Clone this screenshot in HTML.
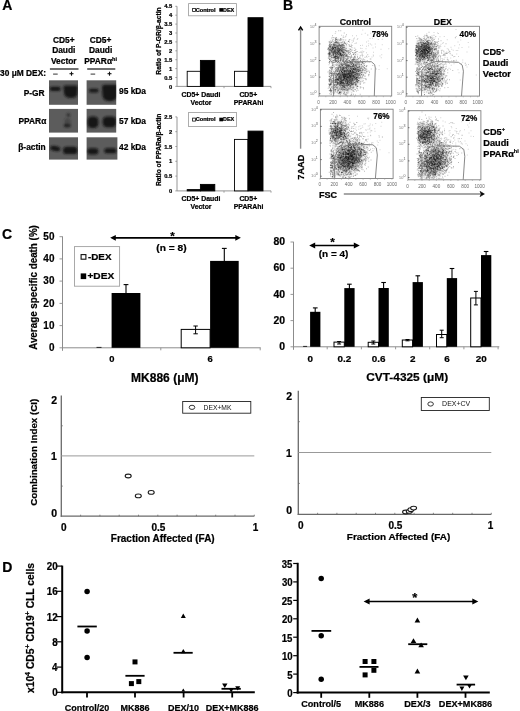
<!DOCTYPE html>
<html><head><meta charset="utf-8"><style>
html,body{margin:0;padding:0;background:#fff;width:520px;height:711px;overflow:hidden}
svg{display:block;will-change:transform}
text{font-family:"Liberation Sans",sans-serif}
text[font-weight=bold]{stroke:#000;stroke-width:0.22px}
</style></head><body>
<svg width="520" height="711" viewBox="0 0 520 711">
<defs>
<filter id="bb" x="-50%" y="-50%" width="200%" height="200%"><feGaussianBlur stdDeviation="1.0"/></filter>
<radialGradient id="hz"><stop offset="0" stop-color="#000" stop-opacity="1"/><stop offset="0.5" stop-color="#000" stop-opacity="0.6"/><stop offset="1" stop-color="#000" stop-opacity="0"/></radialGradient>
<filter id="db" x="-5%" y="-5%" width="110%" height="110%"><feGaussianBlur stdDeviation="0.45"/></filter>
<filter id="bn" x="0" y="0" width="100%" height="100%"><feTurbulence type="fractalNoise" baseFrequency="0.9" numOctaves="1" seed="3" result="n"/><feColorMatrix in="n" type="matrix" values="0 0 0 0 0.42  0 0 0 0 0.42  0 0 0 0 0.42  0 0 0 0.18 0" result="c"/><feComposite in="c" in2="SourceGraphic" operator="atop"/></filter>
</defs>
<rect width="520" height="711" fill="#fff"/>
<text x="2.2" y="9.5" font-size="14" text-anchor="start" font-weight="bold" fill="#000" >A</text>
<text x="63.8" y="42.6" font-size="8.4" text-anchor="middle" font-weight="bold" fill="#000" >CD5+</text>
<text x="63.8" y="53.2" font-size="8.4" text-anchor="middle" font-weight="bold" fill="#000" >Daudi</text>
<text x="63.8" y="63.8" font-size="8.4" text-anchor="middle" font-weight="bold" fill="#000" >Vector</text>
<text x="100.6" y="42.6" font-size="8.4" text-anchor="middle" font-weight="bold" fill="#000" >CD5+</text>
<text x="100.6" y="53.2" font-size="8.4" text-anchor="middle" font-weight="bold" fill="#000" >Daudi</text>
<text x="100.6" y="63.8" font-size="8.4" text-anchor="middle" font-weight="bold" fill="#000" >PPARα<tspan font-size="5.5" dy="-3.2">hi</tspan></text>
<line x1="49.9" y1="69.0" x2="78.5" y2="69.0" stroke="#222" stroke-width="1.3"/>
<line x1="87.2" y1="69.0" x2="115.3" y2="69.0" stroke="#222" stroke-width="1.3"/>
<text x="0.11" y="76.30" font-size="8.4" font-weight="bold" fill="#000" textLength="45.89" lengthAdjust="spacingAndGlyphs">30 μM DEX:</text>
<line x1="53.1" y1="74.1" x2="57.7" y2="74.1" stroke="#333" stroke-width="1.0"/>
<line x1="90.6" y1="74.1" x2="95.2" y2="74.1" stroke="#333" stroke-width="1.0"/>
<line x1="69.5" y1="73.7" x2="73.5" y2="73.7" stroke="#111" stroke-width="1.1"/>
<line x1="71.5" y1="71.7" x2="71.5" y2="75.7" stroke="#111" stroke-width="1.1"/>
<line x1="107.5" y1="73.7" x2="111.5" y2="73.7" stroke="#111" stroke-width="1.1"/>
<line x1="109.5" y1="71.7" x2="109.5" y2="75.7" stroke="#111" stroke-width="1.1"/>
<clipPath id="cb0"><rect x="49.0" y="80.3" width="29.0" height="24.5"/></clipPath>
<rect x="49.0" y="80.3" width="29.0" height="24.5" fill="#5c5c5c" stroke="none" stroke-width="1" />
<clipPath id="cb1"><rect x="86.6" y="80.3" width="29.6" height="24.5"/></clipPath>
<rect x="86.6" y="80.3" width="29.6" height="24.5" fill="#5c5c5c" stroke="none" stroke-width="1" />
<clipPath id="cb2"><rect x="49.0" y="108.9" width="29.0" height="23.7"/></clipPath>
<rect x="49.0" y="108.9" width="29.0" height="23.7" fill="#5c5c5c" stroke="none" stroke-width="1" />
<clipPath id="cb3"><rect x="86.6" y="108.9" width="29.6" height="23.7"/></clipPath>
<rect x="86.6" y="108.9" width="29.6" height="23.7" fill="#5c5c5c" stroke="none" stroke-width="1" />
<clipPath id="cb4"><rect x="49.0" y="137.3" width="29.0" height="22.3"/></clipPath>
<rect x="49.0" y="137.3" width="29.0" height="22.3" fill="#5c5c5c" stroke="none" stroke-width="1" />
<clipPath id="cb5"><rect x="86.6" y="137.3" width="30.8" height="22.3"/></clipPath>
<rect x="86.6" y="137.3" width="30.8" height="22.3" fill="#5c5c5c" stroke="none" stroke-width="1" />
<g clip-path="url(#cb0)"><g filter="url(#bb)"><rect x="49.8" y="86.8" width="10.8" height="4.2" rx="1.9" fill="#161616" opacity="1"/><path d="M63.4 87.2Q63.4 85.6 65.2 85.6L76.2 85.6Q77.9 85.6 77.8 87.6L77.4 94Q76.8 98.0 71.0 98.0Q65.0 98.0 64.2 94Z" fill="#161616" opacity="1"/></g></g>
<g clip-path="url(#cb1)"><g filter="url(#bb)"><rect x="88.9" y="88.7" width="9.7" height="3.9" rx="1.8" fill="#161616" opacity="1"/><path d="M102.0 87.0Q102.0 84.8 104.6 84.8L117 84.8L117 96.5Q115.8 101.2 109.6 101.2Q103.2 101.2 102.6 96Z" fill="#161616" opacity="1"/></g></g>
<g clip-path="url(#cb2)"><g filter="url(#bb)"><ellipse cx="68.4" cy="114.9" rx="1.9" ry="1.9" fill="#222" opacity="0.75" transform="rotate(0 68.4 114.9)"/><rect x="64.4" y="118.6" width="6.0" height="6.0" rx="2" fill="#2a2a2a" opacity="0.45"/><rect x="63.8" y="124.0" width="6.8" height="3.2" rx="1.4" fill="#1a1a1a" opacity="0.95"/></g></g>
<g clip-path="url(#cb3)"><g filter="url(#bb)"><rect x="87.4" y="116.6" width="11.0" height="11.4" rx="4.2" fill="#161616" opacity="1"/><rect x="102.6" y="116.6" width="13.8" height="10.7" rx="4.2" fill="#161616" opacity="1"/></g></g>
<g clip-path="url(#cb4)"><g filter="url(#bb)"><ellipse cx="55.2" cy="148.5" rx="5.2" ry="2.6" fill="#161616" opacity="1" transform="rotate(8 55.2 148.5)"/><rect x="63.0" y="146.8" width="14.6" height="7.2" rx="3.6" fill="#161616" opacity="1"/></g></g>
<g clip-path="url(#cb5)"><g filter="url(#bb)"><rect x="87.2" y="148.2" width="11.2" height="6.2" rx="3.1" fill="#161616" opacity="1"/><rect x="104.2" y="148.3" width="12.4" height="5.0" rx="2.5" fill="#161616" opacity="1"/></g></g>
<text x="44.6" y="95.8" font-size="8.4" text-anchor="end" font-weight="bold" fill="#000" >P-GR</text>
<text x="46.3" y="123.7" font-size="8.4" text-anchor="end" font-weight="bold" fill="#000" >PPARα</text>
<text x="45.7" y="149.8" font-size="8.4" text-anchor="end" font-weight="bold" fill="#000" >β-actin</text>
<text x="119.0" y="94.1" font-size="8.4" text-anchor="start" font-weight="bold" fill="#000" >95 kDa</text>
<text x="119.0" y="123.7" font-size="8.4" text-anchor="start" font-weight="bold" fill="#000" >57 kDa</text>
<text x="119.0" y="150.4" font-size="8.4" text-anchor="start" font-weight="bold" fill="#000" >42 kDa</text>
<line x1="177.0" y1="6.3" x2="177.0" y2="86.4" stroke="#8a8a8a" stroke-width="0.9"/>
<line x1="177.0" y1="86.4" x2="271.0" y2="86.4" stroke="#8a8a8a" stroke-width="0.9"/>
<line x1="175.3" y1="86.4" x2="177.0" y2="86.4" stroke="#8a8a8a" stroke-width="0.8"/>
<text x="172.2" y="88.5" font-size="5.8" text-anchor="end" font-weight="bold" fill="#000" >0</text>
<line x1="175.3" y1="77.5" x2="177.0" y2="77.5" stroke="#8a8a8a" stroke-width="0.8"/>
<text x="172.2" y="79.6" font-size="5.8" text-anchor="end" font-weight="bold" fill="#000" >0.5</text>
<line x1="175.3" y1="68.6" x2="177.0" y2="68.6" stroke="#8a8a8a" stroke-width="0.8"/>
<text x="172.2" y="70.7" font-size="5.8" text-anchor="end" font-weight="bold" fill="#000" >1</text>
<line x1="175.3" y1="59.7" x2="177.0" y2="59.7" stroke="#8a8a8a" stroke-width="0.8"/>
<text x="172.2" y="61.8" font-size="5.8" text-anchor="end" font-weight="bold" fill="#000" >1.5</text>
<line x1="175.3" y1="50.8" x2="177.0" y2="50.8" stroke="#8a8a8a" stroke-width="0.8"/>
<text x="172.2" y="52.9" font-size="5.8" text-anchor="end" font-weight="bold" fill="#000" >2</text>
<line x1="175.3" y1="41.9" x2="177.0" y2="41.9" stroke="#8a8a8a" stroke-width="0.8"/>
<text x="172.2" y="44.0" font-size="5.8" text-anchor="end" font-weight="bold" fill="#000" >2.5</text>
<line x1="175.3" y1="33.0" x2="177.0" y2="33.0" stroke="#8a8a8a" stroke-width="0.8"/>
<text x="172.2" y="35.1" font-size="5.8" text-anchor="end" font-weight="bold" fill="#000" >3</text>
<line x1="175.3" y1="24.1" x2="177.0" y2="24.1" stroke="#8a8a8a" stroke-width="0.8"/>
<text x="172.2" y="26.2" font-size="5.8" text-anchor="end" font-weight="bold" fill="#000" >3.5</text>
<line x1="175.3" y1="15.2" x2="177.0" y2="15.2" stroke="#8a8a8a" stroke-width="0.8"/>
<text x="172.2" y="17.3" font-size="5.8" text-anchor="end" font-weight="bold" fill="#000" >4</text>
<line x1="175.3" y1="6.3" x2="177.0" y2="6.3" stroke="#8a8a8a" stroke-width="0.8"/>
<text x="172.2" y="8.4" font-size="5.8" text-anchor="end" font-weight="bold" fill="#000" >4.5</text>
<line x1="224.0" y1="86.4" x2="224.0" y2="88.2" stroke="#8a8a8a" stroke-width="0.8"/>
<line x1="271.0" y1="86.4" x2="271.0" y2="88.2" stroke="#8a8a8a" stroke-width="0.8"/>
<rect x="187.2" y="71.3" width="13.2" height="15.1" fill="#fff" stroke="#000" stroke-width="0.9" />
<rect x="200.4" y="60.4" width="14.4" height="26.0" fill="#000" stroke="#000" stroke-width="0.9" />
<rect x="234.5" y="71.3" width="13.5" height="15.1" fill="#fff" stroke="#000" stroke-width="0.9" />
<rect x="248.0" y="17.7" width="15.0" height="68.7" fill="#000" stroke="#000" stroke-width="0.9" />
<rect x="188.6" y="3.6" width="47.8" height="12.2" fill="#fff" stroke="#999" stroke-width="0.8" />
<rect x="192.6" y="8.5" width="2.8" height="3.0" fill="#fff" stroke="#111" stroke-width="0.8" />
<text x="195.77" y="11.80" font-size="5.2" font-weight="bold" fill="#000" textLength="19.82" lengthAdjust="spacingAndGlyphs">Control</text>
<rect x="219.3" y="8.1" width="3.7" height="3.6" fill="#000" stroke="none" stroke-width="1" />
<text x="223.04" y="11.80" font-size="5.2" font-weight="bold" fill="#000" textLength="11.21" lengthAdjust="spacingAndGlyphs">DEX</text>
<text transform="translate(161.4,41.0) rotate(-90)" font-size="6.7" text-anchor="middle" font-weight="bold" fill="#000">Ratio of P-GR/β-actin</text>
<text x="201.0" y="97.4" font-size="6.9" text-anchor="middle" font-weight="bold" fill="#000" >CD5+ Daudi</text>
<text x="201.0" y="105.3" font-size="6.9" text-anchor="middle" font-weight="bold" fill="#000" >Vector</text>
<text x="248.3" y="97.4" font-size="6.9" text-anchor="middle" font-weight="bold" fill="#000" >CD5+</text>
<text x="248.6" y="105.3" font-size="6.9" text-anchor="middle" font-weight="bold" fill="#000" >PPARAhi</text>
<line x1="177.0" y1="116.9" x2="177.0" y2="190.9" stroke="#8a8a8a" stroke-width="0.9"/>
<line x1="177.0" y1="190.9" x2="271.0" y2="190.9" stroke="#8a8a8a" stroke-width="0.9"/>
<line x1="175.3" y1="190.9" x2="177.0" y2="190.9" stroke="#8a8a8a" stroke-width="0.8"/>
<text x="172.2" y="193.0" font-size="5.8" text-anchor="end" font-weight="bold" fill="#000" >0</text>
<line x1="175.3" y1="176.1" x2="177.0" y2="176.1" stroke="#8a8a8a" stroke-width="0.8"/>
<text x="172.2" y="178.2" font-size="5.8" text-anchor="end" font-weight="bold" fill="#000" >0.5</text>
<line x1="175.3" y1="161.3" x2="177.0" y2="161.3" stroke="#8a8a8a" stroke-width="0.8"/>
<text x="172.2" y="163.4" font-size="5.8" text-anchor="end" font-weight="bold" fill="#000" >1</text>
<line x1="175.3" y1="146.5" x2="177.0" y2="146.5" stroke="#8a8a8a" stroke-width="0.8"/>
<text x="172.2" y="148.6" font-size="5.8" text-anchor="end" font-weight="bold" fill="#000" >1.5</text>
<line x1="175.3" y1="131.7" x2="177.0" y2="131.7" stroke="#8a8a8a" stroke-width="0.8"/>
<text x="172.2" y="133.8" font-size="5.8" text-anchor="end" font-weight="bold" fill="#000" >2</text>
<line x1="175.3" y1="116.9" x2="177.0" y2="116.9" stroke="#8a8a8a" stroke-width="0.8"/>
<text x="172.2" y="119.0" font-size="5.8" text-anchor="end" font-weight="bold" fill="#000" >2.5</text>
<line x1="224.0" y1="190.9" x2="224.0" y2="192.7" stroke="#8a8a8a" stroke-width="0.8"/>
<line x1="271.0" y1="190.9" x2="271.0" y2="192.7" stroke="#8a8a8a" stroke-width="0.8"/>
<rect x="187.2" y="189.6" width="13.2" height="1.3" fill="#000" stroke="#000" stroke-width="0.9" />
<rect x="200.4" y="184.4" width="14.4" height="6.5" fill="#000" stroke="#000" stroke-width="0.9" />
<rect x="234.5" y="139.4" width="13.5" height="51.5" fill="#fff" stroke="#000" stroke-width="0.9" />
<rect x="248.0" y="131.1" width="15.0" height="59.8" fill="#000" stroke="#000" stroke-width="0.9" />
<rect x="188.6" y="112.4" width="47.8" height="14.2" fill="#fff" stroke="#999" stroke-width="0.8" />
<rect x="192.6" y="118.1" width="2.8" height="3.0" fill="#fff" stroke="#111" stroke-width="0.8" />
<text x="195.77" y="121.40" font-size="5.2" font-weight="bold" fill="#000" textLength="19.82" lengthAdjust="spacingAndGlyphs">Control</text>
<rect x="219.3" y="117.7" width="3.7" height="3.6" fill="#000" stroke="none" stroke-width="1" />
<text x="223.04" y="121.40" font-size="5.2" font-weight="bold" fill="#000" textLength="11.21" lengthAdjust="spacingAndGlyphs">DEX</text>
<text transform="translate(161.4,149.8) rotate(-90)" font-size="6.7" text-anchor="middle" font-weight="bold" fill="#000">Ratio of PPARa/β-actin</text>
<text x="201.0" y="201.4" font-size="6.9" text-anchor="middle" font-weight="bold" fill="#000" >CD5+ Daudi</text>
<text x="201.0" y="209.3" font-size="6.9" text-anchor="middle" font-weight="bold" fill="#000" >Vector</text>
<text x="248.3" y="201.4" font-size="6.9" text-anchor="middle" font-weight="bold" fill="#000" >CD5+</text>
<text x="248.6" y="209.3" font-size="6.9" text-anchor="middle" font-weight="bold" fill="#000" >PPARAhi</text>
<text x="282.9" y="9.7" font-size="14" text-anchor="start" font-weight="bold" fill="#000" >B</text>
<clipPath id="fp1"><rect x="328.7" y="26.8" width="62.5" height="68.7"/></clipPath>
<g clip-path="url(#fp1)"><ellipse cx="336.6" cy="51.3" rx="14.7" ry="14.7" transform="rotate(-35 336.6 51.3)" fill="url(#hz)" opacity="0.15"/><ellipse cx="347.6" cy="76.3" rx="23.0" ry="16.1" transform="rotate(-48 347.6 76.3)" fill="url(#hz)" opacity="0.29"/></g>
<g filter="url(#db)"><path transform="scale(.25)" d="M1326 231h0M1360 180h0M1318 223h0M1373 221h0M1368 205h0M1393 203h0M1340 201h0M1396 161h0M1313 193h0M1351 207h0M1338 209h0M1362 216h0M1372 193h0M1319 246h0M1316 227h0M1333 221h0M1415 156h0M1345 165h0M1350 223h0M1350 214h0M1334 183h0M1346 180h0M1378 167h0M1361 195h0M1358 179h0M1366 188h0M1382 200h0M1338 187h0M1369 204h0M1375 173h0M1365 208h0M1355 205h0M1341 190h0M1319 212h0M1381 228h0M1382 213h0M1373 208h0M1362 219h0M1379 172h0M1361 256h0M1366 222h0M1348 169h0M1424 207h0M1361 218h0M1336 185h0M1350 215h0M1380 204h0M1368 233h0M1342 233h0M1365 183h0M1359 213h0M1364 161h0M1356 219h0M1397 242h0M1354 171h0M1341 216h0M1408 182h0M1372 236h0M1372 245h0M1325 205h0M1382 224h0M1365 202h0M1326 203h0M1354 190h0M1364 195h0M1341 213h0M1368 217h0M1333 207h0M1341 259h0M1374 180h0M1318 186h0M1353 207h0M1396 178h0M1379 188h0M1315 233h0M1364 302h0M1378 201h0M1321 174h0M1327 152h0M1345 244h0M1364 156h0M1327 246h0M1350 172h0M1322 201h0M1383 201h0M1388 173h0M1329 187h0M1325 179h0M1319 246h0M1389 202h0M1378 191h0M1333 218h0M1322 187h0M1348 208h0M1357 242h0M1359 215h0M1360 170h0M1316 250h0M1351 243h0M1368 221h0M1332 150h0M1352 181h0M1324 207h0M1375 212h0M1343 156h0M1353 219h0M1334 222h0M1366 223h0M1317 200h0M1356 253h0M1367 187h0M1353 204h0M1348 198h0M1321 184h0M1357 249h0M1359 199h0M1343 210h0M1344 186h0M1354 207h0M1319 200h0M1330 143h0M1332 196h0M1335 216h0M1371 190h0M1334 194h0M1357 226h0M1321 187h0M1333 249h0M1350 195h0M1367 170h0M1374 211h0M1340 238h0M1356 160h0M1363 182h0M1330 199h0M1387 242h0M1399 158h0M1356 261h0M1348 182h0M1374 203h0M1342 209h0M1344 196h0M1342 190h0M1350 250h0M1360 209h0M1345 166h0M1364 181h0M1353 196h0M1369 227h0M1361 244h0M1316 197h0M1346 172h0M1352 230h0M1346 150h0M1385 237h0M1368 183h0M1329 208h0M1318 217h0M1340 205h0M1368 183h0M1331 249h0M1317 212h0M1339 200h0M1322 215h0M1383 160h0M1360 231h0M1373 210h0M1336 151h0M1330 221h0M1376 225h0M1353 193h0M1344 200h0M1361 216h0M1327 193h0M1345 241h0M1388 207h0M1377 210h0M1356 219h0M1321 216h0M1342 231h0M1333 211h0M1375 228h0M1316 197h0M1347 170h0M1348 187h0M1317 169h0M1354 184h0M1358 262h0M1413 268h0M1350 192h0M1372 237h0M1352 215h0M1344 179h0M1342 193h0M1333 242h0M1361 197h0M1355 196h0M1355 211h0M1353 206h0M1317 214h0M1332 208h0M1361 214h0M1343 127h0M1352 195h0M1408 191h0M1318 238h0M1350 234h0M1323 219h0M1342 205h0M1371 219h0M1330 185h0M1359 214h0M1343 207h0M1360 161h0M1321 200h0M1316 205h0M1381 175h0M1376 253h0M1320 170h0M1341 180h0M1362 155h0M1334 182h0M1339 198h0M1347 234h0M1367 193h0M1312 196h0M1387 251h0M1325 195h0M1316 192h0M1323 215h0M1376 184h0M1350 202h0M1360 227h0M1363 200h0M1344 217h0M1378 251h0M1317 214h0M1369 181h0M1376 183h0M1344 195h0M1402 186h0M1373 216h0M1373 218h0M1338 204h0M1362 183h0M1315 220h0M1344 226h0M1316 194h0M1362 243h0M1348 209h0M1351 211h0M1386 221h0M1332 258h0M1342 199h0M1394 166h0M1401 197h0M1332 231h0M1360 192h0M1326 185h0M1381 173h0M1334 205h0M1319 200h0M1353 210h0M1334 211h0M1325 237h0M1334 221h0M1320 208h0M1333 177h0M1398 168h0M1334 191h0M1400 211h0M1333 172h0M1345 226h0M1318 188h0M1337 191h0M1388 263h0M1368 157h0M1355 202h0M1359 229h0M1335 203h0M1337 209h0M1385 203h0M1342 234h0M1364 221h0M1317 166h0M1359 203h0M1338 170h0M1338 190h0M1337 223h0M1341 181h0M1351 237h0M1335 227h0M1399 205h0M1357 204h0M1318 211h0M1328 194h0M1342 196h0M1375 230h0M1368 203h0M1319 177h0M1352 218h0M1344 246h0M1345 218h0M1321 184h0M1373 150h0M1357 180h0M1340 184h0M1351 231h0M1375 159h0M1361 225h0M1344 229h0M1339 229h0M1373 224h0M1337 175h0M1344 172h0M1384 226h0M1351 185h0M1374 191h0M1315 216h0M1372 178h0M1344 196h0M1357 204h0M1383 202h0M1387 217h0M1328 199h0M1378 236h0M1340 227h0M1373 177h0M1321 224h0M1318 177h0M1357 181h0M1341 168h0M1348 159h0M1342 152h0M1370 177h0M1339 179h0M1340 218h0M1344 220h0M1367 222h0M1369 269h0M1368 200h0M1383 209h0M1339 191h0M1374 199h0M1358 201h0M1362 215h0M1373 236h0M1328 205h0M1364 216h0M1385 225h0M1354 237h0M1341 176h0M1374 251h0M1356 184h0M1333 217h0M1406 187h0M1339 181h0M1318 218h0M1381 275h0M1329 198h0M1371 190h0M1339 250h0M1320 182h0M1360 211h0M1350 225h0M1351 175h0M1362 233h0M1388 220h0M1386 178h0M1346 158h0M1367 203h0M1338 197h0M1325 225h0M1368 179h0M1348 183h0M1337 180h0M1351 195h0M1344 188h0M1317 216h0M1391 223h0M1351 227h0M1368 202h0M1319 235h0M1343 244h0M1372 207h0M1342 168h0M1368 193h0M1332 193h0M1319 211h0M1414 164h0M1341 189h0M1325 203h0M1341 237h0M1353 227h0M1336 242h0M1356 220h0M1331 188h0M1365 178h0M1330 189h0M1345 194h0M1357 208h0M1369 218h0M1344 171h0M1365 204h0M1359 210h0M1343 214h0M1358 181h0M1315 224h0M1323 164h0M1341 227h0M1345 209h0M1333 243h0M1380 175h0M1314 192h0M1367 194h0M1348 242h0M1371 207h0M1342 170h0M1387 222h0M1357 175h0M1345 235h0M1385 216h0M1370 185h0M1396 241h0M1330 202h0M1366 204h0M1353 264h0M1344 234h0M1414 217h0M1400 218h0M1315 216h0M1327 210h0M1377 132h0M1340 171h0M1394 213h0M1366 256h0M1367 231h0M1345 189h0M1337 208h0M1361 199h0M1393 166h0M1326 197h0M1339 239h0M1345 201h0M1369 222h0M1371 212h0M1331 208h0M1329 215h0M1324 209h0M1340 203h0M1334 199h0M1369 179h0M1328 224h0M1324 169h0M1344 155h0M1336 230h0M1318 219h0M1318 253h0M1348 214h0M1324 179h0M1334 187h0M1337 205h0M1374 210h0M1325 220h0M1384 194h0M1329 213h0M1353 230h0M1353 213h0M1373 144h0M1326 247h0M1376 235h0M1392 206h0M1378 210h0M1347 205h0M1359 222h0M1348 214h0M1360 160h0M1339 228h0M1339 206h0M1397 183h0M1354 234h0M1383 145h0M1334 217h0M1365 260h0M1352 189h0M1345 181h0M1335 216h0M1363 123h0M1375 227h0M1390 235h0M1358 202h0M1331 189h0M1363 156h0M1336 196h0M1340 214h0M1362 221h0M1334 194h0M1363 215h0M1340 242h0M1354 172h0M1361 221h0M1365 172h0M1362 238h0M1419 202h0M1329 231h0M1339 208h0M1325 205h0M1373 243h0M1367 204h0M1336 189h0M1360 235h0M1393 234h0M1352 201h0M1318 237h0M1333 262h0M1333 214h0M1343 243h0M1334 177h0M1320 189h0M1356 193h0M1340 191h0M1328 204h0M1322 242h0M1330 163h0M1365 228h0M1370 229h0M1341 209h0M1359 213h0M1373 191h0M1332 229h0M1370 245h0M1402 197h0M1315 211h0M1340 187h0M1367 212h0M1367 198h0M1315 201h0M1363 235h0M1394 203h0M1364 214h0M1383 220h0M1342 160h0M1372 199h0M1344 223h0M1352 200h0M1313 232h0M1357 196h0M1320 238h0M1364 198h0M1350 192h0M1340 226h0M1342 214h0M1425 172h0M1325 169h0M1360 220h0M1328 211h0M1344 228h0M1373 182h0M1371 196h0M1338 202h0M1347 245h0M1350 171h0M1353 178h0M1332 252h0M1337 249h0M1364 221h0M1374 222h0M1362 212h0M1368 225h0M1353 232h0M1377 182h0M1348 188h0M1344 215h0M1326 192h0M1349 210h0M1364 215h0M1330 261h0M1331 192h0M1345 220h0M1359 185h0M1326 169h0M1348 200h0M1350 230h0M1399 201h0M1352 249h0M1339 209h0M1341 223h0M1360 200h0M1340 205h0M1352 231h0M1333 210h0M1331 193h0M1320 178h0M1363 211h0M1363 242h0M1337 229h0M1349 187h0M1354 227h0M1352 210h0M1379 189h0M1362 190h0M1375 232h0M1349 187h0M1336 203h0M1334 228h0M1371 199h0M1350 235h0M1353 219h0M1337 233h0M1381 221h0M1353 214h0M1347 232h0M1378 216h0M1321 185h0M1342 202h0M1340 229h0M1372 200h0M1375 197h0M1318 207h0M1349 225h0M1368 195h0M1356 173h0M1366 238h0M1371 220h0M1343 239h0M1371 169h0M1311 198h0M1336 230h0M1367 249h0M1351 181h0M1349 199h0M1376 213h0M1352 229h0M1357 195h0M1362 216h0M1330 196h0M1373 187h0M1341 223h0M1317 228h0M1312 216h0M1362 189h0M1347 259h0M1355 245h0M1315 183h0M1378 170h0M1379 219h0M1321 226h0M1343 226h0M1328 179h0M1359 220h0M1349 221h0M1335 212h0M1356 203h0M1386 206h0M1374 208h0M1333 179h0M1393 226h0M1348 197h0M1363 231h0M1338 181h0M1332 192h0M1330 190h0M1350 248h0M1345 157h0M1320 210h0M1319 182h0M1342 159h0M1371 210h0M1330 197h0M1350 207h0M1356 195h0M1324 191h0M1321 200h0M1386 139h0M1385 193h0M1354 206h0M1362 244h0M1357 197h0M1347 211h0M1319 215h0M1343 227h0M1332 158h0M1356 229h0M1365 188h0M1320 187h0M1342 191h0M1357 211h0M1356 189h0M1336 213h0M1347 210h0M1332 208h0M1326 202h0M1366 227h0M1344 225h0M1355 203h0M1353 184h0M1363 203h0M1387 237h0M1326 222h0M1340 180h0M1378 197h0M1313 192h0M1372 260h0M1355 123h0M1319 245h0M1335 194h0M1360 199h0M1356 207h0M1343 248h0M1354 235h0M1361 196h0M1349 202h0M1332 166h0M1332 249h0M1341 162h0M1355 198h0M1362 184h0M1331 193h0M1349 200h0M1328 208h0M1340 229h0M1342 241h0M1346 226h0M1354 184h0M1370 205h0M1336 191h0M1327 180h0M1333 197h0M1361 206h0M1346 232h0M1372 189h0M1339 226h0M1388 238h0M1353 247h0M1422 210h0M1365 223h0M1334 195h0M1364 240h0M1360 187h0M1367 218h0M1358 196h0M1322 199h0M1329 200h0M1348 169h0M1319 223h0M1395 210h0M1323 190h0M1322 194h0M1342 223h0M1341 208h0M1319 200h0M1354 193h0M1332 188h0M1329 254h0M1423 220h0M1332 217h0M1345 168h0M1372 165h0M1337 176h0M1354 200h0M1352 165h0M1373 243h0M1327 230h0M1348 188h0M1362 239h0M1379 200h0M1335 178h0M1375 241h0M1349 161h0M1342 191h0M1345 217h0M1368 196h0M1352 157h0M1373 335h0M1356 313h0M1409 353h0M1368 343h0M1396 267h0M1381 379h0M1431 249h0M1376 358h0M1372 291h0M1330 272h0M1343 307h0M1367 356h0M1433 329h0M1395 356h0M1420 277h0M1376 288h0M1366 312h0M1453 323h0M1433 278h0M1377 248h0M1380 352h0M1345 286h0M1362 281h0M1423 335h0M1350 331h0M1404 288h0M1377 284h0M1330 270h0M1412 335h0M1355 336h0M1434 307h0M1402 254h0M1415 351h0M1383 325h0M1353 318h0M1391 361h0M1419 290h0M1346 295h0M1385 275h0M1406 327h0M1384 311h0M1384 355h0M1419 303h0M1399 226h0M1403 317h0M1405 301h0M1370 262h0M1412 330h0M1384 303h0M1375 247h0M1432 322h0M1365 298h0M1394 281h0M1370 333h0M1358 368h0M1345 331h0M1408 283h0M1425 324h0M1474 299h0M1394 340h0M1361 371h0M1409 252h0M1419 307h0M1371 298h0M1402 235h0M1414 319h0M1429 328h0M1439 270h0M1453 266h0M1349 336h0M1401 301h0M1323 331h0M1406 296h0M1436 263h0M1415 308h0M1342 303h0M1398 339h0M1408 338h0M1390 336h0M1408 321h0M1394 309h0M1403 343h0M1399 316h0M1388 269h0M1366 330h0M1402 247h0M1341 317h0M1356 297h0M1378 340h0M1360 338h0M1353 337h0M1361 252h0M1396 308h0M1393 312h0M1373 268h0M1400 321h0M1396 241h0M1345 297h0M1366 286h0M1379 350h0M1407 199h0M1415 239h0M1415 292h0M1419 264h0M1366 329h0M1392 265h0M1400 293h0M1395 300h0M1423 303h0M1374 307h0M1313 353h0M1363 364h0M1346 325h0M1425 308h0M1405 253h0M1419 318h0M1362 327h0M1343 330h0M1411 286h0M1368 306h0M1447 274h0M1375 315h0M1364 309h0M1377 259h0M1384 298h0M1445 260h0M1413 302h0M1408 290h0M1396 328h0M1387 286h0M1344 313h0M1395 295h0M1358 325h0M1385 282h0M1374 298h0M1409 319h0M1410 253h0M1412 293h0M1409 319h0M1387 255h0M1426 258h0M1357 312h0M1360 291h0M1428 281h0M1383 348h0M1398 300h0M1414 275h0M1393 323h0M1315 338h0M1426 310h0M1345 356h0M1366 320h0M1437 315h0M1457 270h0M1410 289h0M1348 369h0M1335 320h0M1360 272h0M1450 264h0M1410 304h0M1398 299h0M1395 272h0M1401 300h0M1388 261h0M1394 296h0M1418 297h0M1405 308h0M1430 318h0M1409 306h0M1361 329h0M1433 302h0M1363 334h0M1384 314h0M1368 312h0M1391 309h0M1400 259h0M1381 349h0M1400 287h0M1381 360h0M1385 359h0M1394 295h0M1403 326h0M1354 272h0M1326 286h0M1420 311h0M1390 249h0M1485 276h0M1346 271h0M1388 351h0M1434 234h0M1320 342h0M1441 248h0M1424 301h0M1373 316h0M1385 297h0M1363 311h0M1400 346h0M1422 313h0M1392 208h0M1408 325h0M1372 300h0M1390 284h0M1361 325h0M1392 304h0M1415 279h0M1441 377h0M1378 307h0M1371 296h0M1352 356h0M1391 228h0M1378 336h0M1383 336h0M1366 286h0M1373 302h0M1352 241h0M1429 318h0M1399 305h0M1383 328h0M1359 286h0M1405 296h0M1424 278h0M1381 259h0M1328 350h0M1389 322h0M1383 306h0M1396 309h0M1402 305h0M1375 319h0M1327 328h0M1392 321h0M1340 301h0M1398 261h0M1324 338h0M1415 348h0M1353 312h0M1422 273h0M1415 334h0M1357 339h0M1408 294h0M1339 323h0M1436 251h0M1405 333h0M1341 358h0M1366 337h0M1368 335h0M1399 296h0M1387 319h0M1373 303h0M1425 303h0M1333 327h0M1375 334h0M1385 376h0M1394 307h0M1398 265h0M1408 302h0M1403 247h0M1440 275h0M1419 318h0M1379 309h0M1405 274h0M1448 299h0M1400 302h0M1354 307h0M1407 243h0M1399 308h0M1352 319h0M1416 366h0M1429 320h0M1466 264h0M1416 258h0M1402 353h0M1408 243h0M1427 277h0M1432 300h0M1428 237h0M1417 329h0M1395 323h0M1354 276h0M1394 338h0M1344 292h0M1380 322h0M1411 297h0M1383 270h0M1359 309h0M1389 326h0M1422 261h0M1443 294h0M1344 324h0M1367 275h0M1402 214h0M1375 356h0M1386 340h0M1387 354h0M1391 336h0M1387 247h0M1331 299h0M1381 355h0M1408 322h0M1451 282h0M1402 275h0M1388 322h0M1437 299h0M1394 291h0M1424 338h0M1441 334h0M1391 342h0M1413 313h0M1379 333h0M1384 302h0M1331 314h0M1394 325h0M1404 302h0M1373 270h0M1422 275h0M1361 317h0M1422 279h0M1388 381h0M1394 261h0M1451 291h0M1433 286h0M1405 299h0M1384 326h0M1424 265h0M1413 218h0M1362 276h0M1351 362h0M1372 304h0M1359 332h0M1345 349h0M1352 297h0M1365 258h0M1409 297h0M1409 292h0M1408 276h0M1371 344h0M1364 321h0M1376 284h0M1387 247h0M1424 268h0M1461 275h0M1416 290h0M1367 276h0M1358 304h0M1371 323h0M1374 331h0M1376 304h0M1412 302h0M1350 339h0M1471 219h0M1386 275h0M1450 305h0M1405 285h0M1354 269h0M1402 282h0M1411 300h0M1441 338h0M1403 265h0M1422 298h0M1423 330h0M1346 283h0M1372 343h0M1369 337h0M1360 357h0M1367 295h0M1372 316h0M1422 282h0M1390 314h0M1426 287h0M1424 240h0M1417 283h0M1388 334h0M1435 298h0M1387 274h0M1405 307h0M1439 258h0M1429 329h0M1385 294h0M1416 311h0M1362 269h0M1402 335h0M1390 343h0M1380 285h0M1369 241h0M1401 284h0M1408 285h0M1385 291h0M1402 335h0M1385 257h0M1449 325h0M1393 265h0M1417 287h0M1404 332h0M1414 259h0M1388 294h0M1425 334h0M1393 328h0M1401 299h0M1375 349h0M1378 350h0M1393 310h0M1363 302h0M1365 335h0M1396 312h0M1401 328h0M1399 303h0M1386 312h0M1395 273h0M1369 347h0M1404 293h0M1372 274h0M1367 333h0M1366 283h0M1366 256h0M1404 249h0M1356 302h0M1350 338h0M1335 354h0M1391 294h0M1362 279h0M1316 334h0M1427 280h0M1431 306h0M1445 299h0M1349 356h0M1411 363h0M1410 285h0M1342 273h0M1378 286h0M1443 279h0M1382 300h0M1410 263h0M1425 276h0M1392 320h0M1405 224h0M1427 297h0M1415 339h0M1421 295h0M1377 345h0M1368 352h0M1430 225h0M1411 239h0M1409 316h0M1361 353h0M1359 316h0M1413 279h0M1403 293h0M1434 322h0M1390 296h0M1407 317h0M1360 252h0M1399 315h0M1449 217h0M1361 291h0M1354 274h0M1368 328h0M1347 344h0M1400 348h0M1477 297h0M1409 313h0M1441 223h0M1418 238h0M1388 245h0M1377 313h0M1345 276h0M1389 296h0M1443 272h0M1337 371h0M1418 272h0M1345 300h0M1363 298h0M1378 307h0M1406 249h0M1378 275h0M1420 316h0M1352 300h0M1393 304h0M1384 331h0M1408 315h0M1371 359h0M1409 252h0M1449 251h0M1335 323h0M1359 315h0M1392 317h0M1380 305h0M1324 295h0M1348 303h0M1365 234h0M1363 218h0M1387 311h0M1342 320h0M1393 259h0M1390 308h0M1383 262h0M1424 263h0M1390 249h0M1419 271h0M1399 270h0M1415 280h0M1384 333h0M1377 302h0M1401 333h0M1436 295h0M1365 368h0M1426 315h0M1395 308h0M1414 363h0M1406 335h0M1367 326h0M1379 314h0M1391 332h0M1376 255h0M1353 293h0M1394 250h0M1407 294h0M1350 270h0M1434 252h0M1432 304h0M1345 316h0M1478 290h0M1368 328h0M1414 274h0M1440 277h0M1404 320h0M1405 343h0M1401 349h0M1423 198h0M1407 227h0M1428 341h0M1435 285h0M1406 297h0M1400 287h0M1359 290h0M1438 253h0M1458 262h0M1381 271h0M1386 313h0M1382 303h0M1323 365h0M1375 303h0M1351 285h0M1400 358h0M1356 323h0M1366 326h0M1420 358h0M1392 361h0M1389 327h0M1460 229h0M1332 251h0M1378 311h0M1400 305h0M1343 320h0M1407 277h0M1407 316h0M1398 304h0M1363 337h0M1407 359h0M1376 317h0M1432 270h0M1392 294h0M1370 299h0M1335 294h0M1372 294h0M1475 303h0M1419 226h0M1380 313h0M1384 380h0M1418 289h0M1455 256h0M1391 319h0M1390 328h0M1368 353h0M1376 305h0M1380 314h0M1359 368h0M1425 344h0M1412 323h0M1389 303h0M1351 332h0M1327 277h0M1370 300h0M1423 315h0M1410 336h0M1442 282h0M1386 316h0M1469 285h0M1388 238h0M1440 309h0M1402 282h0M1405 290h0M1451 276h0M1352 319h0M1439 291h0M1408 302h0M1342 326h0M1369 254h0M1419 301h0M1429 301h0M1451 253h0M1336 297h0M1335 374h0M1382 246h0M1383 286h0M1391 316h0M1370 281h0M1411 279h0M1359 375h0M1428 250h0M1404 227h0M1414 336h0M1440 275h0M1414 265h0M1433 301h0M1427 283h0M1425 288h0M1377 257h0M1390 269h0M1385 317h0M1373 272h0M1384 325h0M1383 317h0M1404 302h0M1383 324h0M1382 263h0M1394 262h0M1416 305h0M1386 263h0M1344 310h0M1412 290h0M1360 372h0M1414 259h0M1396 312h0M1357 327h0M1401 281h0M1395 307h0M1445 258h0M1392 286h0M1428 269h0M1420 330h0M1410 247h0M1411 338h0M1413 348h0M1430 346h0M1326 297h0M1365 318h0M1362 308h0M1400 302h0M1365 313h0M1449 283h0M1446 298h0M1406 327h0M1420 240h0M1378 218h0M1346 316h0M1397 335h0M1365 319h0M1324 313h0M1372 296h0M1419 280h0M1359 372h0M1352 333h0M1347 320h0M1352 300h0M1367 321h0M1427 296h0M1406 221h0M1407 339h0M1359 335h0M1444 312h0M1415 294h0M1401 321h0M1402 308h0M1372 322h0M1346 311h0M1352 314h0M1362 314h0M1358 356h0M1433 325h0M1348 317h0M1376 287h0M1386 342h0M1353 280h0M1464 319h0M1419 268h0M1427 263h0M1388 320h0M1429 268h0M1355 288h0M1374 279h0M1360 282h0M1348 312h0M1350 303h0M1441 283h0M1361 295h0M1416 268h0M1428 307h0M1390 325h0M1395 283h0M1374 298h0M1457 275h0M1466 225h0M1403 267h0M1354 311h0M1420 306h0M1355 375h0M1433 293h0M1362 347h0M1373 270h0M1407 380h0M1363 316h0M1327 351h0M1436 272h0M1370 331h0M1414 305h0M1373 341h0M1363 315h0M1352 315h0M1368 258h0M1453 350h0M1362 326h0M1422 336h0M1365 358h0M1430 345h0M1427 348h0M1373 340h0M1350 326h0M1350 334h0M1422 249h0M1491 262h0M1400 296h0M1384 282h0M1409 289h0M1340 364h0M1408 289h0M1400 296h0M1400 339h0M1422 258h0M1390 261h0M1408 253h0M1412 321h0M1379 321h0M1407 265h0M1423 315h0M1382 283h0M1376 312h0M1405 316h0M1349 350h0M1428 327h0M1334 332h0M1414 278h0M1419 272h0M1373 323h0M1439 282h0M1399 302h0M1432 285h0M1413 311h0M1371 281h0M1440 301h0M1427 263h0M1368 348h0M1337 288h0M1380 286h0M1383 294h0M1430 297h0M1429 312h0M1426 364h0M1361 369h0M1410 268h0M1370 280h0M1386 323h0M1318 306h0M1365 300h0M1363 330h0M1377 365h0M1422 272h0M1374 321h0M1372 294h0M1383 332h0M1354 320h0M1359 300h0M1372 274h0M1430 291h0M1407 321h0M1412 266h0M1377 296h0M1374 309h0M1404 312h0M1455 247h0M1411 273h0M1437 259h0M1381 305h0M1384 297h0M1431 332h0M1377 289h0M1340 357h0M1349 320h0M1402 307h0M1426 313h0M1353 321h0M1348 312h0M1357 309h0M1387 266h0M1406 204h0M1380 253h0M1353 297h0M1400 314h0M1366 305h0M1348 318h0M1354 317h0M1410 319h0M1331 289h0M1397 331h0M1371 341h0M1334 316h0M1358 265h0M1324 268h0M1370 342h0M1362 307h0M1385 273h0M1351 331h0M1390 310h0M1408 332h0M1401 287h0M1417 211h0M1380 284h0M1450 249h0M1418 289h0M1416 253h0M1378 248h0M1426 310h0M1423 291h0M1342 361h0M1411 343h0M1416 302h0M1433 278h0M1337 330h0M1358 288h0M1393 284h0M1407 338h0M1381 304h0M1411 267h0M1437 322h0M1325 319h0M1366 322h0M1365 342h0M1391 348h0M1415 303h0M1398 303h0M1342 348h0M1341 322h0M1421 359h0M1393 368h0M1444 349h0M1372 302h0M1377 296h0M1384 339h0M1395 335h0M1423 305h0M1451 280h0M1391 357h0M1398 251h0M1384 235h0M1406 269h0M1378 311h0M1389 335h0M1386 306h0M1382 298h0M1374 346h0M1386 260h0M1439 301h0M1423 327h0M1375 332h0M1414 377h0M1391 329h0M1345 342h0M1397 291h0M1399 354h0M1350 352h0M1377 304h0M1410 291h0M1397 323h0M1397 318h0M1427 273h0M1379 293h0M1445 282h0M1409 296h0M1369 331h0M1373 276h0M1362 331h0M1446 257h0M1377 370h0M1426 293h0M1372 319h0M1468 263h0M1471 140h0M1339 343h0M1352 320h0M1435 309h0M1364 357h0M1416 285h0M1448 288h0M1371 331h0M1372 276h0M1404 331h0M1400 295h0M1469 242h0M1397 262h0M1412 262h0M1376 303h0M1368 353h0M1374 356h0M1394 352h0M1422 317h0M1372 348h0M1414 289h0M1375 298h0M1335 323h0M1345 246h0M1384 340h0M1386 301h0M1373 331h0M1338 340h0M1392 265h0M1379 302h0M1317 306h0M1351 317h0M1361 334h0M1411 308h0M1375 274h0M1433 272h0M1383 260h0M1465 316h0M1426 311h0M1378 325h0M1402 319h0M1399 306h0M1342 310h0M1441 352h0M1375 344h0M1412 255h0M1354 360h0M1371 291h0M1444 274h0M1362 280h0M1446 290h0M1445 311h0M1342 317h0M1422 288h0M1379 298h0M1422 280h0M1390 259h0M1400 311h0M1383 245h0M1371 299h0M1387 303h0M1418 308h0M1396 296h0M1442 305h0M1376 289h0M1456 270h0M1440 234h0M1377 313h0M1358 281h0M1382 253h0M1368 341h0M1332 314h0M1427 353h0M1395 273h0M1431 270h0M1338 339h0M1379 293h0M1357 304h0M1411 315h0M1388 360h0M1362 325h0M1447 267h0M1352 268h0M1385 296h0M1407 332h0M1413 355h0M1395 307h0M1384 316h0M1431 270h0M1348 320h0M1433 281h0M1365 328h0M1405 313h0M1367 335h0M1340 329h0M1412 337h0M1422 339h0M1427 318h0M1349 276h0M1324 362h0M1434 250h0M1390 331h0M1373 309h0M1404 307h0M1358 307h0M1415 242h0M1363 328h0M1393 315h0M1459 283h0M1392 309h0M1414 274h0M1372 280h0M1399 292h0M1357 352h0M1457 246h0M1396 353h0M1404 298h0M1450 277h0M1430 229h0M1377 316h0M1371 277h0M1369 271h0M1370 317h0M1404 304h0M1377 334h0M1397 294h0M1381 295h0M1467 277h0M1425 322h0M1356 321h0M1391 323h0M1363 298h0M1328 329h0M1425 287h0M1368 311h0M1387 311h0M1380 316h0M1430 299h0M1369 322h0M1361 319h0M1381 302h0M1387 270h0M1416 307h0M1375 308h0M1399 280h0M1386 319h0M1409 309h0M1345 338h0M1414 302h0M1365 314h0M1437 265h0M1396 244h0M1390 282h0M1403 344h0M1343 319h0M1367 321h0M1400 312h0M1433 277h0M1459 273h0M1402 286h0M1421 259h0M1417 277h0M1389 334h0M1415 291h0M1422 275h0M1373 328h0M1420 232h0M1342 359h0M1391 360h0M1376 283h0M1370 289h0M1423 308h0M1444 289h0M1414 328h0M1377 267h0M1408 249h0M1343 294h0M1325 290h0M1341 326h0M1351 333h0M1405 276h0M1425 313h0M1405 350h0M1388 306h0M1428 320h0M1377 358h0M1380 321h0M1312 288h0M1437 285h0M1344 319h0M1358 340h0M1442 243h0M1361 369h0M1334 302h0M1401 294h0M1410 313h0M1373 238h0M1419 321h0M1402 249h0M1319 338h0M1397 290h0M1408 278h0M1334 322h0M1401 328h0M1409 243h0M1401 291h0M1335 317h0M1423 251h0M1397 316h0M1414 307h0M1361 322h0M1404 304h0M1336 295h0M1431 295h0M1413 275h0M1335 351h0M1450 251h0M1363 268h0M1393 342h0M1397 293h0M1438 281h0M1401 286h0M1423 312h0M1373 272h0M1380 305h0M1428 316h0M1380 299h0M1420 292h0M1379 337h0M1403 306h0M1316 318h0M1437 295h0M1386 371h0M1344 324h0M1421 218h0M1426 300h0M1434 285h0M1429 326h0M1390 309h0M1394 287h0M1412 332h0M1446 269h0M1377 299h0M1373 310h0M1377 317h0M1407 332h0M1345 339h0M1404 274h0M1391 328h0M1369 290h0M1408 312h0M1365 372h0M1359 369h0M1361 348h0M1411 325h0M1380 299h0M1375 331h0M1403 329h0M1427 316h0M1413 287h0M1402 319h0M1384 258h0M1394 287h0M1416 310h0M1338 360h0M1382 243h0M1397 299h0M1395 338h0M1416 278h0M1459 291h0M1414 315h0M1450 311h0M1427 294h0M1409 315h0M1432 257h0M1369 290h0M1451 222h0M1367 309h0M1430 277h0M1341 367h0M1439 250h0M1454 355h0M1381 308h0M1459 331h0M1370 262h0M1384 305h0M1404 276h0M1369 277h0M1360 343h0M1415 239h0M1374 374h0M1419 308h0M1393 314h0M1390 308h0M1431 245h0M1382 317h0M1422 342h0M1396 317h0M1371 351h0M1423 298h0M1337 340h0M1423 338h0M1465 267h0M1371 320h0M1373 245h0M1460 291h0M1410 274h0M1369 264h0M1358 324h0M1407 358h0M1354 246h0M1433 280h0M1371 298h0M1452 248h0M1366 267h0M1396 339h0M1386 292h0M1351 284h0M1321 318h0M1420 313h0M1406 336h0M1328 245h0M1413 236h0M1428 253h0M1380 298h0M1378 346h0M1463 279h0M1388 331h0M1432 285h0M1355 311h0M1401 305h0M1350 297h0M1359 341h0M1414 290h0M1379 282h0M1396 338h0M1411 350h0M1434 287h0M1366 294h0M1368 291h0M1375 309h0M1401 343h0M1353 317h0M1429 275h0M1392 278h0M1428 320h0M1401 312h0M1437 280h0M1400 246h0M1322 336h0M1389 280h0M1416 256h0M1360 311h0M1421 292h0M1424 326h0M1345 307h0M1391 304h0M1403 310h0M1384 380h0M1351 364h0M1418 310h0M1381 283h0M1358 285h0M1383 305h0M1387 333h0M1426 265h0M1358 296h0M1357 313h0M1404 324h0M1428 327h0M1407 297h0M1368 269h0M1375 294h0M1385 311h0M1383 312h0M1408 300h0M1393 342h0M1401 310h0M1473 284h0M1445 236h0M1413 302h0M1391 299h0M1438 301h0M1439 230h0M1388 277h0M1335 269h0M1415 212h0M1358 268h0M1361 296h0M1383 309h0M1353 374h0M1359 293h0M1418 247h0M1429 327h0M1391 301h0M1408 268h0M1390 300h0M1397 330h0M1428 323h0M1373 267h0M1396 288h0M1405 331h0M1369 263h0M1442 243h0M1341 347h0M1381 270h0M1331 297h0M1387 287h0M1438 265h0M1385 286h0M1389 250h0M1409 306h0M1346 306h0M1460 305h0M1440 328h0M1400 288h0M1355 294h0M1404 267h0M1382 331h0M1389 277h0M1393 296h0M1392 298h0M1329 272h0M1400 345h0M1386 318h0M1386 268h0M1387 298h0M1413 306h0M1389 299h0M1419 279h0M1378 372h0M1391 281h0M1370 289h0M1364 273h0M1428 284h0M1375 344h0M1341 338h0M1378 348h0M1381 259h0M1406 309h0M1432 361h0M1376 377h0M1424 254h0M1386 361h0M1324 378h0M1352 347h0M1348 298h0M1430 310h0M1368 358h0M1379 290h0M1388 331h0M1415 266h0M1361 257h0M1376 320h0M1389 319h0M1380 344h0M1372 320h0M1436 311h0M1361 334h0M1364 336h0M1350 300h0M1428 279h0M1418 330h0M1354 361h0M1426 251h0M1350 316h0M1445 289h0M1418 313h0M1364 318h0M1393 263h0M1395 298h0M1371 334h0M1342 331h0M1374 338h0M1364 281h0M1430 355h0M1400 311h0M1322 359h0M1390 244h0M1350 318h0M1398 321h0M1357 370h0M1376 271h0M1355 321h0M1411 239h0M1456 314h0M1362 302h0M1368 287h0M1356 297h0M1315 320h0M1399 265h0M1380 360h0M1376 305h0M1368 328h0M1371 307h0M1399 326h0M1410 336h0M1393 257h0M1335 310h0M1382 342h0M1368 307h0M1345 262h0M1392 293h0M1399 280h0M1437 296h0M1392 326h0M1348 319h0M1354 335h0M1332 322h0M1351 285h0M1384 271h0M1374 307h0M1427 287h0M1368 302h0M1407 278h0M1362 340h0M1403 286h0M1420 332h0M1389 336h0M1465 291h0M1367 350h0M1441 347h0M1443 287h0M1431 281h0M1406 379h0M1358 371h0M1412 286h0M1414 275h0M1414 286h0M1388 346h0M1386 335h0M1364 342h0M1427 311h0M1347 328h0M1366 287h0M1454 332h0M1419 297h0M1377 341h0M1443 327h0M1404 340h0M1372 311h0M1382 324h0M1340 344h0M1390 227h0M1428 294h0M1360 304h0M1411 265h0M1392 293h0M1379 359h0M1386 268h0M1392 249h0M1371 360h0M1376 319h0M1408 238h0M1396 280h0M1386 299h0M1368 330h0M1363 334h0M1356 329h0M1362 275h0M1401 321h0M1411 320h0M1373 347h0M1339 244h0M1406 323h0M1387 308h0M1381 307h0M1345 324h0M1392 311h0M1416 297h0M1353 278h0M1391 373h0M1413 306h0M1350 328h0M1379 283h0M1404 256h0M1352 297h0M1425 319h0M1393 299h0M1395 332h0M1425 339h0M1373 307h0M1334 285h0M1397 301h0M1320 331h0M1353 332h0M1376 351h0M1406 258h0M1366 285h0M1401 246h0M1367 329h0M1422 380h0M1378 307h0M1360 334h0M1363 316h0M1402 265h0M1386 281h0M1399 261h0M1357 330h0M1413 261h0M1361 329h0M1374 332h0M1376 332h0M1422 288h0M1435 267h0M1464 275h0M1397 328h0M1364 324h0M1369 294h0M1394 295h0M1457 261h0M1367 300h0M1359 309h0M1368 328h0M1345 340h0M1389 280h0M1348 330h0M1395 266h0M1395 229h0M1379 341h0M1420 262h0M1338 350h0M1349 320h0M1365 306h0M1390 310h0M1343 281h0M1329 262h0M1381 296h0M1407 372h0M1460 282h0M1384 290h0M1434 322h0M1382 306h0M1371 322h0M1391 264h0M1419 277h0M1451 243h0M1401 250h0M1454 236h0M1417 336h0M1367 278h0M1416 298h0M1378 297h0M1384 325h0M1360 307h0M1377 281h0M1380 248h0M1429 310h0M1381 323h0M1401 273h0M1378 309h0M1444 210h0M1375 302h0M1355 305h0M1374 328h0M1453 301h0M1334 325h0M1368 288h0M1363 324h0M1356 306h0M1378 285h0M1388 319h0M1412 288h0M1421 276h0M1380 376h0M1481 236h0M1454 279h0M1390 330h0M1359 315h0M1406 291h0M1342 299h0M1410 282h0M1374 285h0M1367 328h0M1412 325h0M1403 267h0M1379 270h0M1392 357h0M1359 307h0M1402 292h0M1389 253h0M1360 293h0M1384 300h0M1328 301h0M1372 363h0M1357 296h0M1371 279h0M1431 295h0M1378 294h0M1351 368h0M1447 249h0M1391 336h0M1354 294h0M1399 320h0M1362 379h0M1432 257h0M1347 293h0M1398 284h0M1454 299h0M1426 272h0M1366 311h0M1427 283h0M1354 330h0M1378 311h0M1389 368h0M1399 322h0M1462 315h0M1393 271h0M1396 335h0M1403 230h0M1429 238h0M1375 303h0M1401 284h0M1369 290h0M1436 269h0M1432 346h0M1435 312h0M1385 316h0M1403 326h0M1362 265h0M1400 284h0M1416 316h0M1395 325h0M1388 303h0M1374 318h0M1398 329h0M1366 288h0M1410 282h0M1432 314h0M1363 269h0M1346 351h0M1402 381h0M1350 275h0M1321 359h0M1400 341h0M1349 331h0M1385 243h0M1437 313h0M1360 332h0M1465 284h0M1431 255h0M1377 313h0M1397 332h0M1423 290h0M1388 340h0M1408 295h0M1415 262h0M1416 322h0M1388 344h0M1441 311h0M1413 256h0M1428 244h0M1327 365h0M1317 362h0M1321 269h0M1325 325h0M1330 355h0M1323 353h0M1329 323h0M1321 338h0M1328 345h0M1325 284h0M1327 332h0M1327 317h0M1317 294h0M1325 283h0M1321 311h0M1318 297h0M1323 367h0M1326 277h0M1322 356h0M1316 345h0M1326 293h0M1317 300h0M1321 340h0M1317 284h0M1327 270h0M1325 307h0M1321 311h0M1321 354h0M1329 329h0M1326 360h0M1318 318h0M1317 350h0M1329 280h0M1322 335h0M1324 271h0M1322 303h0M1325 365h0M1317 326h0M1323 309h0M1319 316h0M1318 341h0M1321 363h0M1320 289h0M1319 347h0M1328 362h0M1324 337h0M1321 325h0M1318 363h0M1322 319h0M1318 323h0M1319 375h0M1317 305h0M1317 288h0M1323 273h0M1325 332h0M1327 303h0M1325 303h0M1326 376h0M1319 341h0M1328 293h0M1317 323h0M1324 334h0M1327 303h0M1328 345h0M1320 291h0M1323 361h0M1329 325h0M1324 321h0M1327 268h0M1326 323h0M1324 361h0M1318 323h0M1330 293h0M1325 296h0M1327 337h0M1318 281h0M1321 315h0M1328 371h0M1324 275h0M1323 371h0M1317 315h0M1320 338h0M1319 270h0M1319 324h0M1322 360h0M1319 338h0M1329 268h0M1323 288h0M1322 294h0M1327 294h0" stroke="#000" stroke-opacity="0.3" stroke-width="3.6" stroke-linecap="square" fill="none"/><path transform="scale(.25)" d="M1369 277h0M1405 282h0M1319 280h0M1361 184h0M1385 249h0M1333 196h0M1388 266h0M1392 260h0M1435 236h0M1374 260h0M1423 297h0M1354 294h0M1351 283h0M1322 200h0M1403 270h0M1360 202h0M1354 239h0M1395 261h0M1336 234h0M1333 293h0M1408 250h0M1348 226h0M1371 327h0M1402 272h0M1409 238h0M1356 271h0M1335 295h0M1354 217h0M1402 248h0M1363 301h0M1418 236h0M1410 210h0M1418 264h0M1374 306h0M1386 201h0M1384 286h0M1405 307h0M1361 218h0M1323 241h0M1353 263h0M1425 241h0M1331 258h0M1379 280h0M1417 273h0M1382 234h0M1384 289h0M1361 310h0M1373 282h0M1320 293h0M1369 242h0M1379 265h0M1350 217h0M1385 280h0M1378 249h0M1365 198h0M1357 234h0M1368 185h0M1331 241h0M1313 214h0M1419 249h0M1356 258h0M1339 260h0M1357 224h0M1374 279h0M1372 216h0M1375 236h0M1357 263h0M1386 283h0M1360 336h0M1403 281h0M1428 294h0M1423 295h0M1360 285h0M1409 283h0M1415 278h0M1347 252h0M1343 217h0M1437 285h0M1413 217h0M1398 244h0M1396 282h0M1414 233h0M1414 291h0M1385 224h0M1334 205h0M1322 283h0M1322 233h0M1383 242h0M1388 297h0M1357 279h0M1407 257h0M1405 257h0M1379 287h0M1366 253h0M1391 291h0M1340 294h0M1380 266h0M1418 229h0M1345 223h0M1379 274h0M1327 274h0M1336 266h0M1441 295h0M1375 289h0M1399 184h0M1349 283h0M1392 226h0M1389 272h0M1371 259h0M1435 283h0M1403 205h0M1363 285h0M1382 253h0M1345 270h0M1370 209h0M1456 254h0M1316 213h0M1355 245h0M1347 256h0M1421 226h0M1409 285h0M1338 214h0M1398 291h0M1399 279h0M1353 280h0M1340 278h0M1402 282h0M1417 280h0M1408 265h0M1428 258h0M1422 239h0M1338 267h0M1373 244h0M1350 286h0M1389 289h0M1362 271h0M1343 239h0M1400 285h0M1379 298h0M1351 303h0M1370 256h0M1345 303h0M1344 304h0M1420 202h0M1373 223h0M1359 259h0M1366 281h0M1389 204h0M1335 217h0M1331 277h0M1369 261h0M1354 273h0M1391 286h0M1367 272h0M1342 330h0M1379 224h0M1376 295h0M1350 296h0M1364 301h0M1375 231h0M1380 298h0M1386 224h0M1316 259h0M1358 250h0M1361 268h0M1346 208h0M1365 249h0M1367 261h0M1351 208h0M1388 306h0M1389 263h0M1392 247h0M1328 197h0M1376 222h0M1343 271h0M1404 304h0M1318 250h0M1349 260h0M1372 273h0M1365 220h0M1353 280h0M1377 283h0M1373 295h0M1341 275h0M1388 232h0M1342 233h0M1413 243h0M1400 244h0M1380 278h0M1379 243h0M1357 317h0M1418 276h0M1355 271h0M1432 236h0M1376 274h0M1402 207h0M1403 236h0M1397 195h0M1435 295h0M1430 206h0M1484 236h0M1440 228h0M1442 182h0M1418 227h0M1409 240h0M1555 195h0M1405 181h0M1424 212h0M1468 229h0M1414 236h0M1516 278h0M1439 278h0M1409 169h0M1352 255h0M1437 210h0M1373 268h0M1398 185h0M1456 239h0M1360 296h0M1392 212h0M1384 220h0M1493 220h0M1455 206h0M1478 285h0M1460 304h0M1431 154h0M1358 208h0M1459 239h0M1433 243h0M1404 230h0M1392 234h0M1453 300h0M1488 228h0M1398 217h0M1331 272h0M1462 250h0M1422 262h0M1466 286h0M1347 332h0M1388 290h0M1366 285h0M1549 275h0M1421 299h0M1416 240h0M1396 228h0M1427 206h0M1477 249h0M1361 204h0M1417 221h0M1492 192h0M1420 229h0M1412 259h0M1448 212h0M1394 250h0M1418 213h0M1342 248h0M1398 255h0M1389 231h0M1408 161h0M1422 246h0M1415 238h0M1490 153h0M1372 206h0M1382 213h0M1356 219h0M1444 206h0M1452 268h0M1460 244h0M1326 228h0M1451 120h0M1452 209h0M1452 289h0M1417 192h0M1450 181h0M1422 231h0M1473 164h0M1430 309h0M1412 311h0M1466 168h0M1447 248h0M1387 224h0M1332 302h0M1445 221h0M1462 294h0M1415 231h0M1450 227h0M1506 276h0M1431 217h0M1319 189h0M1525 231h0M1480 154h0M1360 271h0M1475 175h0M1345 189h0M1426 143h0M1502 188h0M1438 267h0M1416 233h0M1400 312h0M1475 226h0M1397 231h0M1395 288h0M1442 193h0M1351 259h0M1440 266h0M1422 248h0M1424 309h0M1420 193h0M1464 265h0M1405 288h0M1449 204h0M1379 300h0M1466 185h0M1529 157h0M1380 216h0M1343 153h0M1389 219h0M1494 209h0M1378 206h0M1529 179h0M1341 134h0M1414 258h0M1520 224h0M1367 181h0M1362 189h0M1483 133h0M1429 158h0M1450 237h0M1482 176h0M1510 131h0M1380 149h0M1464 195h0M1447 137h0M1339 231h0M1456 254h0M1410 210h0M1409 248h0M1380 196h0M1487 180h0M1410 143h0M1524 197h0M1418 152h0M1405 177h0M1357 178h0M1393 216h0M1332 264h0M1499 131h0M1415 229h0M1325 250h0M1526 139h0M1386 261h0M1378 229h0M1490 130h0M1420 174h0M1494 140h0M1461 133h0M1448 194h0M1517 263h0M1494 224h0M1398 210h0M1408 230h0M1527 219h0M1348 204h0M1431 251h0M1386 183h0M1466 211h0M1423 211h0M1366 141h0M1411 201h0M1474 183h0M1389 260h0M1513 158h0M1501 176h0" stroke="#000" stroke-opacity="0.2" stroke-width="3.6" stroke-linecap="square" fill="none"/></g>
<polyline points="333.6,96.0 333.6,75.5 335.8,70.4 341.5,65.4 347.3,62.6 352.0,61.7 371.3,61.7 374.6,64.5 375.3,68.0 374.3,96.0" fill="none" stroke="#7a7a7a" stroke-width="0.9"/>
<rect x="319.1" y="26.3" width="72.6" height="69.7" fill="none" stroke="#808080" stroke-width="0.9" />
<line x1="318.6" y1="96.0" x2="318.6" y2="97.2" stroke="#999" stroke-width="0.6"/>
<line x1="325.8" y1="96.0" x2="325.8" y2="97.2" stroke="#999" stroke-width="0.6"/>
<line x1="333.0" y1="96.0" x2="333.0" y2="97.2" stroke="#999" stroke-width="0.6"/>
<line x1="340.2" y1="96.0" x2="340.2" y2="97.2" stroke="#999" stroke-width="0.6"/>
<line x1="347.4" y1="96.0" x2="347.4" y2="97.2" stroke="#999" stroke-width="0.6"/>
<line x1="354.6" y1="96.0" x2="354.6" y2="97.2" stroke="#999" stroke-width="0.6"/>
<line x1="361.8" y1="96.0" x2="361.8" y2="97.2" stroke="#999" stroke-width="0.6"/>
<line x1="369.0" y1="96.0" x2="369.0" y2="97.2" stroke="#999" stroke-width="0.6"/>
<line x1="376.2" y1="96.0" x2="376.2" y2="97.2" stroke="#999" stroke-width="0.6"/>
<line x1="383.4" y1="96.0" x2="383.4" y2="97.2" stroke="#999" stroke-width="0.6"/>
<line x1="390.6" y1="96.0" x2="390.6" y2="97.2" stroke="#999" stroke-width="0.6"/>
<text x="318.6" y="103.9" font-size="4.6" text-anchor="middle" font-weight="normal" fill="#6a6a6a" >0</text>
<text x="333.0" y="103.9" font-size="4.6" text-anchor="middle" font-weight="normal" fill="#6a6a6a" >200</text>
<text x="347.4" y="103.9" font-size="4.6" text-anchor="middle" font-weight="normal" fill="#6a6a6a" >400</text>
<text x="361.8" y="103.9" font-size="4.6" text-anchor="middle" font-weight="normal" fill="#6a6a6a" >600</text>
<text x="376.2" y="103.9" font-size="4.6" text-anchor="middle" font-weight="normal" fill="#6a6a6a" >800</text>
<text x="390.6" y="103.9" font-size="4.6" text-anchor="middle" font-weight="normal" fill="#6a6a6a" >1000</text>
<text x="313.1" y="94.7" font-size="4.4" text-anchor="middle" font-weight="normal" fill="#8a8a8a" >10<tspan font-size="3.6" dy="-2.0" fill="#555">0</tspan></text>
<line x1="319.1" y1="93.7" x2="320.4" y2="93.7" stroke="#555" stroke-width="0.9"/>
<text x="313.1" y="78.1" font-size="4.4" text-anchor="middle" font-weight="normal" fill="#8a8a8a" >10<tspan font-size="3.6" dy="-2.0" fill="#555">1</tspan></text>
<line x1="319.1" y1="77.1" x2="320.4" y2="77.1" stroke="#555" stroke-width="0.9"/>
<text x="313.1" y="61.5" font-size="4.4" text-anchor="middle" font-weight="normal" fill="#8a8a8a" >10<tspan font-size="3.6" dy="-2.0" fill="#555">2</tspan></text>
<line x1="319.1" y1="60.5" x2="320.4" y2="60.5" stroke="#555" stroke-width="0.9"/>
<text x="313.1" y="44.9" font-size="4.4" text-anchor="middle" font-weight="normal" fill="#8a8a8a" >10<tspan font-size="3.6" dy="-2.0" fill="#555">3</tspan></text>
<line x1="319.1" y1="43.9" x2="320.4" y2="43.9" stroke="#555" stroke-width="0.9"/>
<text x="313.1" y="28.3" font-size="4.4" text-anchor="middle" font-weight="normal" fill="#8a8a8a" >10<tspan font-size="3.6" dy="-2.0" fill="#555">4</tspan></text>
<line x1="319.1" y1="27.3" x2="320.4" y2="27.3" stroke="#555" stroke-width="0.9"/>
<text x="355.4" y="24.8" font-size="8.8" text-anchor="middle" font-weight="bold" fill="#000" >Control</text>
<text x="388.2" y="36.5" font-size="8.2" text-anchor="end" font-weight="bold" fill="#000" >78%</text>
<clipPath id="fp2"><rect x="415.8" y="26.8" width="63.2" height="68.8"/></clipPath>
<g clip-path="url(#fp2)"><ellipse cx="423.7" cy="50.8" rx="15.6" ry="14.7" transform="rotate(-25 423.7 50.8)" fill="url(#hz)" opacity="0.20"/><ellipse cx="431.2" cy="78.3" rx="18.4" ry="14.3" transform="rotate(-55 431.2 78.3)" fill="url(#hz)" opacity="0.16"/></g>
<g filter="url(#db)"><path transform="scale(.25)" d="M1743 197h0M1690 209h0M1676 240h0M1714 235h0M1716 235h0M1735 188h0M1712 222h0M1705 196h0M1766 204h0M1694 170h0M1666 212h0M1718 213h0M1680 210h0M1732 211h0M1738 178h0M1695 227h0M1739 179h0M1684 202h0M1736 218h0M1682 240h0M1728 225h0M1682 208h0M1714 210h0M1679 232h0M1708 191h0M1718 225h0M1696 205h0M1669 214h0M1667 189h0M1724 203h0M1705 204h0M1710 148h0M1729 175h0M1664 196h0M1672 210h0M1705 176h0M1709 183h0M1710 236h0M1675 181h0M1701 212h0M1682 198h0M1700 175h0M1683 187h0M1706 187h0M1704 199h0M1684 185h0M1720 177h0M1678 176h0M1688 183h0M1680 239h0M1717 201h0M1706 215h0M1697 209h0M1667 206h0M1663 146h0M1728 144h0M1676 226h0M1712 242h0M1704 224h0M1691 207h0M1695 202h0M1747 224h0M1693 198h0M1711 224h0M1714 197h0M1681 275h0M1736 198h0M1718 231h0M1737 187h0M1701 196h0M1739 173h0M1696 233h0M1711 196h0M1719 201h0M1699 212h0M1712 202h0M1709 202h0M1699 176h0M1748 208h0M1710 214h0M1746 194h0M1669 227h0M1720 162h0M1726 244h0M1689 205h0M1689 266h0M1697 216h0M1720 189h0M1669 203h0M1703 224h0M1716 180h0M1672 176h0M1720 253h0M1704 191h0M1738 197h0M1741 227h0M1666 219h0M1703 235h0M1695 208h0M1670 187h0M1697 195h0M1710 222h0M1706 200h0M1692 174h0M1680 195h0M1729 153h0M1692 220h0M1691 224h0M1678 240h0M1677 151h0M1685 198h0M1710 214h0M1715 207h0M1670 226h0M1678 223h0M1722 214h0M1708 267h0M1674 174h0M1680 210h0M1691 225h0M1686 209h0M1784 175h0M1716 195h0M1691 224h0M1662 222h0M1710 166h0M1753 204h0M1702 193h0M1696 146h0M1705 144h0M1697 240h0M1683 156h0M1673 190h0M1715 184h0M1753 214h0M1678 247h0M1715 162h0M1678 188h0M1670 214h0M1694 181h0M1662 236h0M1740 215h0M1680 191h0M1711 170h0M1692 215h0M1699 208h0M1697 217h0M1703 201h0M1713 207h0M1718 206h0M1710 206h0M1669 202h0M1680 191h0M1676 193h0M1681 219h0M1789 214h0M1695 205h0M1686 201h0M1714 207h0M1712 221h0M1692 225h0M1689 179h0M1716 168h0M1707 178h0M1690 237h0M1705 198h0M1681 205h0M1717 193h0M1714 179h0M1726 212h0M1698 225h0M1721 153h0M1671 188h0M1684 170h0M1738 181h0M1698 197h0M1682 212h0M1695 213h0M1704 176h0M1679 154h0M1707 200h0M1665 223h0M1717 191h0M1713 211h0M1736 217h0M1675 207h0M1685 180h0M1702 210h0M1683 156h0M1697 201h0M1724 215h0M1671 212h0M1707 219h0M1721 186h0M1668 238h0M1671 164h0M1690 182h0M1709 230h0M1685 186h0M1702 192h0M1708 225h0M1706 212h0M1695 207h0M1734 221h0M1676 231h0M1708 175h0M1718 208h0M1743 229h0M1700 212h0M1677 219h0M1694 198h0M1708 221h0M1726 210h0M1724 150h0M1691 203h0M1681 197h0M1720 179h0M1699 213h0M1685 181h0M1695 236h0M1666 183h0M1743 185h0M1663 182h0M1702 226h0M1711 186h0M1707 186h0M1666 190h0M1720 193h0M1727 215h0M1713 192h0M1735 157h0M1739 235h0M1685 191h0M1728 219h0M1703 182h0M1684 168h0M1734 217h0M1698 219h0M1689 208h0M1697 197h0M1764 163h0M1711 171h0M1702 199h0M1684 231h0M1729 224h0M1695 175h0M1719 201h0M1716 129h0M1693 207h0M1709 164h0M1726 197h0M1671 280h0M1680 223h0M1683 206h0M1682 223h0M1734 233h0M1676 200h0M1699 219h0M1674 196h0M1741 220h0M1762 228h0M1692 242h0M1712 193h0M1704 181h0M1666 210h0M1687 179h0M1666 215h0M1681 214h0M1674 199h0M1673 260h0M1699 226h0M1664 185h0M1698 190h0M1700 218h0M1719 214h0M1680 157h0M1723 232h0M1716 222h0M1713 210h0M1694 162h0M1716 208h0M1684 195h0M1674 223h0M1711 216h0M1706 233h0M1690 237h0M1691 245h0M1709 169h0M1698 174h0M1752 207h0M1702 210h0M1690 193h0M1668 214h0M1724 199h0M1735 213h0M1699 176h0M1668 206h0M1712 233h0M1752 182h0M1723 200h0M1684 235h0M1702 218h0M1718 187h0M1705 223h0M1747 218h0M1694 189h0M1713 177h0M1687 187h0M1686 235h0M1704 217h0M1673 187h0M1752 166h0M1754 156h0M1715 161h0M1743 197h0M1697 187h0M1751 216h0M1701 208h0M1689 227h0M1696 220h0M1725 196h0M1729 168h0M1729 194h0M1706 214h0M1713 148h0M1699 201h0M1718 195h0M1690 215h0M1712 179h0M1702 199h0M1684 211h0M1743 170h0M1719 210h0M1725 183h0M1676 235h0M1730 207h0M1699 198h0M1696 230h0M1684 205h0M1708 192h0M1694 191h0M1733 211h0M1669 248h0M1708 202h0M1724 205h0M1708 212h0M1690 178h0M1691 223h0M1677 186h0M1686 194h0M1713 230h0M1748 180h0M1699 176h0M1720 207h0M1690 227h0M1685 214h0M1706 202h0M1711 210h0M1686 215h0M1726 218h0M1673 204h0M1674 180h0M1729 242h0M1680 204h0M1687 207h0M1698 257h0M1680 231h0M1723 196h0M1715 149h0M1706 196h0M1695 184h0M1665 198h0M1705 217h0M1742 176h0M1667 244h0M1677 185h0M1695 154h0M1686 261h0M1690 221h0M1716 161h0M1713 228h0M1734 226h0M1780 222h0M1708 182h0M1711 179h0M1698 202h0M1696 235h0M1686 188h0M1697 203h0M1712 196h0M1715 184h0M1700 219h0M1681 218h0M1713 225h0M1690 209h0M1737 200h0M1712 189h0M1716 220h0M1738 166h0M1697 232h0M1717 230h0M1688 171h0M1700 184h0M1688 163h0M1705 172h0M1697 229h0M1682 186h0M1730 180h0M1720 191h0M1705 196h0M1720 147h0M1686 227h0M1734 211h0M1678 223h0M1729 239h0M1755 190h0M1721 214h0M1698 212h0M1708 203h0M1714 197h0M1695 236h0M1712 176h0M1703 177h0M1698 184h0M1687 221h0M1683 232h0M1734 180h0M1683 222h0M1676 172h0M1745 168h0M1752 203h0M1718 205h0M1696 222h0M1687 220h0M1676 215h0M1707 202h0M1710 212h0M1734 173h0M1703 202h0M1732 232h0M1695 180h0M1708 180h0M1683 173h0M1693 219h0M1744 178h0M1692 199h0M1668 189h0M1680 237h0M1712 188h0M1698 205h0M1714 207h0M1690 206h0M1713 174h0M1698 230h0M1741 167h0M1692 183h0M1697 199h0M1727 212h0M1708 201h0M1716 190h0M1744 223h0M1735 233h0M1687 222h0M1695 184h0M1703 197h0M1710 202h0M1711 189h0M1707 225h0M1730 193h0M1664 245h0M1701 173h0M1677 263h0M1684 206h0M1730 229h0M1700 201h0M1736 222h0M1697 189h0M1680 236h0M1667 202h0M1706 184h0M1714 192h0M1693 231h0M1696 195h0M1723 165h0M1669 217h0M1676 162h0M1687 202h0M1677 219h0M1745 244h0M1675 240h0M1687 186h0M1673 191h0M1706 195h0M1709 204h0M1707 200h0M1674 233h0M1688 210h0M1701 205h0M1674 198h0M1670 207h0M1704 175h0M1721 240h0M1662 221h0M1701 195h0M1690 227h0M1696 211h0M1682 245h0M1741 175h0M1701 187h0M1731 200h0M1701 199h0M1675 220h0M1686 158h0M1679 160h0M1735 189h0M1700 181h0M1745 192h0M1697 199h0M1672 205h0M1676 180h0M1706 156h0M1720 228h0M1706 209h0M1675 185h0M1724 151h0M1695 174h0M1716 212h0M1725 191h0M1694 196h0M1696 202h0M1714 190h0M1716 258h0M1669 220h0M1743 146h0M1733 192h0M1729 207h0M1671 242h0M1672 173h0M1697 175h0M1695 213h0M1669 239h0M1716 198h0M1718 191h0M1729 177h0M1709 217h0M1692 163h0M1701 233h0M1668 176h0M1697 177h0M1720 175h0M1704 202h0M1709 175h0M1688 218h0M1717 217h0M1712 211h0M1691 213h0M1714 171h0M1727 250h0M1702 209h0M1701 205h0M1663 210h0M1708 168h0M1690 205h0M1710 178h0M1731 195h0M1700 195h0M1667 184h0M1714 194h0M1724 211h0M1676 216h0M1720 195h0M1711 230h0M1680 243h0M1687 217h0M1689 184h0M1672 243h0M1689 217h0M1687 214h0M1690 204h0M1733 232h0M1666 201h0M1701 191h0M1702 222h0M1685 180h0M1718 198h0M1708 202h0M1664 252h0M1690 238h0M1667 219h0M1696 187h0M1712 211h0M1689 224h0M1705 217h0M1670 199h0M1679 198h0M1692 220h0M1696 183h0M1696 217h0M1673 204h0M1675 187h0M1663 198h0M1708 188h0M1699 187h0M1717 196h0M1686 216h0M1690 192h0M1684 217h0M1669 173h0M1690 172h0M1699 229h0M1700 193h0M1664 233h0M1689 203h0M1676 249h0M1678 220h0M1713 242h0M1740 196h0M1701 232h0M1699 157h0M1690 188h0M1744 225h0M1673 205h0M1681 226h0M1702 160h0M1664 236h0M1693 183h0M1718 224h0M1738 199h0M1690 230h0M1703 186h0M1747 219h0M1751 181h0M1686 203h0M1690 184h0M1681 259h0M1719 205h0M1715 180h0M1687 203h0M1729 185h0M1699 191h0M1714 212h0M1693 195h0M1732 161h0M1687 228h0M1662 193h0M1717 219h0M1772 222h0M1728 242h0M1665 214h0M1675 252h0M1685 215h0M1690 213h0M1696 223h0M1718 184h0M1693 198h0M1694 249h0M1669 251h0M1722 221h0M1667 213h0M1732 151h0M1698 227h0M1715 190h0M1704 198h0M1701 239h0M1697 198h0M1699 207h0M1719 223h0M1701 214h0M1683 195h0M1739 172h0M1723 151h0M1727 159h0M1696 206h0M1697 203h0M1688 230h0M1678 183h0M1722 205h0M1667 182h0M1722 195h0M1685 190h0M1683 248h0M1699 182h0M1714 203h0M1682 163h0M1716 213h0M1676 228h0M1693 211h0M1680 233h0M1696 202h0M1693 177h0M1726 238h0M1712 196h0M1677 219h0M1692 197h0M1683 207h0M1713 198h0M1708 206h0M1662 286h0M1713 192h0M1707 226h0M1726 232h0M1663 223h0M1682 217h0M1709 209h0M1681 230h0M1722 197h0M1715 236h0M1715 183h0M1730 201h0M1667 200h0M1707 224h0M1691 195h0M1683 193h0M1705 249h0M1687 178h0M1687 189h0M1731 163h0M1676 209h0M1746 241h0M1716 207h0M1686 204h0M1723 173h0M1703 175h0M1692 201h0M1698 152h0M1708 220h0M1672 242h0M1708 193h0M1724 175h0M1737 222h0M1696 210h0M1688 214h0M1703 188h0M1700 212h0M1667 220h0M1716 237h0M1705 191h0M1701 219h0M1678 226h0M1687 236h0M1714 174h0M1725 213h0M1664 210h0M1705 226h0M1693 238h0M1721 189h0M1693 213h0M1713 211h0M1673 247h0M1717 190h0M1701 172h0M1702 215h0M1679 239h0M1690 197h0M1682 239h0M1694 190h0M1674 192h0M1720 181h0M1735 176h0M1672 209h0M1701 222h0M1775 218h0M1698 165h0M1753 228h0M1729 248h0M1722 197h0M1661 205h0M1668 233h0M1747 187h0M1711 178h0M1670 225h0M1688 180h0M1732 250h0M1732 226h0M1675 209h0M1701 216h0M1661 201h0M1728 207h0M1757 221h0M1700 185h0M1671 190h0M1729 217h0M1727 176h0M1721 177h0M1691 191h0M1710 203h0M1675 152h0M1717 221h0M1706 165h0M1661 257h0M1693 195h0M1663 200h0M1688 159h0M1751 213h0M1710 223h0M1726 174h0M1696 230h0M1723 240h0M1692 208h0M1690 224h0M1685 224h0M1685 254h0M1719 198h0M1672 205h0M1684 242h0M1698 230h0M1694 191h0M1663 209h0M1688 186h0M1667 187h0M1713 152h0M1694 171h0M1706 250h0M1681 222h0M1687 257h0M1743 224h0M1727 196h0M1681 187h0M1703 192h0M1684 215h0M1740 232h0M1695 230h0M1668 257h0M1712 242h0M1702 170h0M1760 183h0M1709 167h0M1694 210h0M1704 214h0M1704 255h0M1709 142h0M1667 183h0M1741 220h0M1702 187h0M1745 199h0M1728 191h0M1719 215h0M1685 180h0M1706 167h0M1692 168h0M1747 186h0M1664 217h0M1671 144h0M1670 224h0M1669 205h0M1744 215h0M1703 212h0M1739 194h0M1695 202h0M1700 222h0M1691 212h0M1707 183h0M1684 199h0M1707 201h0M1665 237h0M1723 217h0M1726 192h0M1707 192h0M1668 213h0M1708 204h0M1671 195h0M1674 201h0M1692 219h0M1667 154h0M1707 184h0M1763 223h0M1717 187h0M1677 171h0M1725 176h0M1724 201h0M1744 186h0M1690 192h0M1687 235h0M1728 196h0M1756 186h0M1707 177h0M1711 194h0M1730 185h0M1710 162h0M1698 213h0M1704 173h0M1669 201h0M1676 195h0M1685 169h0M1694 176h0M1674 195h0M1716 198h0M1685 218h0M1672 220h0M1700 203h0M1666 227h0M1713 206h0M1694 233h0M1753 210h0M1720 239h0M1666 198h0M1678 207h0M1699 193h0M1666 208h0M1696 175h0M1721 284h0M1695 186h0M1679 193h0M1736 245h0M1699 185h0M1728 262h0M1665 199h0M1678 199h0M1695 225h0M1672 176h0M1698 189h0M1710 210h0M1711 189h0M1701 184h0M1708 221h0M1742 193h0M1677 196h0M1674 235h0M1717 172h0M1682 205h0M1700 182h0M1713 205h0M1722 172h0M1725 177h0M1709 233h0M1670 183h0M1708 188h0M1670 251h0M1686 229h0M1684 186h0M1682 170h0M1711 167h0M1722 259h0M1688 206h0M1678 255h0M1703 206h0M1686 195h0M1691 265h0M1712 219h0M1678 247h0M1678 201h0M1697 198h0M1699 171h0M1684 175h0M1736 141h0M1741 216h0M1687 202h0M1696 216h0M1713 207h0M1717 202h0M1679 228h0M1669 186h0M1701 194h0M1699 213h0M1678 209h0M1712 169h0M1681 199h0M1686 163h0M1704 182h0M1742 215h0M1680 192h0M1676 192h0M1739 237h0M1700 207h0M1691 169h0M1710 186h0M1707 191h0M1669 240h0M1683 192h0M1737 217h0M1706 182h0M1700 207h0M1676 202h0M1690 179h0M1676 181h0M1673 199h0M1710 212h0M1678 214h0M1707 136h0M1675 171h0M1730 200h0M1710 205h0M1666 249h0M1686 203h0M1750 171h0M1766 211h0M1705 142h0M1736 186h0M1703 258h0M1725 213h0M1665 208h0M1710 194h0M1690 197h0M1697 188h0M1709 148h0M1682 225h0M1736 229h0M1707 164h0M1713 185h0M1740 210h0M1670 207h0M1686 173h0M1728 227h0M1708 202h0M1699 239h0M1666 232h0M1736 223h0M1664 190h0M1694 226h0M1705 197h0M1717 192h0M1709 245h0M1689 215h0M1682 223h0M1687 227h0M1689 205h0M1759 192h0M1714 184h0M1695 226h0M1720 203h0M1699 141h0M1709 229h0M1723 223h0M1677 226h0M1746 200h0M1726 170h0M1685 188h0M1720 176h0M1676 201h0M1676 194h0M1728 156h0M1714 169h0M1729 228h0M1725 241h0M1707 268h0M1701 160h0M1706 188h0M1771 314h0M1698 269h0M1744 329h0M1714 337h0M1743 336h0M1758 301h0M1725 319h0M1689 336h0M1726 271h0M1746 320h0M1752 343h0M1700 335h0M1702 277h0M1723 331h0M1750 316h0M1731 331h0M1754 285h0M1710 350h0M1754 244h0M1725 340h0M1704 306h0M1756 327h0M1754 322h0M1708 302h0M1744 286h0M1765 295h0M1736 305h0M1670 286h0M1715 315h0M1735 333h0M1701 310h0M1717 279h0M1748 295h0M1772 313h0M1763 284h0M1767 343h0M1733 311h0M1709 314h0M1776 300h0M1716 264h0M1709 273h0M1727 374h0M1770 335h0M1725 248h0M1730 381h0M1703 333h0M1760 316h0M1713 276h0M1728 312h0M1741 268h0M1773 297h0M1720 310h0M1784 304h0M1667 317h0M1736 323h0M1687 299h0M1725 342h0M1728 356h0M1727 305h0M1734 319h0M1770 316h0M1723 311h0M1762 322h0M1749 341h0M1681 239h0M1773 324h0M1753 329h0M1736 319h0M1724 320h0M1676 334h0M1731 355h0M1752 290h0M1718 278h0M1729 335h0M1671 315h0M1725 316h0M1761 326h0M1681 335h0M1761 355h0M1671 331h0M1712 305h0M1751 285h0M1755 337h0M1716 263h0M1707 320h0M1765 268h0M1753 318h0M1730 353h0M1684 269h0M1682 324h0M1746 302h0M1765 287h0M1707 339h0M1664 344h0M1703 293h0M1727 314h0M1707 368h0M1739 284h0M1732 309h0M1697 277h0M1705 302h0M1685 307h0M1692 305h0M1738 262h0M1720 351h0M1740 276h0M1732 300h0M1723 322h0M1742 298h0M1716 307h0M1775 298h0M1711 340h0M1738 287h0M1763 338h0M1707 289h0M1699 314h0M1724 322h0M1723 302h0M1683 337h0M1737 295h0M1719 313h0M1753 267h0M1725 295h0M1718 279h0M1745 310h0M1713 317h0M1781 330h0M1750 274h0M1730 256h0M1755 326h0M1731 328h0M1738 282h0M1695 255h0M1730 320h0M1692 318h0M1723 321h0M1726 314h0M1743 305h0M1761 305h0M1761 257h0M1810 221h0M1700 296h0M1749 331h0M1769 273h0M1726 344h0M1678 322h0M1743 261h0M1737 263h0M1707 290h0M1773 309h0M1719 307h0M1676 321h0M1738 271h0M1723 352h0M1728 323h0M1713 348h0M1696 360h0M1737 324h0M1707 342h0M1819 226h0M1662 340h0M1739 277h0M1730 321h0M1739 324h0M1719 350h0M1730 259h0M1693 326h0M1728 244h0M1691 303h0M1744 316h0M1726 269h0M1736 356h0M1733 311h0M1679 362h0M1742 313h0M1744 330h0M1744 280h0M1770 316h0M1733 237h0M1768 312h0M1721 274h0M1731 305h0M1727 308h0M1699 343h0M1747 317h0M1749 284h0M1719 295h0M1726 314h0M1722 363h0M1746 361h0M1753 275h0M1736 302h0M1689 279h0M1699 300h0M1736 295h0M1718 346h0M1746 280h0M1711 362h0M1758 289h0M1752 242h0M1716 347h0M1712 345h0M1741 325h0M1737 298h0M1697 322h0M1743 299h0M1722 313h0M1734 342h0M1734 340h0M1758 273h0M1729 323h0M1675 322h0M1757 281h0M1751 333h0M1705 282h0M1714 308h0M1730 277h0M1741 328h0M1708 326h0M1753 292h0M1731 296h0M1705 346h0M1722 261h0M1735 323h0M1732 307h0M1768 316h0M1703 324h0M1725 277h0M1759 363h0M1723 265h0M1744 321h0M1766 291h0M1698 327h0M1745 288h0M1722 341h0M1713 290h0M1719 332h0M1744 295h0M1672 303h0M1684 316h0M1701 301h0M1703 284h0M1757 325h0M1701 304h0M1769 334h0M1692 306h0M1748 280h0M1685 341h0M1718 264h0M1736 352h0M1689 307h0M1745 331h0M1716 374h0M1738 313h0M1735 295h0M1688 363h0M1781 327h0M1692 312h0M1717 274h0M1704 313h0M1705 326h0M1690 294h0M1721 343h0M1703 300h0M1730 339h0M1686 270h0M1761 299h0M1728 331h0M1782 336h0M1730 311h0M1742 299h0M1709 311h0M1730 333h0M1744 286h0M1708 330h0M1702 342h0M1738 285h0M1702 267h0M1776 257h0M1707 331h0M1702 345h0M1737 356h0M1749 299h0M1698 313h0M1737 354h0M1705 350h0M1717 324h0M1752 311h0M1743 294h0M1692 320h0M1723 333h0M1745 294h0M1743 291h0M1692 324h0M1758 283h0M1723 304h0M1738 305h0M1715 327h0M1702 318h0M1706 295h0M1731 289h0M1721 274h0M1747 363h0M1758 278h0M1764 281h0M1740 306h0M1775 287h0M1706 346h0M1687 353h0M1736 329h0M1734 285h0M1750 329h0M1715 304h0M1751 340h0M1731 313h0M1735 320h0M1748 332h0M1758 280h0M1722 371h0M1731 308h0M1698 379h0M1671 259h0M1789 334h0M1762 277h0M1709 309h0M1770 280h0M1687 311h0M1729 291h0M1782 275h0M1741 317h0M1714 289h0M1758 315h0M1708 321h0M1729 299h0M1766 292h0M1751 289h0M1752 335h0M1745 307h0M1737 266h0M1691 349h0M1753 318h0M1713 312h0M1713 327h0M1745 343h0M1770 244h0M1721 307h0M1717 295h0M1710 307h0M1711 307h0M1718 278h0M1755 277h0M1676 325h0M1680 311h0M1767 344h0M1737 326h0M1725 305h0M1769 272h0M1704 347h0M1699 343h0M1755 327h0M1715 297h0M1738 314h0M1710 329h0M1798 319h0M1720 290h0M1728 280h0M1709 329h0M1733 305h0M1714 278h0M1737 293h0M1719 337h0M1739 346h0M1739 325h0M1677 347h0M1720 339h0M1695 328h0M1695 342h0M1671 340h0M1748 309h0M1779 286h0M1762 286h0M1695 319h0M1760 307h0M1729 352h0M1736 316h0M1666 308h0M1695 343h0M1734 290h0M1724 263h0M1762 273h0M1706 321h0M1722 274h0M1703 345h0M1733 294h0M1743 336h0M1725 313h0M1791 291h0M1688 323h0M1716 351h0M1730 293h0M1707 307h0M1749 320h0M1687 340h0M1745 297h0M1717 318h0M1714 318h0M1705 330h0M1700 297h0M1725 314h0M1731 318h0M1780 323h0M1741 320h0M1726 325h0M1717 323h0M1772 266h0M1731 356h0M1699 304h0M1717 360h0M1739 322h0M1669 335h0M1734 326h0M1743 343h0M1701 302h0M1748 308h0M1739 306h0M1708 358h0M1688 300h0M1723 312h0M1725 340h0M1692 317h0M1756 284h0M1768 301h0M1759 325h0M1684 361h0M1734 245h0M1681 354h0M1701 319h0M1708 312h0M1726 304h0M1732 293h0M1723 327h0M1699 338h0M1724 294h0M1736 286h0M1729 319h0M1728 309h0M1691 362h0M1733 224h0M1703 320h0M1713 290h0M1711 316h0M1697 352h0M1751 282h0M1719 313h0M1684 304h0M1739 323h0M1763 332h0M1758 282h0M1743 367h0M1708 302h0M1731 359h0M1743 327h0M1715 348h0M1731 348h0M1716 370h0M1702 332h0M1733 366h0M1724 315h0M1702 327h0M1721 313h0M1726 324h0M1757 295h0M1730 310h0M1725 348h0M1690 338h0M1710 251h0M1720 323h0M1751 317h0M1792 350h0M1698 322h0M1717 342h0M1759 285h0M1736 326h0M1767 314h0M1698 359h0M1751 287h0M1718 354h0M1722 330h0M1758 247h0M1730 333h0M1720 340h0M1716 344h0M1748 288h0M1766 270h0M1709 301h0M1718 300h0M1741 312h0M1714 278h0M1690 289h0M1730 285h0M1691 323h0M1724 345h0M1684 321h0M1712 261h0M1719 322h0M1735 334h0M1721 328h0M1755 343h0M1760 320h0M1720 288h0M1727 321h0M1686 299h0M1716 305h0M1725 299h0M1712 287h0M1701 340h0M1723 287h0M1692 317h0M1681 304h0M1735 305h0M1775 270h0M1751 293h0M1763 270h0M1744 297h0M1685 309h0M1761 291h0M1739 257h0M1674 372h0M1689 330h0M1672 353h0M1697 353h0M1713 337h0M1762 278h0M1765 317h0M1707 341h0M1710 230h0M1744 304h0M1731 332h0M1722 296h0M1729 296h0M1753 294h0M1753 359h0M1726 328h0M1744 337h0M1696 322h0M1703 278h0M1737 326h0M1726 248h0M1683 343h0M1752 312h0M1741 345h0M1723 337h0M1756 346h0M1775 293h0M1683 305h0M1707 317h0M1697 322h0M1727 331h0M1769 296h0M1711 242h0M1788 331h0M1763 297h0M1740 287h0M1710 313h0M1711 323h0M1745 353h0M1757 310h0M1764 272h0M1730 277h0M1748 313h0M1719 356h0M1717 305h0M1755 278h0M1743 327h0M1686 308h0M1765 306h0M1722 332h0M1733 316h0M1749 287h0M1758 306h0M1729 327h0M1717 321h0M1735 267h0M1738 291h0M1721 328h0M1683 305h0M1762 295h0M1693 307h0M1744 364h0M1695 328h0M1722 231h0M1686 329h0M1672 298h0M1702 290h0M1708 354h0M1717 344h0M1745 358h0M1710 349h0M1734 363h0M1685 358h0M1721 303h0M1713 310h0M1723 331h0M1772 269h0M1722 292h0M1712 338h0M1748 355h0M1759 336h0M1747 336h0M1735 378h0M1708 349h0M1721 315h0M1723 278h0M1704 277h0M1716 363h0M1731 262h0M1730 293h0M1765 275h0M1753 259h0M1750 254h0M1774 277h0M1722 368h0M1750 320h0M1703 331h0M1737 370h0M1677 279h0M1746 294h0M1772 237h0M1729 294h0M1733 338h0M1681 278h0M1744 329h0M1766 300h0M1692 309h0M1712 287h0M1748 274h0M1749 297h0M1753 296h0M1740 304h0M1678 311h0M1720 375h0M1722 338h0M1683 358h0M1811 282h0M1746 298h0M1785 324h0M1706 345h0M1751 325h0M1694 312h0M1741 267h0M1713 312h0M1727 322h0M1753 295h0M1745 238h0M1729 302h0M1738 225h0M1746 329h0M1713 335h0M1740 316h0M1707 290h0M1693 255h0M1691 326h0M1727 320h0M1825 241h0M1732 319h0M1767 283h0M1683 288h0M1698 378h0M1747 281h0M1782 248h0M1715 352h0M1733 361h0M1712 317h0M1757 336h0M1727 371h0M1777 282h0M1748 328h0M1701 315h0M1719 258h0M1724 295h0M1720 322h0M1745 346h0M1690 317h0M1702 351h0M1729 308h0M1706 293h0M1752 316h0M1693 349h0M1720 309h0M1698 326h0M1741 366h0M1681 332h0M1701 357h0M1720 350h0M1736 316h0M1741 292h0M1721 326h0M1727 274h0M1756 345h0M1761 322h0M1704 270h0M1692 305h0M1729 305h0M1746 297h0M1744 340h0M1666 324h0M1753 295h0M1720 282h0M1753 305h0M1728 313h0M1732 325h0M1728 371h0M1687 323h0M1749 279h0M1700 359h0M1724 334h0M1702 345h0M1753 349h0M1729 356h0M1752 294h0M1732 329h0M1733 351h0M1723 381h0M1707 316h0M1767 331h0M1768 345h0M1732 322h0M1701 350h0M1712 307h0M1689 343h0M1748 314h0M1717 235h0M1780 278h0M1753 333h0M1698 281h0M1710 274h0M1713 275h0M1714 373h0M1703 317h0M1761 265h0M1751 267h0M1681 286h0M1741 273h0M1731 277h0M1697 369h0M1698 251h0M1729 364h0M1749 264h0M1743 315h0M1710 285h0M1782 309h0M1732 311h0M1726 338h0M1727 287h0M1664 338h0M1740 301h0M1674 292h0M1732 378h0M1686 326h0M1771 305h0M1719 330h0M1745 308h0M1717 326h0M1769 320h0M1696 276h0M1687 326h0M1771 315h0M1709 282h0M1717 321h0M1746 293h0M1730 286h0M1735 243h0M1745 332h0M1717 275h0M1705 326h0M1760 303h0M1691 351h0M1751 323h0M1764 316h0M1703 315h0M1734 313h0M1771 249h0M1700 302h0M1720 300h0M1734 294h0M1689 322h0M1712 330h0M1694 296h0M1729 292h0M1742 299h0M1744 343h0M1715 272h0M1692 299h0M1710 328h0M1710 325h0M1757 316h0M1755 312h0M1705 324h0M1731 279h0M1736 302h0M1760 315h0M1716 302h0M1747 360h0M1715 270h0M1712 303h0M1765 340h0M1697 290h0M1727 312h0M1676 324h0M1711 330h0M1728 274h0M1766 328h0M1683 323h0M1723 338h0M1728 355h0M1698 321h0M1749 315h0M1713 323h0M1778 316h0M1732 340h0M1757 295h0M1733 312h0M1700 340h0M1698 327h0M1770 337h0M1722 300h0M1727 267h0M1725 278h0M1772 333h0M1708 306h0M1734 326h0M1714 349h0M1719 285h0M1742 337h0M1730 334h0M1722 314h0M1734 314h0M1742 336h0M1728 314h0M1753 303h0M1755 323h0M1687 360h0M1755 307h0M1761 296h0M1751 337h0M1704 326h0M1750 263h0M1734 265h0M1745 328h0M1692 356h0M1668 362h0M1722 316h0M1722 273h0M1748 264h0M1712 346h0M1755 308h0M1717 286h0M1736 314h0M1765 297h0M1669 320h0M1737 298h0M1706 300h0M1718 305h0M1735 324h0M1738 322h0M1748 338h0M1753 262h0M1724 308h0M1740 342h0M1678 272h0M1761 290h0M1700 355h0M1724 325h0M1779 351h0M1789 317h0M1740 280h0M1784 303h0M1728 333h0M1751 304h0M1703 264h0M1767 301h0M1755 345h0M1771 339h0M1743 313h0M1749 302h0M1738 268h0M1697 322h0M1735 282h0M1724 296h0M1700 329h0M1712 307h0M1764 286h0M1743 297h0M1688 288h0M1710 303h0M1738 291h0M1696 284h0M1746 298h0M1672 368h0M1718 338h0M1762 236h0M1777 283h0M1694 308h0M1717 339h0M1737 327h0M1732 304h0M1735 322h0M1714 329h0M1719 338h0M1755 309h0M1708 304h0M1729 336h0M1720 333h0M1749 317h0M1738 357h0M1722 368h0M1759 321h0M1728 328h0M1702 328h0M1701 359h0M1743 342h0M1738 250h0M1678 337h0M1678 347h0M1674 290h0M1673 295h0M1678 354h0M1666 276h0M1675 272h0M1678 275h0M1672 368h0M1671 369h0M1674 281h0M1677 344h0M1674 332h0M1666 282h0M1669 290h0M1677 361h0M1676 291h0M1669 270h0M1674 369h0M1678 314h0M1677 323h0M1665 301h0M1678 322h0M1674 344h0M1668 282h0M1671 315h0M1676 330h0M1671 275h0M1666 293h0M1673 276h0M1667 317h0M1668 328h0M1677 301h0M1665 302h0M1667 326h0M1666 330h0M1665 353h0M1674 343h0M1673 375h0M1673 286h0M1668 315h0M1667 339h0M1676 292h0M1667 313h0M1672 322h0M1677 287h0M1665 356h0M1678 304h0M1675 356h0M1670 296h0M1673 279h0M1673 365h0M1675 266h0M1673 291h0M1667 323h0M1667 333h0M1670 328h0M1678 277h0M1668 292h0M1669 366h0M1668 340h0M1672 300h0M1675 336h0M1676 361h0M1679 292h0M1677 305h0M1668 278h0M1671 293h0M1676 298h0M1668 286h0M1675 333h0M1674 300h0M1676 321h0M1677 328h0M1676 332h0M1669 275h0M1669 360h0M1675 350h0M1668 335h0M1671 295h0M1668 294h0M1668 316h0M1672 313h0M1672 319h0M1672 345h0M1669 359h0M1668 366h0M1668 272h0M1667 322h0M1673 298h0" stroke="#000" stroke-opacity="0.3" stroke-width="3.6" stroke-linecap="square" fill="none"/><path transform="scale(.25)" d="M1769 243h0M1724 294h0M1699 247h0M1755 251h0M1755 224h0M1741 274h0M1680 244h0M1707 279h0M1707 264h0M1686 318h0M1756 274h0M1713 267h0M1676 262h0M1727 318h0M1757 293h0M1786 265h0M1751 251h0M1744 265h0M1780 229h0M1745 309h0M1719 271h0M1709 233h0M1757 259h0M1710 290h0M1749 287h0M1798 253h0M1731 243h0M1713 288h0M1745 268h0M1756 242h0M1709 271h0M1716 171h0M1736 291h0M1709 206h0M1768 270h0M1733 270h0M1731 239h0M1714 277h0M1705 250h0M1744 258h0M1725 242h0M1763 243h0M1676 217h0M1728 256h0M1730 271h0M1750 311h0M1719 246h0M1694 300h0M1780 213h0M1701 265h0M1750 292h0M1711 273h0M1738 255h0M1735 247h0M1724 267h0M1752 245h0M1726 268h0M1710 270h0M1715 279h0M1722 275h0M1711 254h0M1681 208h0M1776 311h0M1714 285h0M1717 226h0M1750 295h0M1714 269h0M1727 220h0M1692 200h0M1698 247h0M1701 232h0M1728 265h0M1723 255h0M1714 237h0M1779 257h0M1736 292h0M1683 252h0M1750 252h0M1748 287h0M1727 301h0M1764 259h0M1761 295h0M1720 222h0M1734 285h0M1690 221h0M1740 286h0M1728 263h0M1708 250h0M1776 205h0M1695 288h0M1747 261h0M1714 272h0M1733 259h0M1698 249h0M1824 249h0M1816 255h0M1734 279h0M1701 271h0M1749 229h0M1708 232h0M1752 249h0M1754 284h0M1703 249h0M1671 303h0M1732 238h0M1738 277h0M1741 226h0M1749 265h0M1765 278h0M1672 249h0M1681 271h0M1720 272h0M1776 212h0M1743 305h0M1724 252h0M1733 229h0M1744 297h0M1748 233h0M1744 254h0M1730 243h0M1789 231h0M1720 313h0M1727 271h0M1773 271h0M1764 270h0M1707 264h0M1700 252h0M1737 243h0M1732 240h0M1719 242h0M1742 254h0M1758 276h0M1691 264h0M1720 265h0M1724 216h0M1709 320h0M1718 277h0M1731 267h0M1722 254h0M1768 294h0M1721 248h0M1671 328h0M1751 236h0M1687 201h0M1687 270h0M1722 232h0M1765 254h0M1681 259h0M1705 356h0M1762 310h0M1744 293h0M1761 227h0M1703 252h0M1707 275h0M1682 275h0M1746 267h0M1793 239h0M1723 311h0M1749 208h0M1713 263h0M1700 236h0M1678 283h0M1711 292h0M1768 234h0M1733 239h0M1694 277h0M1754 242h0M1730 329h0M1728 279h0M1732 291h0M1703 274h0M1728 212h0M1753 313h0M1733 255h0M1740 225h0M1748 256h0M1678 192h0M1791 278h0M1740 152h0M1755 267h0M1748 210h0M1790 237h0M1699 280h0M1795 201h0M1832 279h0M1905 300h0M1774 204h0M1784 251h0M1795 209h0M1703 191h0M1781 267h0M1761 275h0M1785 214h0M1783 213h0M1728 222h0M1770 259h0M1754 134h0M1785 257h0M1749 230h0M1711 176h0M1815 244h0M1800 213h0M1816 242h0M1695 215h0M1753 236h0M1725 192h0M1718 231h0M1805 261h0M1836 291h0M1770 201h0M1753 201h0M1741 204h0M1764 177h0M1737 318h0M1753 236h0M1752 220h0M1801 215h0M1736 232h0M1742 230h0M1794 249h0M1774 171h0M1791 281h0M1744 251h0M1802 277h0M1806 243h0M1807 197h0M1805 220h0M1726 170h0M1714 238h0M1682 215h0M1735 231h0M1712 241h0M1726 240h0M1804 189h0M1789 239h0M1824 118h0M1800 207h0M1803 232h0M1779 217h0M1787 323h0M1736 239h0M1788 303h0M1758 258h0M1711 260h0M1748 171h0M1763 254h0M1727 207h0M1755 209h0M1789 195h0M1799 207h0M1875 188h0M1813 201h0M1776 221h0M1753 194h0M1786 273h0M1716 173h0M1848 190h0M1720 246h0M1778 295h0M1773 295h0M1793 242h0M1704 256h0M1676 266h0M1861 255h0M1816 244h0M1722 242h0M1693 267h0M1729 221h0M1721 303h0M1768 255h0M1753 238h0M1740 198h0M1741 284h0M1747 234h0M1861 252h0M1814 227h0M1796 273h0M1755 281h0M1825 146h0M1868 268h0M1841 320h0M1813 243h0M1825 202h0M1692 225h0M1798 205h0M1819 183h0M1746 309h0M1751 270h0M1708 216h0M1832 168h0M1753 175h0M1770 173h0M1740 212h0M1715 239h0M1868 208h0M1827 216h0M1784 212h0M1777 146h0M1851 240h0M1822 151h0M1736 130h0M1794 197h0M1749 263h0M1735 233h0M1792 210h0M1754 226h0M1750 132h0M1773 260h0M1843 149h0M1863 143h0M1682 217h0M1787 208h0M1838 179h0M1707 155h0M1760 147h0M1738 158h0M1774 263h0M1821 151h0M1851 249h0M1835 192h0M1780 218h0M1778 237h0M1674 259h0M1834 226h0M1782 255h0M1765 201h0M1786 213h0M1865 259h0M1685 177h0M1863 262h0M1789 159h0M1873 144h0M1674 214h0M1763 186h0M1670 229h0M1723 186h0M1755 165h0M1672 210h0M1715 190h0M1673 233h0M1874 258h0M1767 214h0M1716 170h0M1675 255h0M1711 176h0M1775 220h0M1722 203h0M1681 167h0M1843 160h0M1779 185h0M1722 146h0M1873 170h0M1831 202h0M1845 254h0" stroke="#000" stroke-opacity="0.2" stroke-width="3.6" stroke-linecap="square" fill="none"/></g>
<polyline points="421.5,96.1 421.8,70.5 424.5,66.5 429.0,63.5 436.0,61.5 458.4,62.3 462.2,65.1 463.4,71.2 461.5,96.1" fill="none" stroke="#7a7a7a" stroke-width="0.9"/>
<rect x="406.2" y="26.3" width="73.3" height="69.8" fill="none" stroke="#808080" stroke-width="0.9" />
<line x1="405.7" y1="96.1" x2="405.7" y2="97.3" stroke="#999" stroke-width="0.6"/>
<line x1="412.9" y1="96.1" x2="412.9" y2="97.3" stroke="#999" stroke-width="0.6"/>
<line x1="420.1" y1="96.1" x2="420.1" y2="97.3" stroke="#999" stroke-width="0.6"/>
<line x1="427.3" y1="96.1" x2="427.3" y2="97.3" stroke="#999" stroke-width="0.6"/>
<line x1="434.5" y1="96.1" x2="434.5" y2="97.3" stroke="#999" stroke-width="0.6"/>
<line x1="441.7" y1="96.1" x2="441.7" y2="97.3" stroke="#999" stroke-width="0.6"/>
<line x1="448.9" y1="96.1" x2="448.9" y2="97.3" stroke="#999" stroke-width="0.6"/>
<line x1="456.1" y1="96.1" x2="456.1" y2="97.3" stroke="#999" stroke-width="0.6"/>
<line x1="463.3" y1="96.1" x2="463.3" y2="97.3" stroke="#999" stroke-width="0.6"/>
<line x1="470.5" y1="96.1" x2="470.5" y2="97.3" stroke="#999" stroke-width="0.6"/>
<line x1="477.7" y1="96.1" x2="477.7" y2="97.3" stroke="#999" stroke-width="0.6"/>
<text x="405.7" y="104.0" font-size="4.6" text-anchor="middle" font-weight="normal" fill="#6a6a6a" >0</text>
<text x="420.1" y="104.0" font-size="4.6" text-anchor="middle" font-weight="normal" fill="#6a6a6a" >200</text>
<text x="434.5" y="104.0" font-size="4.6" text-anchor="middle" font-weight="normal" fill="#6a6a6a" >400</text>
<text x="448.9" y="104.0" font-size="4.6" text-anchor="middle" font-weight="normal" fill="#6a6a6a" >600</text>
<text x="463.3" y="104.0" font-size="4.6" text-anchor="middle" font-weight="normal" fill="#6a6a6a" >800</text>
<text x="477.7" y="104.0" font-size="4.6" text-anchor="middle" font-weight="normal" fill="#6a6a6a" >1000</text>
<text x="400.2" y="94.8" font-size="4.4" text-anchor="middle" font-weight="normal" fill="#8a8a8a" >10<tspan font-size="3.6" dy="-2.0" fill="#555">0</tspan></text>
<line x1="406.2" y1="93.8" x2="407.5" y2="93.8" stroke="#555" stroke-width="0.9"/>
<text x="400.2" y="78.2" font-size="4.4" text-anchor="middle" font-weight="normal" fill="#8a8a8a" >10<tspan font-size="3.6" dy="-2.0" fill="#555">1</tspan></text>
<line x1="406.2" y1="77.2" x2="407.5" y2="77.2" stroke="#555" stroke-width="0.9"/>
<text x="400.2" y="61.6" font-size="4.4" text-anchor="middle" font-weight="normal" fill="#8a8a8a" >10<tspan font-size="3.6" dy="-2.0" fill="#555">2</tspan></text>
<line x1="406.2" y1="60.6" x2="407.5" y2="60.6" stroke="#555" stroke-width="0.9"/>
<text x="400.2" y="45.0" font-size="4.4" text-anchor="middle" font-weight="normal" fill="#8a8a8a" >10<tspan font-size="3.6" dy="-2.0" fill="#555">3</tspan></text>
<line x1="406.2" y1="44.0" x2="407.5" y2="44.0" stroke="#555" stroke-width="0.9"/>
<text x="400.2" y="28.4" font-size="4.4" text-anchor="middle" font-weight="normal" fill="#8a8a8a" >10<tspan font-size="3.6" dy="-2.0" fill="#555">4</tspan></text>
<line x1="406.2" y1="27.4" x2="407.5" y2="27.4" stroke="#555" stroke-width="0.9"/>
<text x="442.9" y="24.8" font-size="8.8" text-anchor="middle" font-weight="bold" fill="#000" >DEX</text>
<text x="476.0" y="36.5" font-size="8.2" text-anchor="end" font-weight="bold" fill="#000" >40%</text>
<clipPath id="fp3"><rect x="330.0" y="109.7" width="62.6" height="68.3"/></clipPath>
<g clip-path="url(#fp3)"><ellipse cx="337.9" cy="132.2" rx="14.7" ry="14.7" transform="rotate(-35 337.9 132.2)" fill="url(#hz)" opacity="0.14"/><ellipse cx="348.9" cy="158.7" rx="23.0" ry="16.1" transform="rotate(-48 348.9 158.7)" fill="url(#hz)" opacity="0.32"/></g>
<g filter="url(#db)"><path transform="scale(.25)" d="M1340 524h0M1352 556h0M1387 566h0M1334 501h0M1376 503h0M1386 554h0M1398 522h0M1347 551h0M1338 488h0M1339 542h0M1364 507h0M1376 469h0M1383 560h0M1342 569h0M1330 535h0M1322 545h0M1362 535h0M1372 517h0M1323 541h0M1354 548h0M1336 538h0M1361 515h0M1351 551h0M1367 540h0M1329 543h0M1351 507h0M1376 539h0M1341 555h0M1375 555h0M1384 541h0M1357 527h0M1367 569h0M1377 536h0M1351 505h0M1390 516h0M1351 497h0M1392 529h0M1367 496h0M1341 507h0M1322 503h0M1342 515h0M1337 550h0M1349 564h0M1339 529h0M1372 570h0M1362 532h0M1341 523h0M1386 512h0M1370 534h0M1343 496h0M1363 517h0M1366 537h0M1351 515h0M1414 524h0M1361 462h0M1341 532h0M1348 550h0M1350 492h0M1329 536h0M1368 521h0M1344 522h0M1356 539h0M1368 470h0M1333 494h0M1358 461h0M1362 545h0M1361 524h0M1345 526h0M1322 554h0M1362 570h0M1365 537h0M1363 546h0M1334 516h0M1342 522h0M1368 539h0M1350 507h0M1362 529h0M1337 530h0M1341 522h0M1356 575h0M1344 528h0M1343 563h0M1365 555h0M1336 530h0M1370 574h0M1348 549h0M1351 578h0M1355 536h0M1362 490h0M1373 553h0M1364 520h0M1359 571h0M1352 488h0M1362 533h0M1376 542h0M1344 495h0M1324 511h0M1344 492h0M1330 554h0M1369 531h0M1331 495h0M1382 526h0M1366 501h0M1331 514h0M1360 494h0M1381 553h0M1365 547h0M1346 537h0M1421 498h0M1335 525h0M1368 520h0M1328 517h0M1373 570h0M1356 488h0M1348 477h0M1365 540h0M1362 543h0M1334 544h0M1383 527h0M1342 528h0M1373 475h0M1346 542h0M1381 523h0M1366 531h0M1342 558h0M1341 542h0M1331 541h0M1383 521h0M1340 521h0M1365 513h0M1317 535h0M1368 538h0M1382 515h0M1375 485h0M1359 571h0M1365 559h0M1391 567h0M1367 487h0M1317 516h0M1415 514h0M1374 553h0M1345 472h0M1354 489h0M1376 516h0M1336 519h0M1371 550h0M1352 517h0M1380 504h0M1321 504h0M1324 527h0M1352 575h0M1362 582h0M1378 557h0M1341 495h0M1341 501h0M1358 585h0M1412 552h0M1342 516h0M1346 527h0M1394 530h0M1360 532h0M1328 565h0M1366 533h0M1358 524h0M1365 527h0M1359 514h0M1355 527h0M1320 561h0M1375 560h0M1344 542h0M1375 510h0M1382 482h0M1357 516h0M1395 539h0M1358 521h0M1357 510h0M1326 536h0M1392 510h0M1332 531h0M1376 516h0M1420 533h0M1359 526h0M1346 542h0M1365 567h0M1358 547h0M1360 511h0M1341 541h0M1362 537h0M1392 507h0M1359 512h0M1377 535h0M1340 495h0M1353 516h0M1345 504h0M1352 529h0M1359 539h0M1325 537h0M1335 542h0M1337 478h0M1385 518h0M1365 522h0M1327 533h0M1331 550h0M1377 483h0M1346 535h0M1354 538h0M1396 541h0M1341 508h0M1343 505h0M1392 506h0M1354 536h0M1353 502h0M1364 514h0M1378 544h0M1357 575h0M1351 499h0M1346 503h0M1352 509h0M1400 489h0M1337 573h0M1412 538h0M1329 492h0M1339 547h0M1365 516h0M1341 495h0M1353 500h0M1379 540h0M1394 582h0M1345 508h0M1346 543h0M1380 520h0M1339 531h0M1359 551h0M1342 520h0M1342 481h0M1332 548h0M1360 545h0M1372 575h0M1323 493h0M1337 494h0M1349 542h0M1384 536h0M1350 528h0M1341 505h0M1363 529h0M1383 506h0M1382 475h0M1354 517h0M1330 494h0M1357 534h0M1349 526h0M1320 535h0M1365 501h0M1368 489h0M1323 532h0M1394 540h0M1357 527h0M1351 518h0M1380 571h0M1336 507h0M1322 531h0M1354 492h0M1386 515h0M1340 522h0M1347 547h0M1358 549h0M1379 558h0M1342 513h0M1364 537h0M1391 560h0M1376 504h0M1364 532h0M1328 567h0M1320 531h0M1360 554h0M1328 507h0M1366 506h0M1347 602h0M1342 470h0M1322 562h0M1343 538h0M1347 540h0M1325 522h0M1349 572h0M1373 527h0M1325 546h0M1340 515h0M1341 552h0M1402 526h0M1327 542h0M1336 563h0M1327 549h0M1340 554h0M1379 471h0M1354 495h0M1333 494h0M1336 490h0M1425 562h0M1325 552h0M1322 533h0M1364 581h0M1362 540h0M1340 492h0M1328 531h0M1373 490h0M1325 506h0M1367 538h0M1375 549h0M1316 523h0M1377 542h0M1350 500h0M1354 553h0M1371 503h0M1372 501h0M1343 520h0M1345 518h0M1341 531h0M1389 545h0M1324 529h0M1334 486h0M1371 567h0M1349 528h0M1331 563h0M1358 489h0M1351 503h0M1344 584h0M1350 500h0M1335 514h0M1383 488h0M1383 548h0M1350 507h0M1357 509h0M1339 559h0M1402 575h0M1376 544h0M1340 554h0M1373 546h0M1343 477h0M1322 556h0M1341 557h0M1360 513h0M1354 546h0M1324 480h0M1397 500h0M1331 513h0M1358 529h0M1373 509h0M1362 525h0M1362 533h0M1384 545h0M1406 524h0M1389 542h0M1317 529h0M1330 546h0M1386 509h0M1372 545h0M1337 541h0M1332 530h0M1366 512h0M1350 521h0M1344 533h0M1328 494h0M1340 501h0M1381 516h0M1349 464h0M1328 515h0M1376 532h0M1365 546h0M1378 522h0M1347 545h0M1337 487h0M1380 504h0M1343 523h0M1356 494h0M1355 530h0M1328 475h0M1370 522h0M1349 505h0M1331 536h0M1326 569h0M1367 519h0M1321 557h0M1341 532h0M1350 545h0M1333 527h0M1396 570h0M1398 568h0M1358 533h0M1351 535h0M1363 515h0M1333 550h0M1378 478h0M1341 575h0M1351 485h0M1341 576h0M1380 535h0M1348 554h0M1325 480h0M1398 559h0M1366 531h0M1366 588h0M1365 483h0M1367 523h0M1418 531h0M1356 544h0M1344 534h0M1338 513h0M1339 512h0M1352 527h0M1332 525h0M1378 532h0M1351 538h0M1363 487h0M1388 563h0M1378 536h0M1350 516h0M1368 540h0M1352 561h0M1372 528h0M1356 522h0M1332 547h0M1348 557h0M1347 552h0M1415 493h0M1338 481h0M1325 514h0M1342 577h0M1343 554h0M1355 549h0M1376 533h0M1344 564h0M1402 560h0M1394 496h0M1335 545h0M1330 543h0M1340 496h0M1356 499h0M1381 523h0M1337 485h0M1348 513h0M1346 522h0M1378 543h0M1365 583h0M1323 494h0M1348 565h0M1332 520h0M1354 551h0M1340 494h0M1331 527h0M1361 569h0M1359 539h0M1363 516h0M1357 532h0M1346 556h0M1363 519h0M1347 480h0M1347 460h0M1349 571h0M1369 514h0M1383 503h0M1350 554h0M1335 549h0M1326 518h0M1376 532h0M1376 529h0M1349 530h0M1381 546h0M1364 523h0M1352 533h0M1371 516h0M1341 566h0M1329 515h0M1332 546h0M1373 536h0M1344 584h0M1384 498h0M1362 523h0M1361 549h0M1328 457h0M1332 575h0M1354 576h0M1331 549h0M1338 531h0M1331 525h0M1351 540h0M1391 517h0M1345 520h0M1364 572h0M1325 502h0M1329 520h0M1370 548h0M1359 512h0M1344 548h0M1375 501h0M1345 535h0M1351 468h0M1366 523h0M1328 486h0M1334 521h0M1342 510h0M1371 494h0M1335 570h0M1367 535h0M1363 521h0M1411 526h0M1335 550h0M1364 524h0M1363 557h0M1339 505h0M1354 527h0M1355 543h0M1321 514h0M1391 553h0M1345 531h0M1348 542h0M1351 494h0M1341 520h0M1360 532h0M1323 515h0M1347 538h0M1361 495h0M1337 516h0M1348 531h0M1376 521h0M1330 493h0M1394 542h0M1397 533h0M1327 525h0M1369 537h0M1351 519h0M1343 495h0M1337 505h0M1341 524h0M1338 532h0M1418 497h0M1326 525h0M1381 514h0M1376 534h0M1367 489h0M1351 528h0M1347 534h0M1366 509h0M1360 541h0M1350 548h0M1336 548h0M1385 553h0M1351 519h0M1368 508h0M1380 545h0M1338 519h0M1370 559h0M1370 540h0M1349 520h0M1334 450h0M1374 558h0M1331 554h0M1346 509h0M1362 496h0M1334 519h0M1347 508h0M1378 519h0M1334 487h0M1374 550h0M1344 529h0M1367 539h0M1384 501h0M1341 537h0M1337 557h0M1339 562h0M1327 561h0M1379 504h0M1358 527h0M1370 503h0M1376 523h0M1373 520h0M1324 536h0M1328 540h0M1377 552h0M1343 531h0M1322 553h0M1368 478h0M1321 549h0M1354 521h0M1358 516h0M1337 529h0M1341 542h0M1360 521h0M1343 466h0M1326 543h0M1388 554h0M1391 568h0M1363 558h0M1349 493h0M1384 473h0M1346 515h0M1346 543h0M1348 529h0M1334 526h0M1332 532h0M1326 564h0M1355 534h0M1378 473h0M1347 515h0M1323 488h0M1394 510h0M1362 552h0M1364 546h0M1367 468h0M1326 512h0M1361 527h0M1382 546h0M1329 526h0M1390 532h0M1334 545h0M1331 552h0M1367 544h0M1336 524h0M1345 600h0M1361 490h0M1335 522h0M1332 557h0M1343 495h0M1406 526h0M1345 538h0M1364 511h0M1345 567h0M1331 532h0M1365 497h0M1360 521h0M1353 543h0M1398 475h0M1331 594h0M1320 483h0M1351 524h0M1374 550h0M1369 508h0M1329 531h0M1354 509h0M1331 592h0M1358 542h0M1350 507h0M1357 551h0M1382 492h0M1365 557h0M1339 506h0M1358 522h0M1363 537h0M1341 527h0M1362 528h0M1345 468h0M1367 498h0M1371 574h0M1342 510h0M1352 542h0M1358 549h0M1353 557h0M1386 503h0M1364 530h0M1334 541h0M1369 532h0M1340 563h0M1318 537h0M1360 529h0M1357 526h0M1374 530h0M1369 513h0M1345 510h0M1430 550h0M1360 496h0M1320 582h0M1381 554h0M1407 508h0M1320 572h0M1379 541h0M1337 559h0M1336 491h0M1357 545h0M1347 534h0M1350 526h0M1335 525h0M1325 518h0M1388 534h0M1354 553h0M1363 504h0M1347 578h0M1335 555h0M1347 527h0M1337 559h0M1393 554h0M1336 552h0M1352 491h0M1382 549h0M1327 545h0M1347 538h0M1387 538h0M1325 507h0M1357 585h0M1366 518h0M1350 516h0M1332 588h0M1368 499h0M1365 524h0M1346 530h0M1321 506h0M1362 537h0M1341 524h0M1366 545h0M1350 593h0M1322 554h0M1349 514h0M1345 516h0M1386 483h0M1360 544h0M1352 513h0M1365 522h0M1379 531h0M1344 516h0M1351 544h0M1391 636h0M1362 679h0M1357 622h0M1365 641h0M1403 689h0M1409 676h0M1441 619h0M1437 644h0M1436 638h0M1398 655h0M1368 627h0M1347 658h0M1463 617h0M1362 657h0M1406 625h0M1384 682h0M1366 631h0M1370 689h0M1353 597h0M1392 608h0M1355 645h0M1416 591h0M1394 631h0M1445 658h0M1425 572h0M1437 563h0M1406 625h0M1380 551h0M1397 667h0M1362 639h0M1375 632h0M1367 583h0M1462 617h0M1422 577h0M1395 605h0M1419 590h0M1466 675h0M1404 652h0M1411 610h0M1390 660h0M1376 641h0M1373 669h0M1419 623h0M1327 648h0M1394 628h0M1426 640h0M1398 602h0M1380 666h0M1423 641h0M1423 632h0M1329 648h0M1370 599h0M1438 573h0M1395 636h0M1399 607h0M1430 560h0M1415 579h0M1382 676h0M1428 538h0M1374 584h0M1391 618h0M1403 625h0M1391 645h0M1380 649h0M1371 569h0M1435 664h0M1456 620h0M1453 603h0M1320 616h0M1370 655h0M1421 638h0M1370 664h0M1406 622h0M1412 656h0M1379 661h0M1393 665h0M1396 575h0M1353 667h0M1385 658h0M1387 619h0M1441 612h0M1375 650h0M1439 645h0M1393 602h0M1408 666h0M1428 641h0M1364 639h0M1403 638h0M1399 608h0M1432 593h0M1359 668h0M1425 683h0M1353 636h0M1413 632h0M1379 634h0M1402 660h0M1400 623h0M1317 689h0M1340 688h0M1353 649h0M1392 663h0M1418 592h0M1379 676h0M1371 598h0M1383 697h0M1376 604h0M1419 606h0M1442 614h0M1359 618h0M1429 644h0M1424 638h0M1433 662h0M1439 544h0M1420 677h0M1348 632h0M1437 654h0M1433 650h0M1358 687h0M1397 699h0M1423 664h0M1412 661h0M1395 604h0M1394 614h0M1408 637h0M1426 650h0M1419 609h0M1399 689h0M1367 689h0M1369 616h0M1352 656h0M1431 610h0M1421 591h0M1383 648h0M1441 633h0M1413 667h0M1462 641h0M1392 618h0M1418 646h0M1409 611h0M1325 648h0M1403 611h0M1409 581h0M1428 663h0M1404 617h0M1475 645h0M1405 612h0M1377 598h0M1369 548h0M1383 675h0M1405 621h0M1340 666h0M1408 652h0M1354 606h0M1454 617h0M1380 585h0M1394 635h0M1361 631h0M1403 639h0M1426 638h0M1395 602h0M1336 653h0M1387 642h0M1415 664h0M1384 621h0M1363 590h0M1359 651h0M1374 617h0M1430 610h0M1410 657h0M1453 575h0M1391 638h0M1333 672h0M1407 639h0M1422 616h0M1394 614h0M1387 641h0M1408 587h0M1379 659h0M1373 648h0M1403 652h0M1353 643h0M1385 613h0M1379 601h0M1454 589h0M1407 662h0M1425 591h0M1408 625h0M1393 656h0M1383 710h0M1401 614h0M1403 544h0M1442 621h0M1433 590h0M1405 605h0M1404 621h0M1413 630h0M1438 637h0M1350 630h0M1371 616h0M1417 606h0M1406 673h0M1447 640h0M1393 630h0M1414 671h0M1420 615h0M1436 634h0M1434 575h0M1412 617h0M1370 629h0M1403 584h0M1404 648h0M1385 627h0M1407 610h0M1470 589h0M1412 636h0M1386 551h0M1378 667h0M1419 646h0M1418 615h0M1405 591h0M1416 632h0M1412 609h0M1435 667h0M1438 596h0M1390 665h0M1425 673h0M1399 598h0M1445 599h0M1439 622h0M1415 609h0M1328 626h0M1428 575h0M1433 638h0M1430 633h0M1435 632h0M1384 611h0M1321 670h0M1405 589h0M1369 631h0M1375 696h0M1401 603h0M1397 674h0M1400 631h0M1409 651h0M1364 629h0M1381 655h0M1361 634h0M1366 657h0M1426 628h0M1440 647h0M1361 665h0M1354 688h0M1352 591h0M1385 597h0M1385 629h0M1449 657h0M1428 681h0M1348 645h0M1414 578h0M1401 567h0M1428 630h0M1352 699h0M1383 644h0M1414 652h0M1434 607h0M1403 645h0M1376 665h0M1417 643h0M1387 685h0M1472 593h0M1358 688h0M1361 705h0M1381 607h0M1400 647h0M1364 668h0M1359 621h0M1398 638h0M1426 645h0M1425 604h0M1340 673h0M1459 658h0M1396 673h0M1362 619h0M1451 599h0M1364 638h0M1458 685h0M1393 653h0M1342 655h0M1418 639h0M1421 632h0M1399 630h0M1396 662h0M1411 608h0M1432 614h0M1372 613h0M1359 644h0M1403 593h0M1415 617h0M1391 637h0M1435 608h0M1411 579h0M1322 693h0M1363 614h0M1361 656h0M1390 665h0M1353 638h0M1348 626h0M1393 655h0M1398 676h0M1375 653h0M1385 676h0M1409 616h0M1406 697h0M1430 644h0M1335 678h0M1413 589h0M1340 704h0M1428 634h0M1364 645h0M1377 645h0M1408 618h0M1388 628h0M1394 618h0M1363 656h0M1368 656h0M1421 583h0M1398 633h0M1357 643h0M1419 590h0M1388 650h0M1373 626h0M1438 570h0M1393 616h0M1375 648h0M1371 624h0M1391 628h0M1465 633h0M1362 650h0M1417 615h0M1406 669h0M1378 637h0M1394 633h0M1404 598h0M1356 618h0M1398 687h0M1409 563h0M1382 613h0M1371 615h0M1387 630h0M1368 646h0M1345 676h0M1417 645h0M1374 617h0M1366 641h0M1356 623h0M1370 661h0M1394 691h0M1384 613h0M1399 664h0M1326 605h0M1454 622h0M1443 651h0M1360 635h0M1400 608h0M1378 651h0M1384 673h0M1346 637h0M1408 631h0M1397 658h0M1421 666h0M1360 613h0M1373 611h0M1383 646h0M1384 609h0M1408 635h0M1425 628h0M1440 544h0M1412 605h0M1411 640h0M1430 651h0M1375 659h0M1388 599h0M1401 566h0M1364 658h0M1416 599h0M1394 661h0M1361 676h0M1365 633h0M1455 604h0M1391 639h0M1349 618h0M1375 660h0M1361 667h0M1414 605h0M1442 646h0M1372 653h0M1430 582h0M1442 608h0M1416 625h0M1348 699h0M1410 627h0M1384 627h0M1364 699h0M1428 647h0M1423 620h0M1419 642h0M1393 657h0M1377 599h0M1446 612h0M1412 637h0M1392 588h0M1485 609h0M1405 639h0M1376 651h0M1379 665h0M1398 607h0M1348 692h0M1353 617h0M1382 669h0M1346 636h0M1424 664h0M1409 624h0M1395 645h0M1435 622h0M1371 642h0M1422 612h0M1461 613h0M1380 632h0M1382 661h0M1424 670h0M1382 580h0M1375 610h0M1368 597h0M1409 608h0M1394 587h0M1354 670h0M1408 622h0M1388 612h0M1389 627h0M1403 619h0M1349 678h0M1419 553h0M1403 593h0M1382 621h0M1339 645h0M1407 669h0M1428 558h0M1331 706h0M1368 590h0M1385 559h0M1389 614h0M1411 606h0M1432 629h0M1424 653h0M1401 652h0M1419 671h0M1324 654h0M1391 673h0M1445 640h0M1370 590h0M1358 671h0M1416 635h0M1385 631h0M1393 614h0M1392 669h0M1388 638h0M1394 661h0M1410 655h0M1385 650h0M1400 629h0M1365 664h0M1351 622h0M1378 667h0M1487 523h0M1340 649h0M1438 587h0M1448 582h0M1461 661h0M1436 619h0M1403 697h0M1338 629h0M1427 621h0M1445 574h0M1416 666h0M1427 608h0M1443 604h0M1353 656h0M1405 596h0M1421 674h0M1452 679h0M1418 617h0M1358 651h0M1367 689h0M1443 616h0M1437 616h0M1460 610h0M1383 666h0M1332 642h0M1360 646h0M1369 582h0M1377 618h0M1343 645h0M1450 579h0M1422 667h0M1418 550h0M1423 607h0M1445 607h0M1354 681h0M1439 647h0M1389 647h0M1376 682h0M1335 630h0M1411 623h0M1372 654h0M1359 586h0M1430 696h0M1438 598h0M1336 614h0M1373 652h0M1355 679h0M1375 627h0M1400 652h0M1402 671h0M1462 560h0M1331 648h0M1358 634h0M1406 678h0M1432 580h0M1457 638h0M1397 607h0M1377 643h0M1389 666h0M1443 605h0M1357 640h0M1367 617h0M1363 700h0M1381 694h0M1373 636h0M1402 668h0M1360 652h0M1366 666h0M1340 694h0M1446 623h0M1411 660h0M1412 597h0M1401 667h0M1409 554h0M1401 649h0M1428 638h0M1393 707h0M1437 649h0M1371 650h0M1369 689h0M1380 604h0M1395 650h0M1341 636h0M1466 589h0M1424 674h0M1368 668h0M1383 710h0M1446 628h0M1399 624h0M1395 638h0M1344 650h0M1375 606h0M1393 680h0M1365 677h0M1439 601h0M1370 620h0M1420 633h0M1425 607h0M1440 639h0M1387 596h0M1368 673h0M1425 665h0M1401 575h0M1371 632h0M1334 629h0M1411 647h0M1375 598h0M1425 627h0M1395 639h0M1417 601h0M1372 635h0M1404 694h0M1350 629h0M1331 675h0M1453 580h0M1389 576h0M1446 607h0M1406 612h0M1380 636h0M1414 625h0M1452 554h0M1415 616h0M1383 661h0M1406 641h0M1384 683h0M1377 647h0M1344 662h0M1375 703h0M1407 611h0M1381 648h0M1375 618h0M1375 641h0M1418 648h0M1389 581h0M1449 601h0M1455 637h0M1416 633h0M1376 639h0M1411 655h0M1354 672h0M1409 648h0M1368 569h0M1331 607h0M1395 666h0M1418 633h0M1363 603h0M1464 593h0M1439 572h0M1392 635h0M1409 632h0M1434 622h0M1416 619h0M1446 616h0M1387 700h0M1427 672h0M1410 640h0M1368 641h0M1365 612h0M1471 599h0M1415 604h0M1373 633h0M1407 705h0M1384 664h0M1357 571h0M1413 653h0M1465 625h0M1379 588h0M1386 687h0M1418 617h0M1421 596h0M1438 608h0M1417 671h0M1389 571h0M1482 597h0M1392 629h0M1371 642h0M1381 645h0M1380 575h0M1391 660h0M1382 596h0M1394 597h0M1424 616h0M1391 670h0M1432 614h0M1393 620h0M1396 599h0M1378 680h0M1401 617h0M1414 610h0M1419 626h0M1443 627h0M1398 625h0M1399 593h0M1398 645h0M1361 640h0M1397 654h0M1390 637h0M1391 628h0M1386 562h0M1441 589h0M1402 668h0M1388 641h0M1408 610h0M1408 621h0M1389 644h0M1425 577h0M1448 627h0M1353 699h0M1359 592h0M1409 653h0M1407 664h0M1425 633h0M1419 646h0M1342 554h0M1386 648h0M1395 593h0M1409 662h0M1392 646h0M1383 653h0M1373 674h0M1408 623h0M1389 582h0M1353 694h0M1370 682h0M1422 580h0M1390 683h0M1356 588h0M1429 613h0M1395 620h0M1432 587h0M1446 573h0M1369 663h0M1416 600h0M1405 647h0M1329 655h0M1414 584h0M1349 631h0M1393 587h0M1359 657h0M1385 655h0M1432 677h0M1415 576h0M1445 622h0M1408 624h0M1420 575h0M1460 605h0M1416 591h0M1367 654h0M1356 654h0M1406 595h0M1403 582h0M1350 653h0M1435 594h0M1404 623h0M1380 625h0M1361 610h0M1449 616h0M1345 675h0M1378 634h0M1397 617h0M1337 636h0M1349 587h0M1394 668h0M1375 624h0M1417 638h0M1400 574h0M1411 602h0M1395 659h0M1428 636h0M1415 619h0M1412 611h0M1342 700h0M1369 594h0M1400 647h0M1423 701h0M1399 580h0M1393 623h0M1401 655h0M1435 569h0M1406 627h0M1411 601h0M1444 652h0M1405 669h0M1341 669h0M1414 633h0M1374 619h0M1334 644h0M1362 629h0M1424 631h0M1405 644h0M1395 662h0M1492 603h0M1395 648h0M1403 596h0M1351 627h0M1409 677h0M1434 572h0M1418 603h0M1393 617h0M1396 585h0M1397 672h0M1447 582h0M1374 665h0M1406 627h0M1427 571h0M1383 631h0M1382 629h0M1391 613h0M1341 678h0M1409 631h0M1395 649h0M1364 627h0M1338 707h0M1322 661h0M1439 647h0M1434 648h0M1356 665h0M1383 653h0M1385 591h0M1391 629h0M1461 654h0M1380 639h0M1408 553h0M1361 631h0M1397 647h0M1365 644h0M1372 678h0M1484 640h0M1401 708h0M1380 668h0M1361 672h0M1451 599h0M1420 591h0M1407 628h0M1394 630h0M1355 700h0M1381 662h0M1355 672h0M1431 683h0M1412 625h0M1359 654h0M1389 615h0M1364 635h0M1419 663h0M1392 588h0M1463 633h0M1336 637h0M1410 669h0M1437 589h0M1358 647h0M1376 683h0M1390 616h0M1417 604h0M1361 659h0M1379 604h0M1399 646h0M1322 675h0M1408 613h0M1323 631h0M1401 619h0M1347 606h0M1419 616h0M1392 645h0M1379 597h0M1346 650h0M1388 665h0M1430 602h0M1422 624h0M1389 605h0M1436 634h0M1356 699h0M1413 629h0M1369 662h0M1433 644h0M1397 563h0M1459 603h0M1468 624h0M1412 653h0M1351 666h0M1409 620h0M1387 600h0M1386 682h0M1392 616h0M1452 622h0M1437 671h0M1385 610h0M1423 550h0M1399 646h0M1407 675h0M1422 652h0M1383 625h0M1408 658h0M1427 620h0M1453 587h0M1430 679h0M1447 642h0M1398 657h0M1438 595h0M1422 658h0M1385 650h0M1384 638h0M1393 693h0M1368 691h0M1372 638h0M1332 674h0M1360 596h0M1369 597h0M1420 632h0M1459 610h0M1389 677h0M1357 620h0M1421 599h0M1413 637h0M1397 677h0M1394 599h0M1359 640h0M1381 606h0M1477 584h0M1405 650h0M1409 640h0M1355 679h0M1387 634h0M1398 660h0M1397 710h0M1404 695h0M1359 610h0M1382 689h0M1390 567h0M1395 674h0M1365 629h0M1431 598h0M1326 657h0M1389 604h0M1422 569h0M1415 636h0M1406 615h0M1372 664h0M1442 628h0M1404 591h0M1421 675h0M1406 607h0M1388 551h0M1428 651h0M1400 620h0M1416 567h0M1421 643h0M1340 651h0M1411 604h0M1375 612h0M1423 605h0M1371 689h0M1456 602h0M1383 636h0M1381 641h0M1408 635h0M1399 675h0M1325 625h0M1355 622h0M1395 633h0M1431 646h0M1437 619h0M1428 609h0M1324 619h0M1446 610h0M1375 623h0M1355 677h0M1400 626h0M1400 614h0M1384 687h0M1354 631h0M1410 653h0M1444 672h0M1396 708h0M1436 638h0M1414 630h0M1429 628h0M1421 603h0M1408 634h0M1376 654h0M1350 607h0M1375 645h0M1388 672h0M1385 610h0M1438 657h0M1339 655h0M1393 604h0M1382 633h0M1394 643h0M1419 653h0M1384 617h0M1415 601h0M1393 619h0M1405 660h0M1413 580h0M1384 670h0M1329 656h0M1402 619h0M1387 659h0M1385 657h0M1413 630h0M1411 604h0M1449 540h0M1350 620h0M1374 640h0M1417 615h0M1425 628h0M1417 586h0M1412 653h0M1399 646h0M1365 630h0M1391 655h0M1418 642h0M1408 598h0M1362 633h0M1352 684h0M1394 629h0M1396 602h0M1368 699h0M1375 591h0M1432 650h0M1437 613h0M1359 631h0M1373 647h0M1378 644h0M1453 616h0M1392 660h0M1366 598h0M1390 599h0M1390 654h0M1349 658h0M1409 660h0M1405 614h0M1404 643h0M1449 598h0M1418 650h0M1404 613h0M1399 674h0M1348 648h0M1390 618h0M1401 632h0M1411 662h0M1461 639h0M1379 682h0M1375 638h0M1364 653h0M1340 639h0M1388 661h0M1439 661h0M1387 627h0M1430 657h0M1358 610h0M1452 621h0M1460 608h0M1343 662h0M1423 673h0M1397 674h0M1517 548h0M1437 642h0M1401 651h0M1386 629h0M1388 697h0M1413 675h0M1442 607h0M1357 650h0M1351 607h0M1367 640h0M1421 570h0M1396 579h0M1382 625h0M1414 602h0M1406 625h0M1403 634h0M1423 635h0M1428 631h0M1407 633h0M1384 675h0M1375 648h0M1393 615h0M1363 673h0M1375 610h0M1378 596h0M1347 686h0M1410 581h0M1403 636h0M1433 555h0M1413 608h0M1363 624h0M1408 623h0M1368 612h0M1391 650h0M1414 630h0M1354 630h0M1418 654h0M1371 613h0M1409 669h0M1356 620h0M1467 639h0M1402 693h0M1367 625h0M1446 663h0M1375 632h0M1378 641h0M1395 578h0M1345 624h0M1409 599h0M1379 687h0M1394 679h0M1339 596h0M1398 561h0M1394 615h0M1409 603h0M1382 619h0M1374 668h0M1369 626h0M1397 624h0M1433 639h0M1371 675h0M1414 654h0M1429 580h0M1411 608h0M1395 661h0M1422 598h0M1445 585h0M1418 593h0M1376 573h0M1446 625h0M1392 585h0M1422 701h0M1410 661h0M1410 621h0M1398 640h0M1418 629h0M1407 514h0M1371 644h0M1366 608h0M1339 623h0M1371 710h0M1367 657h0M1416 702h0M1454 644h0M1393 634h0M1395 616h0M1440 635h0M1390 602h0M1397 573h0M1414 682h0M1375 607h0M1353 640h0M1433 619h0M1389 626h0M1415 659h0M1447 648h0M1396 660h0M1371 597h0M1454 608h0M1410 623h0M1343 672h0M1450 671h0M1394 575h0M1413 651h0M1354 624h0M1334 622h0M1395 615h0M1431 596h0M1386 626h0M1426 678h0M1392 590h0M1407 606h0M1388 652h0M1415 587h0M1382 618h0M1434 589h0M1341 708h0M1394 656h0M1417 665h0M1434 597h0M1407 641h0M1400 654h0M1398 636h0M1405 650h0M1366 690h0M1351 638h0M1428 633h0M1346 616h0M1443 620h0M1428 564h0M1425 696h0M1410 574h0M1352 594h0M1415 650h0M1390 669h0M1428 628h0M1366 564h0M1364 623h0M1447 643h0M1473 668h0M1368 577h0M1391 641h0M1422 637h0M1361 669h0M1400 610h0M1362 633h0M1388 677h0M1379 702h0M1399 665h0M1431 605h0M1419 684h0M1367 602h0M1395 583h0M1368 650h0M1402 628h0M1334 648h0M1433 639h0M1420 690h0M1382 629h0M1405 685h0M1389 613h0M1340 637h0M1385 619h0M1445 645h0M1385 699h0M1394 587h0M1370 641h0M1387 588h0M1462 619h0M1402 601h0M1439 595h0M1444 599h0M1396 636h0M1443 624h0M1435 683h0M1414 640h0M1456 641h0M1329 626h0M1363 630h0M1434 615h0M1371 609h0M1405 625h0M1379 629h0M1409 626h0M1426 616h0M1473 635h0M1457 608h0M1374 655h0M1467 608h0M1404 628h0M1354 668h0M1381 653h0M1413 663h0M1394 618h0M1351 692h0M1384 619h0M1440 623h0M1401 603h0M1414 706h0M1399 590h0M1371 595h0M1396 602h0M1454 600h0M1382 650h0M1352 658h0M1422 637h0M1395 617h0M1330 662h0M1442 614h0M1373 663h0M1361 643h0M1427 642h0M1398 670h0M1385 617h0M1427 577h0M1400 615h0M1417 603h0M1401 661h0M1402 610h0M1443 638h0M1335 615h0M1355 651h0M1421 565h0M1375 665h0M1351 662h0M1421 594h0M1397 655h0M1361 613h0M1392 576h0M1343 632h0M1377 653h0M1433 581h0M1446 575h0M1375 687h0M1401 572h0M1366 623h0M1413 591h0M1358 662h0M1443 617h0M1380 610h0M1435 629h0M1371 646h0M1428 633h0M1432 636h0M1440 610h0M1379 592h0M1374 615h0M1408 648h0M1380 615h0M1461 618h0M1420 644h0M1352 671h0M1472 615h0M1383 570h0M1383 595h0M1421 654h0M1412 640h0M1363 604h0M1366 652h0M1388 678h0M1388 616h0M1471 630h0M1442 608h0M1446 598h0M1385 667h0M1393 644h0M1337 691h0M1449 575h0M1372 641h0M1447 677h0M1434 651h0M1397 658h0M1403 698h0M1385 635h0M1446 670h0M1384 677h0M1379 666h0M1396 690h0M1435 573h0M1379 683h0M1382 629h0M1395 656h0M1433 616h0M1410 635h0M1353 643h0M1382 643h0M1386 616h0M1401 635h0M1427 625h0M1412 627h0M1341 670h0M1400 634h0M1400 695h0M1418 593h0M1397 561h0M1430 606h0M1364 631h0M1388 609h0M1386 625h0M1386 563h0M1413 616h0M1438 627h0M1367 659h0M1409 649h0M1401 590h0M1457 578h0M1397 613h0M1420 679h0M1386 682h0M1443 619h0M1405 627h0M1332 665h0M1410 639h0M1438 624h0M1411 618h0M1446 594h0M1450 654h0M1374 627h0M1416 612h0M1406 586h0M1394 665h0M1391 615h0M1417 606h0M1409 645h0M1457 609h0M1345 645h0M1361 605h0M1394 637h0M1405 613h0M1369 653h0M1439 684h0M1454 546h0M1423 617h0M1410 629h0M1373 664h0M1390 639h0M1397 670h0M1367 616h0M1419 618h0M1370 643h0M1424 663h0M1398 582h0M1340 629h0M1401 621h0M1390 660h0M1438 684h0M1425 613h0M1447 573h0M1465 563h0M1430 605h0M1381 646h0M1353 595h0M1338 669h0M1415 643h0M1450 644h0M1346 612h0M1405 628h0M1442 595h0M1395 614h0M1418 678h0M1343 608h0M1395 634h0M1339 639h0M1345 610h0M1388 634h0M1360 640h0M1375 656h0M1389 615h0M1397 699h0M1368 658h0M1374 697h0M1401 636h0M1440 598h0M1447 597h0M1465 584h0M1390 697h0M1386 612h0M1409 639h0M1412 654h0M1365 632h0M1353 670h0M1388 634h0M1416 629h0M1374 647h0M1396 611h0M1396 674h0M1357 629h0M1421 628h0M1415 581h0M1381 624h0M1413 661h0M1352 567h0M1420 641h0M1446 598h0M1393 643h0M1373 592h0M1341 665h0M1479 602h0M1406 587h0M1334 684h0M1458 619h0M1372 662h0M1371 635h0M1395 625h0M1411 651h0M1353 602h0M1413 641h0M1375 683h0M1436 600h0M1400 666h0M1434 628h0M1446 532h0M1405 596h0M1413 695h0M1415 584h0M1398 649h0M1415 654h0M1393 629h0M1340 649h0M1334 633h0M1353 695h0M1443 602h0M1430 540h0M1443 593h0M1345 674h0M1361 632h0M1348 696h0M1441 630h0M1424 584h0M1424 579h0M1458 593h0M1449 665h0M1356 698h0M1412 639h0M1464 612h0M1409 665h0M1470 580h0M1343 626h0M1369 603h0M1393 610h0M1356 667h0M1459 635h0M1379 642h0M1352 661h0M1434 682h0M1432 668h0M1421 642h0M1397 631h0M1369 641h0M1400 708h0M1374 683h0M1462 609h0M1377 657h0M1366 653h0M1418 655h0M1408 606h0M1442 656h0M1424 633h0M1409 632h0M1366 690h0M1356 636h0M1438 643h0M1404 626h0M1379 632h0M1407 651h0M1443 666h0M1335 678h0M1397 606h0M1376 678h0M1447 612h0M1395 645h0M1407 668h0M1415 647h0M1432 679h0M1403 613h0M1371 597h0M1358 702h0M1429 643h0M1396 668h0M1375 664h0M1383 686h0M1426 579h0M1414 634h0M1340 671h0M1361 669h0M1377 632h0M1392 602h0M1439 622h0M1332 632h0M1398 672h0M1386 625h0M1353 602h0M1328 663h0M1402 622h0M1375 625h0M1398 598h0M1386 644h0M1358 610h0M1385 667h0M1397 621h0M1373 605h0M1402 627h0M1400 686h0M1426 619h0M1420 639h0M1385 641h0M1435 618h0M1372 659h0M1356 626h0M1333 654h0M1348 667h0M1400 580h0M1367 660h0M1416 627h0M1413 660h0M1368 646h0M1425 602h0M1427 639h0M1404 619h0M1394 654h0M1427 622h0M1381 607h0M1402 665h0M1381 593h0M1432 617h0M1368 678h0M1370 651h0M1392 643h0M1408 652h0M1394 638h0M1418 635h0M1462 647h0M1406 619h0M1405 667h0M1378 612h0M1332 690h0M1394 628h0M1400 624h0M1354 646h0M1374 672h0M1418 583h0M1359 674h0M1432 598h0M1384 633h0M1373 613h0M1403 649h0M1372 649h0M1457 618h0M1330 641h0M1422 641h0M1418 611h0M1426 641h0M1437 641h0M1372 706h0M1396 612h0M1366 696h0M1399 645h0M1390 668h0M1414 602h0M1412 614h0M1420 629h0M1429 565h0M1425 556h0M1369 637h0M1431 645h0M1406 585h0M1416 649h0M1417 613h0M1420 601h0M1354 629h0M1424 598h0M1360 629h0M1437 632h0M1435 641h0M1385 641h0M1389 661h0M1386 689h0M1411 627h0M1427 585h0M1436 590h0M1411 653h0M1378 656h0M1469 609h0M1369 662h0M1423 598h0M1383 685h0M1376 669h0M1337 532h0M1399 682h0M1436 629h0M1402 620h0M1419 602h0M1400 636h0M1356 627h0M1420 650h0M1420 683h0M1356 612h0M1326 630h0M1457 587h0M1396 601h0M1413 615h0M1372 618h0M1382 628h0M1404 579h0M1404 659h0M1404 622h0M1454 597h0M1333 625h0M1368 668h0M1373 599h0M1409 618h0M1353 649h0M1423 646h0M1437 557h0M1372 638h0M1398 590h0M1391 653h0M1391 620h0M1436 623h0M1400 602h0M1404 670h0M1369 600h0M1332 666h0M1392 597h0M1367 623h0M1389 638h0M1416 608h0M1334 610h0M1457 569h0M1413 656h0M1382 667h0M1382 631h0M1399 615h0M1422 558h0M1330 669h0M1404 645h0M1379 632h0M1386 633h0M1411 669h0M1405 668h0M1395 601h0M1404 642h0M1353 662h0M1429 631h0M1400 623h0M1390 683h0M1393 631h0M1464 643h0M1403 651h0M1413 645h0M1398 626h0M1392 697h0M1397 578h0M1362 673h0M1392 632h0M1361 627h0M1352 633h0M1374 625h0M1372 675h0M1418 619h0M1371 628h0M1396 649h0M1359 636h0M1398 643h0M1357 666h0M1332 628h0M1365 620h0M1359 631h0M1418 619h0M1381 600h0M1407 588h0M1408 599h0M1432 655h0M1404 597h0M1443 616h0M1414 585h0M1380 640h0M1393 654h0M1390 631h0M1413 647h0M1412 635h0M1416 583h0M1388 660h0M1464 559h0M1466 608h0M1444 601h0M1380 583h0M1434 634h0M1405 578h0M1424 634h0M1379 618h0M1408 617h0M1381 680h0M1347 691h0M1378 651h0M1394 678h0M1366 625h0M1392 605h0M1459 626h0M1346 676h0M1424 622h0M1324 671h0M1405 674h0M1446 547h0M1366 669h0M1362 660h0M1356 670h0M1431 618h0M1410 638h0M1373 709h0M1381 709h0M1395 633h0M1411 597h0M1383 637h0M1433 645h0M1388 646h0M1408 645h0M1399 629h0M1423 616h0M1449 640h0M1424 609h0M1391 641h0M1409 649h0M1410 653h0M1401 665h0M1406 638h0M1358 649h0M1377 667h0M1462 629h0M1401 589h0M1387 649h0M1350 656h0M1386 632h0M1419 572h0M1402 591h0M1377 660h0M1456 584h0M1366 592h0M1413 622h0M1369 607h0M1450 649h0M1459 603h0M1381 668h0M1340 636h0M1396 654h0M1368 642h0M1425 625h0M1411 640h0M1440 580h0M1419 594h0M1385 661h0M1431 664h0M1380 633h0M1424 650h0M1374 615h0M1393 652h0M1429 664h0M1369 579h0M1393 626h0M1424 650h0M1387 652h0M1405 638h0M1382 609h0M1425 655h0M1430 545h0M1394 576h0M1364 651h0M1407 650h0M1440 628h0M1430 644h0M1426 657h0M1429 604h0M1327 707h0M1331 617h0M1323 650h0M1322 662h0M1331 689h0M1327 626h0M1332 636h0M1330 708h0M1333 695h0M1332 634h0M1331 699h0M1331 627h0M1329 623h0M1329 625h0M1328 635h0M1333 697h0M1329 670h0M1330 684h0M1322 684h0M1328 609h0M1324 688h0M1331 621h0M1331 700h0M1323 695h0M1324 685h0M1324 601h0M1328 628h0M1329 648h0M1323 670h0M1324 624h0M1322 698h0M1325 601h0M1333 645h0M1335 708h0M1329 624h0M1335 618h0M1323 661h0M1327 662h0M1327 620h0M1325 633h0M1333 682h0M1333 680h0M1327 672h0M1326 617h0M1334 621h0M1323 650h0M1328 621h0M1330 652h0M1325 613h0M1329 651h0M1326 618h0M1329 670h0M1324 668h0M1330 692h0M1322 704h0M1329 663h0M1334 656h0M1334 702h0M1325 689h0M1335 661h0M1324 662h0M1336 633h0M1327 675h0M1331 696h0M1322 659h0M1326 663h0M1335 649h0M1333 605h0M1332 622h0M1330 706h0M1333 639h0M1326 683h0M1330 623h0M1325 683h0M1328 599h0M1330 708h0M1329 668h0M1324 606h0M1335 602h0M1328 697h0M1334 634h0M1326 670h0M1330 667h0M1322 681h0M1326 654h0M1324 636h0M1327 600h0M1329 634h0M1325 686h0M1332 605h0" stroke="#000" stroke-opacity="0.3" stroke-width="3.6" stroke-linecap="square" fill="none"/><path transform="scale(.25)" d="M1323 564h0M1382 585h0M1373 636h0M1356 586h0M1396 591h0M1381 600h0M1404 600h0M1374 537h0M1386 533h0M1367 590h0M1361 595h0M1384 550h0M1340 641h0M1381 650h0M1437 592h0M1367 578h0M1365 585h0M1378 560h0M1421 544h0M1344 601h0M1338 536h0M1346 561h0M1382 607h0M1395 586h0M1339 536h0M1363 608h0M1352 574h0M1353 588h0M1367 616h0M1378 543h0M1392 530h0M1364 611h0M1422 603h0M1319 633h0M1394 634h0M1385 605h0M1385 602h0M1392 574h0M1356 630h0M1414 566h0M1356 601h0M1391 595h0M1338 610h0M1353 588h0M1356 610h0M1380 555h0M1387 570h0M1374 558h0M1366 585h0M1339 564h0M1354 616h0M1359 569h0M1357 562h0M1436 542h0M1398 570h0M1361 564h0M1386 581h0M1409 593h0M1379 492h0M1359 603h0M1387 635h0M1413 536h0M1361 581h0M1362 524h0M1440 613h0M1319 564h0M1370 601h0M1369 608h0M1404 588h0M1449 621h0M1398 610h0M1347 594h0M1347 598h0M1378 590h0M1343 552h0M1355 574h0M1343 538h0M1343 639h0M1383 538h0M1411 679h0M1390 602h0M1404 588h0M1338 587h0M1405 578h0M1365 600h0M1351 598h0M1446 574h0M1383 613h0M1414 587h0M1368 586h0M1407 607h0M1448 610h0M1393 546h0M1322 585h0M1349 606h0M1420 581h0M1347 552h0M1377 582h0M1382 585h0M1385 595h0M1397 582h0M1416 649h0M1380 566h0M1415 605h0M1373 559h0M1382 616h0M1342 587h0M1403 601h0M1342 600h0M1401 548h0M1323 647h0M1394 596h0M1391 570h0M1349 520h0M1395 549h0M1354 661h0M1404 591h0M1372 599h0M1346 543h0M1367 622h0M1408 592h0M1380 547h0M1402 600h0M1351 642h0M1444 529h0M1355 612h0M1372 579h0M1341 620h0M1360 613h0M1358 607h0M1380 615h0M1399 566h0M1343 548h0M1383 611h0M1387 566h0M1368 627h0M1346 576h0M1406 535h0M1396 609h0M1378 534h0M1358 619h0M1330 567h0M1351 542h0M1330 559h0M1358 596h0M1388 587h0M1351 597h0M1371 637h0M1367 556h0M1372 614h0M1324 631h0M1347 581h0M1364 593h0M1341 583h0M1407 567h0M1376 624h0M1321 574h0M1397 577h0M1374 567h0M1402 581h0M1367 552h0M1397 618h0M1360 535h0M1351 638h0M1417 656h0M1372 530h0M1374 597h0M1365 567h0M1361 569h0M1443 605h0M1376 569h0M1424 608h0M1397 570h0M1386 582h0M1336 582h0M1365 605h0M1406 556h0M1363 613h0M1441 546h0M1412 563h0M1382 626h0M1368 561h0M1336 600h0M1354 610h0M1353 563h0M1375 563h0M1345 559h0M1393 635h0M1411 612h0M1365 570h0M1387 594h0M1340 591h0M1362 586h0M1359 541h0M1348 531h0M1363 567h0M1347 594h0M1416 590h0M1427 540h0M1465 559h0M1455 609h0M1556 611h0M1478 516h0M1380 616h0M1420 553h0M1450 574h0M1428 589h0M1370 556h0M1469 589h0M1483 543h0M1445 513h0M1529 548h0M1339 531h0M1448 603h0M1520 599h0M1402 633h0M1364 622h0M1346 611h0M1376 538h0M1486 573h0M1435 600h0M1399 546h0M1356 606h0M1440 532h0M1360 543h0M1480 512h0M1435 517h0M1419 554h0M1409 507h0M1482 541h0M1374 548h0M1411 568h0M1336 553h0M1414 559h0M1490 500h0M1447 576h0M1463 519h0M1478 629h0M1416 625h0M1363 556h0M1438 532h0M1342 527h0M1465 521h0M1417 501h0M1472 545h0M1454 574h0M1423 529h0M1455 591h0M1426 536h0M1363 616h0M1474 476h0M1343 564h0M1423 584h0M1442 515h0M1464 652h0M1473 504h0M1460 547h0M1438 550h0M1417 574h0M1380 578h0M1438 593h0M1413 574h0M1388 545h0M1427 597h0M1381 479h0M1446 641h0M1346 577h0M1362 541h0M1421 516h0M1447 608h0M1506 601h0M1483 521h0M1401 615h0M1440 559h0M1425 553h0M1449 532h0M1438 569h0M1481 528h0M1467 613h0M1379 546h0M1406 590h0M1426 574h0M1456 496h0M1426 521h0M1431 596h0M1449 503h0M1443 613h0M1460 583h0M1413 608h0M1439 533h0M1455 530h0M1500 525h0M1479 503h0M1499 595h0M1424 572h0M1430 560h0M1457 546h0M1411 634h0M1390 648h0M1395 558h0M1403 554h0M1427 490h0M1341 560h0M1336 575h0M1404 564h0M1488 571h0M1433 620h0M1417 625h0M1476 602h0M1472 631h0M1413 552h0M1524 505h0M1472 517h0M1393 606h0M1452 557h0M1341 487h0M1427 490h0M1440 504h0M1435 507h0M1350 531h0M1430 465h0M1419 559h0M1390 499h0M1386 496h0M1499 515h0M1397 516h0M1414 558h0M1481 496h0M1430 590h0M1491 594h0M1334 464h0M1492 571h0M1473 556h0M1461 495h0M1469 567h0M1530 548h0M1367 537h0M1392 513h0M1470 473h0M1367 556h0M1440 531h0M1475 472h0M1326 480h0M1520 469h0M1396 462h0M1468 557h0M1380 503h0M1424 508h0M1509 564h0M1476 582h0M1516 542h0M1435 553h0M1471 531h0M1520 561h0M1357 486h0M1477 575h0M1368 529h0M1381 593h0M1513 570h0M1391 547h0M1382 547h0M1451 509h0M1376 586h0M1355 551h0M1369 473h0M1366 486h0M1331 582h0M1374 567h0M1503 494h0M1527 489h0M1336 535h0M1429 586h0M1415 506h0M1383 538h0M1511 580h0" stroke="#000" stroke-opacity="0.2" stroke-width="3.6" stroke-linecap="square" fill="none"/></g>
<polyline points="334.4,178.5 334.6,157.0 337.0,152.0 343.0,147.0 352.2,143.9 372.9,144.8 376.3,147.8 377.3,155.0 375.4,178.5" fill="none" stroke="#7a7a7a" stroke-width="0.9"/>
<rect x="320.4" y="109.2" width="72.7" height="69.3" fill="none" stroke="#808080" stroke-width="0.9" />
<line x1="319.9" y1="178.5" x2="319.9" y2="179.7" stroke="#999" stroke-width="0.6"/>
<line x1="327.1" y1="178.5" x2="327.1" y2="179.7" stroke="#999" stroke-width="0.6"/>
<line x1="334.3" y1="178.5" x2="334.3" y2="179.7" stroke="#999" stroke-width="0.6"/>
<line x1="341.5" y1="178.5" x2="341.5" y2="179.7" stroke="#999" stroke-width="0.6"/>
<line x1="348.7" y1="178.5" x2="348.7" y2="179.7" stroke="#999" stroke-width="0.6"/>
<line x1="355.9" y1="178.5" x2="355.9" y2="179.7" stroke="#999" stroke-width="0.6"/>
<line x1="363.1" y1="178.5" x2="363.1" y2="179.7" stroke="#999" stroke-width="0.6"/>
<line x1="370.3" y1="178.5" x2="370.3" y2="179.7" stroke="#999" stroke-width="0.6"/>
<line x1="377.5" y1="178.5" x2="377.5" y2="179.7" stroke="#999" stroke-width="0.6"/>
<line x1="384.7" y1="178.5" x2="384.7" y2="179.7" stroke="#999" stroke-width="0.6"/>
<line x1="391.9" y1="178.5" x2="391.9" y2="179.7" stroke="#999" stroke-width="0.6"/>
<text x="319.9" y="186.4" font-size="4.6" text-anchor="middle" font-weight="normal" fill="#6a6a6a" >0</text>
<text x="334.3" y="186.4" font-size="4.6" text-anchor="middle" font-weight="normal" fill="#6a6a6a" >200</text>
<text x="348.7" y="186.4" font-size="4.6" text-anchor="middle" font-weight="normal" fill="#6a6a6a" >400</text>
<text x="363.1" y="186.4" font-size="4.6" text-anchor="middle" font-weight="normal" fill="#6a6a6a" >600</text>
<text x="377.5" y="186.4" font-size="4.6" text-anchor="middle" font-weight="normal" fill="#6a6a6a" >800</text>
<text x="391.9" y="186.4" font-size="4.6" text-anchor="middle" font-weight="normal" fill="#6a6a6a" >1000</text>
<text x="314.4" y="177.2" font-size="4.4" text-anchor="middle" font-weight="normal" fill="#8a8a8a" >10<tspan font-size="3.6" dy="-2.0" fill="#555">0</tspan></text>
<line x1="320.4" y1="176.2" x2="321.7" y2="176.2" stroke="#555" stroke-width="0.9"/>
<text x="314.4" y="160.6" font-size="4.4" text-anchor="middle" font-weight="normal" fill="#8a8a8a" >10<tspan font-size="3.6" dy="-2.0" fill="#555">1</tspan></text>
<line x1="320.4" y1="159.6" x2="321.7" y2="159.6" stroke="#555" stroke-width="0.9"/>
<text x="314.4" y="144.0" font-size="4.4" text-anchor="middle" font-weight="normal" fill="#8a8a8a" >10<tspan font-size="3.6" dy="-2.0" fill="#555">2</tspan></text>
<line x1="320.4" y1="143.0" x2="321.7" y2="143.0" stroke="#555" stroke-width="0.9"/>
<text x="314.4" y="127.4" font-size="4.4" text-anchor="middle" font-weight="normal" fill="#8a8a8a" >10<tspan font-size="3.6" dy="-2.0" fill="#555">3</tspan></text>
<line x1="320.4" y1="126.4" x2="321.7" y2="126.4" stroke="#555" stroke-width="0.9"/>
<text x="314.4" y="110.8" font-size="4.4" text-anchor="middle" font-weight="normal" fill="#8a8a8a" >10<tspan font-size="3.6" dy="-2.0" fill="#555">4</tspan></text>
<line x1="320.4" y1="109.8" x2="321.7" y2="109.8" stroke="#555" stroke-width="0.9"/>
<text x="389.6" y="119.4" font-size="8.2" text-anchor="end" font-weight="bold" fill="#000" >76%</text>
<clipPath id="fp4"><rect x="417.7" y="111.2" width="62.7" height="68.1"/></clipPath>
<g clip-path="url(#fp4)"><ellipse cx="425.6" cy="134.2" rx="15.2" ry="14.3" transform="rotate(-25 425.6 134.2)" fill="url(#hz)" opacity="0.16"/><ellipse cx="434.6" cy="161.7" rx="21.6" ry="16.1" transform="rotate(-55 434.6 161.7)" fill="url(#hz)" opacity="0.26"/></g>
<g filter="url(#db)"><path transform="scale(.25)" d="M1713 552h0M1671 530h0M1675 540h0M1678 563h0M1718 561h0M1727 521h0M1701 536h0M1691 560h0M1693 538h0M1668 533h0M1684 519h0M1727 561h0M1713 518h0M1710 531h0M1690 572h0M1711 525h0M1734 538h0M1745 554h0M1689 553h0M1740 521h0M1714 520h0M1702 570h0M1756 522h0M1706 509h0M1702 523h0M1678 521h0M1695 548h0M1713 575h0M1690 572h0M1704 533h0M1719 505h0M1695 529h0M1739 523h0M1708 513h0M1715 550h0M1746 559h0M1710 536h0M1710 528h0M1733 505h0M1708 572h0M1703 541h0M1745 539h0M1748 508h0M1711 525h0M1720 502h0M1679 490h0M1684 495h0M1715 526h0M1709 515h0M1688 549h0M1685 542h0M1717 538h0M1737 552h0M1720 499h0M1730 532h0M1689 543h0M1679 535h0M1685 507h0M1688 514h0M1681 549h0M1739 561h0M1725 523h0M1712 526h0M1687 532h0M1719 543h0M1728 554h0M1718 552h0M1727 507h0M1731 535h0M1680 569h0M1728 516h0M1697 569h0M1672 494h0M1698 515h0M1718 567h0M1675 547h0M1715 566h0M1737 519h0M1724 547h0M1674 543h0M1670 536h0M1709 564h0M1714 541h0M1676 554h0M1717 558h0M1708 561h0M1705 550h0M1713 558h0M1752 562h0M1709 532h0M1703 533h0M1712 566h0M1708 508h0M1706 566h0M1713 576h0M1740 515h0M1741 530h0M1715 522h0M1701 503h0M1750 579h0M1686 554h0M1736 522h0M1698 524h0M1671 526h0M1702 565h0M1724 550h0M1672 559h0M1724 496h0M1688 514h0M1684 542h0M1674 510h0M1743 515h0M1715 566h0M1682 489h0M1725 546h0M1681 538h0M1729 514h0M1699 540h0M1674 550h0M1734 558h0M1713 596h0M1676 553h0M1697 528h0M1727 543h0M1722 527h0M1716 556h0M1720 544h0M1699 532h0M1719 569h0M1710 575h0M1687 564h0M1684 541h0M1709 525h0M1678 559h0M1738 553h0M1726 553h0M1717 550h0M1726 543h0M1746 510h0M1695 555h0M1700 561h0M1686 544h0M1714 485h0M1691 568h0M1702 572h0M1698 548h0M1683 564h0M1717 548h0M1759 538h0M1731 487h0M1711 528h0M1721 565h0M1691 550h0M1714 604h0M1722 571h0M1717 475h0M1673 505h0M1691 545h0M1739 569h0M1710 492h0M1718 557h0M1713 523h0M1711 555h0M1705 522h0M1672 549h0M1728 553h0M1725 570h0M1720 529h0M1676 583h0M1683 548h0M1680 561h0M1737 513h0M1674 535h0M1684 521h0M1733 539h0M1676 527h0M1738 518h0M1731 499h0M1734 509h0M1683 561h0M1702 552h0M1695 530h0M1701 514h0M1689 547h0M1697 524h0M1736 519h0M1712 520h0M1705 544h0M1713 516h0M1713 504h0M1701 566h0M1685 523h0M1700 520h0M1680 542h0M1703 514h0M1684 546h0M1722 552h0M1744 521h0M1695 537h0M1705 571h0M1688 529h0M1718 570h0M1735 536h0M1730 493h0M1674 552h0M1673 533h0M1725 553h0M1711 549h0M1692 519h0M1685 546h0M1684 569h0M1737 547h0M1666 553h0M1726 567h0M1723 530h0M1725 532h0M1697 522h0M1686 527h0M1721 532h0M1711 548h0M1728 547h0M1680 546h0M1727 558h0M1706 527h0M1729 523h0M1674 539h0M1711 527h0M1710 541h0M1722 550h0M1705 509h0M1710 564h0M1696 550h0M1714 497h0M1707 529h0M1699 550h0M1698 538h0M1697 538h0M1745 553h0M1676 505h0M1717 515h0M1702 555h0M1699 526h0M1689 520h0M1699 546h0M1697 493h0M1698 578h0M1741 525h0M1680 552h0M1706 539h0M1767 536h0M1748 524h0M1720 561h0M1740 559h0M1766 570h0M1715 552h0M1707 540h0M1710 486h0M1724 531h0M1695 496h0M1734 570h0M1742 545h0M1730 542h0M1720 538h0M1680 530h0M1710 555h0M1710 535h0M1727 530h0M1707 571h0M1709 563h0M1736 529h0M1695 523h0M1721 536h0M1696 550h0M1697 518h0M1719 550h0M1675 548h0M1695 534h0M1732 557h0M1753 549h0M1737 522h0M1719 569h0M1688 517h0M1699 567h0M1678 545h0M1724 491h0M1703 550h0M1669 497h0M1678 544h0M1717 557h0M1734 507h0M1716 562h0M1693 523h0M1725 543h0M1684 557h0M1673 548h0M1703 527h0M1688 522h0M1691 494h0M1705 521h0M1688 551h0M1738 527h0M1734 557h0M1761 528h0M1681 581h0M1718 565h0M1726 505h0M1679 567h0M1681 551h0M1673 562h0M1730 565h0M1729 551h0M1685 539h0M1710 497h0M1705 528h0M1729 540h0M1706 499h0M1692 537h0M1730 506h0M1706 551h0M1673 499h0M1684 500h0M1699 519h0M1716 548h0M1711 540h0M1716 553h0M1739 552h0M1710 507h0M1729 522h0M1688 546h0M1733 509h0M1735 558h0M1693 523h0M1706 536h0M1699 554h0M1711 563h0M1678 498h0M1730 496h0M1729 555h0M1675 538h0M1705 581h0M1684 512h0M1681 551h0M1702 516h0M1682 509h0M1747 568h0M1722 537h0M1709 526h0M1693 535h0M1700 557h0M1677 478h0M1696 531h0M1671 534h0M1703 558h0M1674 531h0M1701 537h0M1723 521h0M1754 583h0M1727 530h0M1678 505h0M1716 521h0M1703 536h0M1709 563h0M1698 514h0M1689 538h0M1715 526h0M1693 516h0M1687 494h0M1691 526h0M1717 533h0M1729 493h0M1704 545h0M1758 516h0M1687 478h0M1697 570h0M1682 550h0M1715 526h0M1725 502h0M1696 582h0M1692 512h0M1698 554h0M1739 512h0M1707 524h0M1698 565h0M1708 521h0M1722 527h0M1739 538h0M1734 547h0M1718 495h0M1686 549h0M1695 543h0M1725 508h0M1680 522h0M1682 542h0M1690 567h0M1692 524h0M1709 540h0M1690 555h0M1695 550h0M1691 533h0M1691 571h0M1700 568h0M1686 517h0M1693 533h0M1669 516h0M1738 545h0M1688 489h0M1718 526h0M1684 530h0M1691 541h0M1711 526h0M1706 578h0M1712 551h0M1719 560h0M1710 507h0M1738 526h0M1726 569h0M1718 527h0M1702 560h0M1715 533h0M1674 545h0M1692 538h0M1713 542h0M1737 519h0M1700 549h0M1693 542h0M1729 505h0M1701 527h0M1743 568h0M1736 511h0M1708 541h0M1717 539h0M1699 555h0M1693 531h0M1718 521h0M1723 530h0M1727 529h0M1696 568h0M1687 566h0M1682 568h0M1688 551h0M1705 546h0M1738 542h0M1751 524h0M1734 509h0M1727 516h0M1681 521h0M1704 536h0M1712 537h0M1680 576h0M1691 509h0M1689 547h0M1676 562h0M1722 533h0M1690 510h0M1732 543h0M1746 476h0M1688 554h0M1696 547h0M1692 562h0M1751 544h0M1712 520h0M1753 568h0M1742 468h0M1692 569h0M1707 552h0M1733 562h0M1686 584h0M1713 583h0M1695 530h0M1718 515h0M1753 483h0M1704 531h0M1692 551h0M1687 513h0M1689 540h0M1710 564h0M1717 503h0M1714 498h0M1671 560h0M1677 527h0M1688 524h0M1743 521h0M1709 482h0M1733 519h0M1713 526h0M1701 576h0M1703 557h0M1736 543h0M1727 546h0M1682 567h0M1714 536h0M1712 541h0M1697 534h0M1702 508h0M1735 508h0M1672 555h0M1685 558h0M1722 510h0M1730 589h0M1691 542h0M1715 518h0M1693 533h0M1695 543h0M1713 531h0M1690 574h0M1724 519h0M1724 559h0M1685 501h0M1680 548h0M1725 527h0M1714 574h0M1683 526h0M1700 559h0M1691 545h0M1736 540h0M1704 523h0M1740 532h0M1695 560h0M1686 535h0M1690 509h0M1709 547h0M1719 541h0M1688 555h0M1701 572h0M1719 533h0M1676 509h0M1722 494h0M1723 527h0M1686 551h0M1689 530h0M1712 560h0M1683 547h0M1674 517h0M1692 498h0M1716 541h0M1691 501h0M1723 487h0M1717 528h0M1702 569h0M1683 523h0M1739 516h0M1680 495h0M1718 510h0M1704 576h0M1718 541h0M1743 496h0M1679 567h0M1735 567h0M1683 578h0M1724 539h0M1730 509h0M1702 509h0M1700 525h0M1693 522h0M1698 508h0M1736 563h0M1703 571h0M1704 604h0M1686 545h0M1694 564h0M1699 525h0M1687 556h0M1706 473h0M1758 561h0M1731 501h0M1680 540h0M1716 508h0M1730 496h0M1715 591h0M1678 513h0M1699 514h0M1710 541h0M1718 551h0M1687 548h0M1697 508h0M1685 513h0M1755 565h0M1679 594h0M1725 549h0M1714 524h0M1708 549h0M1714 506h0M1701 545h0M1746 534h0M1709 584h0M1717 588h0M1701 588h0M1765 570h0M1757 571h0M1756 518h0M1696 557h0M1711 503h0M1675 530h0M1675 552h0M1687 526h0M1720 535h0M1729 509h0M1674 496h0M1705 541h0M1701 556h0M1697 517h0M1670 513h0M1739 537h0M1685 534h0M1694 505h0M1708 539h0M1729 488h0M1678 574h0M1730 580h0M1678 587h0M1700 548h0M1696 558h0M1712 533h0M1704 539h0M1699 547h0M1714 532h0M1749 531h0M1703 532h0M1743 512h0M1705 545h0M1671 489h0M1737 542h0M1697 557h0M1690 568h0M1723 522h0M1675 541h0M1714 535h0M1698 549h0M1731 580h0M1753 516h0M1676 594h0M1691 532h0M1739 519h0M1697 535h0M1724 531h0M1691 527h0M1736 508h0M1697 548h0M1704 554h0M1706 507h0M1772 504h0M1708 552h0M1728 572h0M1717 513h0M1682 546h0M1719 523h0M1749 545h0M1723 548h0M1678 558h0M1696 551h0M1702 561h0M1697 524h0M1716 468h0M1703 537h0M1724 546h0M1720 525h0M1708 556h0M1691 531h0M1678 562h0M1711 535h0M1724 557h0M1694 533h0M1713 481h0M1724 537h0M1736 508h0M1737 535h0M1677 559h0M1697 550h0M1719 517h0M1731 559h0M1722 540h0M1710 528h0M1701 550h0M1735 553h0M1710 512h0M1740 580h0M1695 551h0M1721 533h0M1728 488h0M1702 528h0M1688 525h0M1716 532h0M1726 553h0M1690 557h0M1725 481h0M1725 527h0M1715 533h0M1691 512h0M1700 537h0M1701 525h0M1680 535h0M1715 549h0M1705 567h0M1705 522h0M1686 535h0M1678 541h0M1710 529h0M1692 545h0M1687 537h0M1711 572h0M1709 559h0M1695 512h0M1720 571h0M1683 519h0M1734 572h0M1698 533h0M1741 520h0M1671 508h0M1699 557h0M1695 567h0M1693 505h0M1693 485h0M1703 523h0M1724 498h0M1730 548h0M1718 544h0M1708 553h0M1688 448h0M1730 523h0M1705 544h0M1688 571h0M1733 529h0M1719 512h0M1690 501h0M1728 523h0M1678 507h0M1681 545h0M1734 541h0M1694 552h0M1721 522h0M1705 548h0M1749 562h0M1700 528h0M1708 546h0M1754 522h0M1681 511h0M1717 571h0M1713 547h0M1691 545h0M1691 570h0M1689 493h0M1723 544h0M1674 505h0M1692 540h0M1734 537h0M1674 516h0M1710 527h0M1677 543h0M1711 534h0M1714 574h0M1694 538h0M1718 523h0M1683 553h0M1704 548h0M1698 558h0M1709 548h0M1693 566h0M1672 524h0M1694 571h0M1739 496h0M1694 492h0M1722 501h0M1709 531h0M1706 539h0M1674 527h0M1695 573h0M1711 510h0M1736 576h0M1725 531h0M1705 539h0M1688 517h0M1674 553h0M1706 539h0M1726 512h0M1703 517h0M1699 557h0M1713 601h0M1692 540h0M1681 538h0M1682 537h0M1689 552h0M1699 498h0M1719 539h0M1689 508h0M1717 516h0M1720 521h0M1723 568h0M1681 558h0M1683 543h0M1673 526h0M1755 503h0M1676 526h0M1673 570h0M1711 555h0M1672 586h0M1683 570h0M1743 479h0M1694 557h0M1744 531h0M1699 524h0M1742 495h0M1672 509h0M1699 571h0M1682 536h0M1711 562h0M1702 559h0M1719 524h0M1739 520h0M1710 552h0M1719 552h0M1731 535h0M1712 520h0M1718 512h0M1701 543h0M1683 553h0M1693 551h0M1693 549h0M1690 518h0M1682 506h0M1697 486h0M1699 542h0M1722 577h0M1687 555h0M1693 536h0M1717 564h0M1760 512h0M1702 460h0M1720 515h0M1704 525h0M1731 540h0M1726 566h0M1676 474h0M1672 559h0M1705 532h0M1718 534h0M1689 543h0M1698 535h0M1715 556h0M1681 530h0M1769 528h0M1714 530h0M1726 550h0M1700 561h0M1704 517h0M1740 529h0M1736 504h0M1802 617h0M1720 608h0M1706 666h0M1682 641h0M1761 649h0M1721 691h0M1777 624h0M1727 599h0M1687 654h0M1736 624h0M1698 660h0M1767 651h0M1733 704h0M1787 679h0M1714 572h0M1701 586h0M1756 714h0M1834 618h0M1804 634h0M1723 672h0M1751 693h0M1780 693h0M1813 538h0M1695 693h0M1765 629h0M1717 711h0M1738 638h0M1727 660h0M1777 667h0M1739 669h0M1782 637h0M1749 633h0M1716 665h0M1686 652h0M1718 638h0M1748 632h0M1719 637h0M1731 674h0M1761 607h0M1731 688h0M1751 625h0M1760 677h0M1670 697h0M1761 652h0M1786 665h0M1714 664h0M1729 695h0M1752 580h0M1760 603h0M1743 643h0M1739 612h0M1781 653h0M1745 706h0M1770 636h0M1718 669h0M1738 650h0M1692 681h0M1747 623h0M1783 610h0M1706 642h0M1732 657h0M1703 641h0M1726 683h0M1730 621h0M1786 665h0M1734 670h0M1696 659h0M1762 614h0M1710 677h0M1741 617h0M1770 599h0M1712 662h0M1726 662h0M1707 630h0M1735 658h0M1722 702h0M1755 667h0M1719 637h0M1706 691h0M1717 665h0M1807 647h0M1750 617h0M1729 699h0M1759 655h0M1735 651h0M1720 693h0M1753 600h0M1711 697h0M1759 585h0M1757 602h0M1772 658h0M1695 684h0M1757 633h0M1739 687h0M1764 644h0M1744 615h0M1739 623h0M1717 665h0M1744 672h0M1740 683h0M1779 656h0M1746 589h0M1761 606h0M1716 644h0M1723 660h0M1707 669h0M1689 674h0M1740 621h0M1824 587h0M1783 640h0M1734 685h0M1741 615h0M1733 603h0M1772 646h0M1735 546h0M1756 582h0M1755 603h0M1807 611h0M1693 662h0M1762 672h0M1735 676h0M1718 650h0M1673 644h0M1728 622h0M1741 641h0M1703 664h0M1755 608h0M1727 625h0M1748 593h0M1762 655h0M1743 689h0M1717 703h0M1808 600h0M1698 645h0M1708 628h0M1697 657h0M1765 575h0M1732 652h0M1713 682h0M1735 681h0M1767 612h0M1730 667h0M1759 565h0M1747 629h0M1727 674h0M1749 654h0M1732 660h0M1710 702h0M1805 592h0M1767 626h0M1766 620h0M1782 650h0M1714 641h0M1754 677h0M1696 653h0M1772 647h0M1735 623h0M1782 685h0M1761 609h0M1724 601h0M1716 595h0M1738 658h0M1772 608h0M1742 684h0M1768 648h0M1751 634h0M1771 668h0M1728 603h0M1749 630h0M1704 632h0M1724 648h0M1736 617h0M1772 605h0M1769 606h0M1748 608h0M1760 634h0M1761 611h0M1767 631h0M1737 659h0M1772 663h0M1753 627h0M1754 619h0M1793 593h0M1751 643h0M1719 686h0M1707 637h0M1708 623h0M1740 627h0M1750 654h0M1748 620h0M1710 613h0M1747 649h0M1751 609h0M1735 650h0M1719 607h0M1749 649h0M1703 640h0M1728 710h0M1717 674h0M1729 641h0M1725 663h0M1774 602h0M1738 640h0M1742 655h0M1754 617h0M1687 675h0M1687 684h0M1694 673h0M1742 604h0M1785 607h0M1748 604h0M1776 563h0M1713 665h0M1727 648h0M1737 700h0M1741 645h0M1771 632h0M1738 664h0M1704 688h0M1727 673h0M1740 671h0M1669 634h0M1752 656h0M1766 649h0M1785 608h0M1712 707h0M1703 682h0M1800 594h0M1731 652h0M1729 664h0M1725 666h0M1751 670h0M1729 619h0M1758 669h0M1770 616h0M1671 651h0M1712 643h0M1745 607h0M1790 640h0M1692 664h0M1736 569h0M1751 632h0M1736 631h0M1743 671h0M1763 631h0M1721 648h0M1755 654h0M1690 689h0M1766 667h0M1766 611h0M1745 678h0M1761 637h0M1760 704h0M1724 571h0M1780 596h0M1709 665h0M1782 638h0M1745 657h0M1695 687h0M1754 640h0M1761 671h0M1782 661h0M1766 657h0M1806 648h0M1715 652h0M1698 633h0M1744 600h0M1707 668h0M1751 679h0M1777 692h0M1715 711h0M1768 629h0M1707 671h0M1687 695h0M1758 668h0M1732 609h0M1763 624h0M1745 654h0M1754 614h0M1738 698h0M1787 610h0M1731 620h0M1747 620h0M1718 696h0M1758 625h0M1735 685h0M1769 572h0M1711 644h0M1752 600h0M1753 651h0M1799 594h0M1797 585h0M1761 597h0M1789 586h0M1732 694h0M1768 590h0M1738 691h0M1709 704h0M1780 653h0M1733 632h0M1741 677h0M1726 677h0M1704 664h0M1741 696h0M1727 674h0M1778 609h0M1711 609h0M1753 631h0M1755 663h0M1715 669h0M1774 650h0M1769 610h0M1734 629h0M1728 681h0M1762 637h0M1820 634h0M1723 695h0M1756 636h0M1772 653h0M1713 586h0M1710 638h0M1727 633h0M1783 623h0M1705 688h0M1740 607h0M1759 650h0M1792 635h0M1777 587h0M1734 632h0M1689 673h0M1720 708h0M1778 565h0M1716 657h0M1745 642h0M1755 638h0M1692 572h0M1735 657h0M1707 652h0M1705 631h0M1774 580h0M1748 685h0M1725 663h0M1760 571h0M1772 622h0M1725 681h0M1732 664h0M1710 656h0M1775 659h0M1717 653h0M1719 635h0M1760 643h0M1698 666h0M1751 622h0M1828 622h0M1748 656h0M1682 623h0M1749 614h0M1771 613h0M1756 623h0M1730 647h0M1715 700h0M1805 657h0M1745 695h0M1752 659h0M1773 602h0M1704 620h0M1707 715h0M1783 665h0M1741 646h0M1778 584h0M1699 626h0M1788 629h0M1699 625h0M1712 675h0M1727 646h0M1710 680h0M1680 631h0M1800 606h0M1741 679h0M1759 670h0M1768 616h0M1742 657h0M1781 651h0M1736 684h0M1788 665h0M1773 697h0M1704 647h0M1748 668h0M1800 588h0M1750 679h0M1795 559h0M1735 698h0M1710 709h0M1707 648h0M1752 649h0M1769 667h0M1736 631h0M1790 675h0M1740 609h0M1745 597h0M1779 609h0M1790 624h0M1732 671h0M1771 670h0M1697 692h0M1739 639h0M1798 608h0M1707 648h0M1708 616h0M1737 648h0M1737 601h0M1742 670h0M1757 702h0M1777 582h0M1727 693h0M1729 600h0M1783 571h0M1772 623h0M1691 640h0M1734 619h0M1707 640h0M1715 706h0M1763 627h0M1745 616h0M1736 646h0M1701 713h0M1744 614h0M1774 685h0M1749 684h0M1749 643h0M1780 637h0M1724 601h0M1773 632h0M1762 584h0M1759 627h0M1770 597h0M1718 656h0M1807 672h0M1694 612h0M1794 671h0M1765 635h0M1713 699h0M1706 600h0M1671 642h0M1716 676h0M1749 592h0M1768 647h0M1686 654h0M1733 637h0M1699 634h0M1814 666h0M1701 653h0M1686 619h0M1735 661h0M1748 664h0M1688 693h0M1687 672h0M1726 630h0M1762 658h0M1733 607h0M1699 676h0M1784 612h0M1750 637h0M1705 665h0M1760 635h0M1761 647h0M1722 690h0M1715 628h0M1707 708h0M1734 675h0M1697 591h0M1719 672h0M1747 653h0M1712 597h0M1742 700h0M1762 631h0M1749 667h0M1686 647h0M1742 599h0M1722 677h0M1746 632h0M1759 574h0M1731 608h0M1778 681h0M1712 646h0M1704 646h0M1766 642h0M1691 667h0M1823 599h0M1760 681h0M1708 641h0M1730 661h0M1744 670h0M1725 652h0M1725 608h0M1728 638h0M1754 631h0M1794 658h0M1739 658h0M1710 677h0M1721 581h0M1724 630h0M1712 594h0M1776 586h0M1775 583h0M1743 665h0M1671 635h0M1774 613h0M1685 684h0M1708 628h0M1741 671h0M1742 695h0M1737 654h0M1680 672h0M1743 618h0M1741 635h0M1706 646h0M1735 703h0M1747 608h0M1734 692h0M1776 646h0M1765 634h0M1743 638h0M1710 615h0M1765 643h0M1710 683h0M1787 607h0M1755 631h0M1709 591h0M1691 698h0M1787 661h0M1805 606h0M1709 600h0M1753 609h0M1698 621h0M1782 640h0M1770 685h0M1726 638h0M1709 655h0M1697 700h0M1756 656h0M1752 635h0M1770 671h0M1784 607h0M1750 666h0M1743 601h0M1757 621h0M1734 587h0M1711 630h0M1677 649h0M1709 687h0M1794 612h0M1763 647h0M1781 645h0M1729 633h0M1704 684h0M1731 637h0M1749 658h0M1735 661h0M1712 602h0M1748 603h0M1747 629h0M1698 668h0M1752 665h0M1789 667h0M1798 654h0M1743 697h0M1745 624h0M1781 652h0M1690 669h0M1729 628h0M1784 628h0M1759 566h0M1789 646h0M1752 664h0M1734 632h0M1774 605h0M1740 556h0M1737 631h0M1692 630h0M1684 685h0M1742 628h0M1709 658h0M1784 681h0M1739 602h0M1752 668h0M1709 588h0M1778 668h0M1712 644h0M1758 676h0M1738 704h0M1721 675h0M1781 578h0M1698 654h0M1728 625h0M1716 590h0M1701 624h0M1766 593h0M1745 642h0M1767 648h0M1742 674h0M1751 626h0M1668 616h0M1691 689h0M1689 674h0M1718 618h0M1746 590h0M1721 689h0M1742 640h0M1713 684h0M1718 616h0M1712 695h0M1768 579h0M1744 629h0M1722 630h0M1712 603h0M1727 655h0M1747 625h0M1760 661h0M1743 613h0M1804 613h0M1736 636h0M1761 672h0M1692 653h0M1710 657h0M1763 640h0M1805 638h0M1730 673h0M1692 658h0M1732 645h0M1718 657h0M1745 674h0M1726 678h0M1781 624h0M1734 593h0M1712 680h0M1738 674h0M1751 654h0M1780 705h0M1735 622h0M1705 686h0M1711 699h0M1738 634h0M1727 616h0M1683 685h0M1708 651h0M1701 609h0M1752 632h0M1697 647h0M1758 650h0M1789 658h0M1751 619h0M1722 613h0M1791 656h0M1756 664h0M1731 686h0M1746 609h0M1767 589h0M1745 690h0M1768 655h0M1753 668h0M1675 692h0M1764 584h0M1772 603h0M1737 592h0M1703 634h0M1712 640h0M1710 679h0M1719 677h0M1745 614h0M1796 689h0M1758 689h0M1718 577h0M1735 678h0M1705 662h0M1787 648h0M1758 620h0M1740 684h0M1778 638h0M1735 678h0M1690 650h0M1717 635h0M1707 647h0M1743 676h0M1815 628h0M1768 608h0M1714 664h0M1723 628h0M1761 693h0M1705 667h0M1708 665h0M1789 641h0M1746 660h0M1686 678h0M1777 621h0M1707 626h0M1742 625h0M1738 657h0M1742 693h0M1745 666h0M1727 642h0M1708 673h0M1736 691h0M1772 615h0M1783 613h0M1714 649h0M1739 591h0M1725 636h0M1706 676h0M1690 652h0M1717 645h0M1722 622h0M1678 670h0M1712 656h0M1755 661h0M1793 649h0M1757 682h0M1729 585h0M1750 634h0M1770 674h0M1723 613h0M1768 616h0M1755 650h0M1741 657h0M1759 619h0M1742 700h0M1757 578h0M1738 655h0M1694 652h0M1737 605h0M1805 671h0M1774 630h0M1724 616h0M1717 588h0M1728 659h0M1735 689h0M1735 657h0M1757 652h0M1725 661h0M1793 596h0M1701 645h0M1731 639h0M1783 619h0M1758 657h0M1779 644h0M1723 649h0M1680 659h0M1763 661h0M1750 673h0M1739 604h0M1754 612h0M1793 614h0M1772 611h0M1734 715h0M1721 652h0M1697 615h0M1786 636h0M1749 660h0M1708 609h0M1712 684h0M1711 649h0M1777 670h0M1724 653h0M1716 665h0M1756 606h0M1759 652h0M1820 606h0M1701 701h0M1749 615h0M1724 651h0M1747 677h0M1722 634h0M1720 673h0M1740 651h0M1716 666h0M1745 683h0M1773 649h0M1737 712h0M1736 633h0M1755 661h0M1721 633h0M1736 610h0M1757 607h0M1732 603h0M1703 646h0M1727 671h0M1743 689h0M1710 679h0M1765 672h0M1744 691h0M1723 635h0M1754 603h0M1759 698h0M1765 617h0M1774 601h0M1704 654h0M1718 714h0M1728 654h0M1799 629h0M1759 623h0M1751 653h0M1689 664h0M1705 607h0M1764 636h0M1788 638h0M1757 658h0M1769 620h0M1733 629h0M1805 650h0M1761 636h0M1671 659h0M1803 651h0M1749 674h0M1738 621h0M1759 655h0M1689 653h0M1720 630h0M1719 618h0M1707 701h0M1742 641h0M1771 595h0M1718 637h0M1743 685h0M1738 593h0M1772 607h0M1764 579h0M1730 712h0M1738 638h0M1791 598h0M1717 658h0M1739 624h0M1710 615h0M1752 640h0M1767 666h0M1796 643h0M1732 696h0M1714 689h0M1749 666h0M1770 656h0M1701 659h0M1750 597h0M1732 642h0M1741 636h0M1775 640h0M1725 687h0M1726 683h0M1715 660h0M1802 569h0M1737 635h0M1671 666h0M1733 708h0M1728 685h0M1695 572h0M1743 649h0M1756 713h0M1759 616h0M1796 604h0M1708 601h0M1741 645h0M1698 663h0M1722 693h0M1719 615h0M1706 651h0M1785 683h0M1750 661h0M1739 619h0M1720 646h0M1722 687h0M1693 631h0M1738 659h0M1751 595h0M1791 701h0M1722 639h0M1725 607h0M1789 621h0M1798 638h0M1740 656h0M1771 588h0M1709 670h0M1738 653h0M1765 628h0M1694 684h0M1750 619h0M1772 697h0M1726 647h0M1702 689h0M1713 651h0M1739 688h0M1737 657h0M1736 657h0M1719 641h0M1706 661h0M1751 587h0M1702 667h0M1756 666h0M1750 616h0M1774 668h0M1770 600h0M1788 678h0M1799 644h0M1734 599h0M1723 644h0M1737 666h0M1735 648h0M1752 675h0M1750 666h0M1753 618h0M1726 630h0M1753 592h0M1721 702h0M1761 654h0M1716 672h0M1735 636h0M1770 538h0M1732 673h0M1734 619h0M1723 605h0M1767 659h0M1721 682h0M1719 634h0M1729 655h0M1756 671h0M1739 676h0M1742 675h0M1756 585h0M1725 672h0M1711 675h0M1738 622h0M1769 630h0M1763 655h0M1716 618h0M1742 639h0M1746 634h0M1705 675h0M1762 676h0M1719 645h0M1716 621h0M1732 660h0M1682 640h0M1736 666h0M1774 596h0M1746 638h0M1734 674h0M1755 647h0M1721 647h0M1770 646h0M1737 660h0M1750 678h0M1755 683h0M1768 640h0M1815 586h0M1786 613h0M1736 597h0M1736 675h0M1728 673h0M1847 612h0M1685 611h0M1765 634h0M1706 602h0M1732 652h0M1750 640h0M1791 620h0M1702 699h0M1751 679h0M1699 632h0M1731 703h0M1747 553h0M1756 663h0M1717 635h0M1756 608h0M1715 561h0M1762 652h0M1728 654h0M1702 659h0M1788 643h0M1764 714h0M1739 688h0M1764 618h0M1765 654h0M1753 627h0M1813 613h0M1754 592h0M1801 614h0M1727 628h0M1725 611h0M1726 630h0M1756 647h0M1769 609h0M1695 647h0M1715 696h0M1763 673h0M1679 623h0M1712 636h0M1710 684h0M1744 616h0M1730 680h0M1713 623h0M1735 640h0M1717 691h0M1718 656h0M1774 628h0M1717 693h0M1802 642h0M1751 634h0M1744 658h0M1780 689h0M1768 682h0M1777 667h0M1767 674h0M1708 684h0M1725 685h0M1718 630h0M1700 635h0M1754 618h0M1792 646h0M1740 665h0M1724 643h0M1746 676h0M1724 653h0M1747 686h0M1752 666h0M1733 689h0M1747 626h0M1682 658h0M1743 527h0M1736 618h0M1751 700h0M1714 703h0M1721 649h0M1721 627h0M1739 620h0M1740 599h0M1746 622h0M1736 662h0M1755 701h0M1794 651h0M1761 623h0M1779 652h0M1709 665h0M1713 641h0M1734 636h0M1718 696h0M1734 678h0M1760 581h0M1755 698h0M1701 679h0M1685 664h0M1732 646h0M1762 675h0M1689 690h0M1803 638h0M1723 579h0M1797 582h0M1754 659h0M1698 680h0M1737 597h0M1742 636h0M1717 689h0M1716 677h0M1774 619h0M1755 639h0M1752 644h0M1674 700h0M1730 620h0M1711 684h0M1746 638h0M1747 575h0M1708 622h0M1747 636h0M1747 713h0M1708 614h0M1721 631h0M1719 652h0M1717 656h0M1741 642h0M1757 606h0M1747 646h0M1721 678h0M1732 697h0M1779 552h0M1770 613h0M1748 666h0M1698 657h0M1701 628h0M1718 605h0M1721 670h0M1729 684h0M1723 648h0M1684 682h0M1785 633h0M1702 617h0M1785 632h0M1699 683h0M1772 713h0M1767 641h0M1729 607h0M1760 657h0M1788 616h0M1773 636h0M1692 685h0M1681 652h0M1816 624h0M1761 677h0M1702 623h0M1799 666h0M1701 667h0M1696 636h0M1734 675h0M1722 670h0M1780 638h0M1719 663h0M1746 593h0M1771 695h0M1728 651h0M1693 666h0M1704 660h0M1717 699h0M1738 631h0M1719 706h0M1765 621h0M1728 698h0M1707 657h0M1780 657h0M1768 618h0M1779 646h0M1816 551h0M1746 627h0M1761 634h0M1768 610h0M1684 631h0M1706 626h0M1704 644h0M1696 708h0M1752 676h0M1792 663h0M1761 618h0M1737 626h0M1743 696h0M1692 702h0M1756 621h0M1739 625h0M1739 690h0M1719 588h0M1723 670h0M1703 633h0M1760 654h0M1758 540h0M1740 638h0M1746 667h0M1762 661h0M1738 696h0M1703 694h0M1770 708h0M1730 654h0M1787 681h0M1772 613h0M1788 662h0M1725 630h0M1786 568h0M1768 658h0M1686 641h0M1728 631h0M1775 645h0M1783 643h0M1727 623h0M1698 660h0M1737 590h0M1774 678h0M1702 636h0M1686 660h0M1692 641h0M1764 626h0M1710 653h0M1707 682h0M1755 594h0M1707 565h0M1694 679h0M1673 657h0M1754 647h0M1786 688h0M1762 657h0M1771 599h0M1710 585h0M1762 629h0M1787 618h0M1740 669h0M1703 626h0M1734 672h0M1682 632h0M1767 607h0M1734 606h0M1754 649h0M1732 597h0M1725 712h0M1731 557h0M1713 603h0M1727 634h0M1746 628h0M1748 631h0M1778 657h0M1707 714h0M1759 654h0M1732 587h0M1710 616h0M1763 657h0M1693 684h0M1720 634h0M1700 623h0M1727 650h0M1723 669h0M1724 688h0M1758 638h0M1767 676h0M1756 680h0M1707 630h0M1731 573h0M1772 572h0M1773 610h0M1711 569h0M1741 700h0M1733 615h0M1748 570h0M1750 669h0M1727 612h0M1683 662h0M1759 663h0M1732 608h0M1701 676h0M1722 631h0M1751 612h0M1692 612h0M1718 669h0M1738 635h0M1711 643h0M1731 626h0M1715 640h0M1762 682h0M1705 687h0M1719 656h0M1726 652h0M1681 706h0M1740 655h0M1695 580h0M1715 709h0M1736 683h0M1814 627h0M1690 655h0M1761 562h0M1764 692h0M1763 640h0M1743 608h0M1771 632h0M1761 641h0M1723 654h0M1717 589h0M1728 658h0M1753 604h0M1714 620h0M1813 630h0M1735 612h0M1711 685h0M1747 633h0M1707 683h0M1741 592h0M1785 628h0M1744 647h0M1736 695h0M1798 633h0M1715 703h0M1727 646h0M1790 645h0M1771 670h0M1771 633h0M1754 662h0M1805 626h0M1752 635h0M1717 681h0M1799 606h0M1712 651h0M1794 581h0M1753 633h0M1744 576h0M1759 626h0M1730 656h0M1739 641h0M1731 660h0M1732 625h0M1724 659h0M1750 658h0M1752 637h0M1804 641h0M1709 622h0M1730 641h0M1718 628h0M1727 595h0M1784 661h0M1728 647h0M1757 635h0M1703 639h0M1772 616h0M1726 661h0M1703 683h0M1768 625h0M1710 663h0M1785 597h0M1776 653h0M1758 645h0M1832 612h0M1776 604h0M1758 622h0M1683 682h0M1768 666h0M1762 627h0M1745 616h0M1757 666h0M1772 593h0M1733 604h0M1784 629h0M1754 649h0M1776 597h0M1792 649h0M1698 650h0M1722 663h0M1780 682h0M1737 605h0M1721 674h0M1696 664h0M1731 667h0M1713 690h0M1743 663h0M1782 602h0M1722 699h0M1733 687h0M1680 598h0M1765 601h0M1805 604h0M1709 659h0M1800 567h0M1770 674h0M1727 596h0M1740 656h0M1741 696h0M1794 610h0M1696 664h0M1700 621h0M1768 672h0M1711 616h0M1714 651h0M1695 647h0M1741 642h0M1690 692h0M1764 627h0M1702 657h0M1712 670h0M1736 668h0M1730 657h0M1737 671h0M1715 664h0M1756 556h0M1669 680h0M1735 631h0M1699 637h0M1755 609h0M1754 663h0M1773 637h0M1739 639h0M1725 642h0M1732 690h0M1727 693h0M1742 653h0M1782 594h0M1750 672h0M1746 645h0M1789 579h0M1734 645h0M1717 648h0M1702 696h0M1765 684h0M1733 626h0M1757 647h0M1730 603h0M1731 656h0M1766 597h0M1736 647h0M1708 644h0M1709 649h0M1710 651h0M1698 644h0M1732 570h0M1749 676h0M1704 632h0M1709 644h0M1728 637h0M1714 681h0M1741 682h0M1742 597h0M1740 697h0M1750 581h0M1684 632h0M1737 680h0M1761 644h0M1834 650h0M1735 699h0M1745 658h0M1688 643h0M1749 611h0M1789 653h0M1773 615h0M1749 647h0M1780 660h0M1700 680h0M1709 664h0M1813 671h0M1703 609h0M1711 683h0M1741 664h0M1745 661h0M1757 662h0M1800 652h0M1757 576h0M1712 629h0M1740 637h0M1774 622h0M1714 652h0M1699 684h0M1727 673h0M1742 624h0M1706 710h0M1776 611h0M1762 592h0M1712 650h0M1725 633h0M1757 605h0M1727 651h0M1727 690h0M1742 601h0M1739 709h0M1734 646h0M1694 652h0M1759 647h0M1698 696h0M1713 600h0M1712 602h0M1728 661h0M1722 674h0M1772 673h0M1767 662h0M1749 589h0M1779 650h0M1706 668h0M1683 620h0M1684 699h0M1678 699h0M1673 707h0M1682 617h0M1679 623h0M1682 683h0M1676 611h0M1676 657h0M1686 623h0M1677 694h0M1686 661h0M1686 623h0M1686 684h0M1684 710h0M1681 610h0M1675 638h0M1681 714h0M1683 645h0M1682 629h0M1673 663h0M1676 706h0M1675 683h0M1676 621h0M1683 674h0M1673 639h0M1680 627h0M1684 685h0M1675 698h0M1679 624h0M1677 610h0M1674 650h0M1675 647h0M1685 610h0M1685 611h0M1682 705h0M1685 642h0M1675 653h0M1678 609h0M1672 676h0M1678 623h0M1685 636h0M1685 664h0M1683 674h0M1682 662h0M1679 646h0M1685 630h0M1685 688h0M1683 619h0M1674 605h0M1677 635h0M1675 640h0M1682 703h0M1674 633h0M1684 660h0M1676 636h0M1679 701h0M1677 608h0M1675 670h0M1683 666h0M1674 690h0M1673 650h0M1686 702h0M1679 653h0M1686 615h0M1674 651h0M1683 682h0M1677 663h0M1673 674h0M1684 644h0M1682 626h0M1678 603h0M1681 687h0M1672 702h0M1681 699h0M1679 624h0M1678 673h0M1676 683h0M1677 605h0M1681 664h0M1684 698h0M1684 665h0M1681 616h0M1678 666h0M1676 673h0M1682 689h0M1678 694h0M1673 615h0M1679 672h0M1683 695h0" stroke="#000" stroke-opacity="0.3" stroke-width="3.6" stroke-linecap="square" fill="none"/><path transform="scale(.25)" d="M1709 615h0M1776 585h0M1786 595h0M1776 623h0M1741 559h0M1793 621h0M1692 590h0M1750 558h0M1702 624h0M1696 619h0M1737 623h0M1744 551h0M1743 611h0M1742 603h0M1732 521h0M1740 578h0M1758 541h0M1697 567h0M1686 670h0M1747 515h0M1779 533h0M1790 560h0M1682 588h0M1724 566h0M1765 629h0M1697 569h0M1689 586h0M1722 587h0M1740 592h0M1707 612h0M1757 641h0M1749 534h0M1765 552h0M1756 621h0M1736 595h0M1727 543h0M1683 581h0M1746 550h0M1726 579h0M1729 584h0M1709 632h0M1716 587h0M1755 560h0M1750 603h0M1693 550h0M1777 575h0M1741 609h0M1766 593h0M1737 555h0M1754 600h0M1730 581h0M1738 566h0M1704 590h0M1678 616h0M1688 629h0M1695 602h0M1770 613h0M1733 624h0M1714 553h0M1724 504h0M1769 570h0M1782 613h0M1722 606h0M1724 645h0M1745 598h0M1731 617h0M1741 575h0M1787 663h0M1756 631h0M1741 627h0M1783 568h0M1726 586h0M1729 612h0M1684 612h0M1788 610h0M1717 569h0M1718 658h0M1710 610h0M1735 600h0M1771 540h0M1748 630h0M1743 596h0M1701 524h0M1705 568h0M1728 618h0M1761 570h0M1758 551h0M1765 559h0M1739 579h0M1769 530h0M1711 547h0M1762 651h0M1721 577h0M1725 583h0M1766 622h0M1797 611h0M1683 627h0M1760 600h0M1757 585h0M1710 577h0M1767 579h0M1758 575h0M1761 567h0M1771 654h0M1700 646h0M1734 564h0M1693 595h0M1722 597h0M1777 623h0M1753 550h0M1711 670h0M1752 611h0M1746 625h0M1784 646h0M1698 510h0M1743 579h0M1706 592h0M1715 575h0M1708 529h0M1721 622h0M1705 551h0M1791 591h0M1675 575h0M1700 600h0M1734 647h0M1678 646h0M1725 613h0M1676 594h0M1706 598h0M1722 609h0M1797 540h0M1697 628h0M1758 599h0M1765 626h0M1742 603h0M1711 647h0M1726 602h0M1705 489h0M1693 656h0M1736 605h0M1746 600h0M1737 562h0M1741 644h0M1754 624h0M1731 558h0M1741 604h0M1704 621h0M1742 644h0M1778 516h0M1719 588h0M1761 575h0M1718 636h0M1735 550h0M1767 555h0M1746 622h0M1705 604h0M1751 574h0M1711 671h0M1705 631h0M1717 609h0M1730 585h0M1765 531h0M1682 592h0M1805 633h0M1721 565h0M1744 566h0M1679 612h0M1784 593h0M1725 608h0M1738 575h0M1772 659h0M1778 627h0M1749 584h0M1746 633h0M1709 605h0M1763 571h0M1746 567h0M1722 575h0M1671 595h0M1734 632h0M1738 560h0M1709 578h0M1738 690h0M1731 597h0M1707 634h0M1701 656h0M1708 565h0M1778 523h0M1729 675h0M1685 573h0M1761 532h0M1679 586h0M1759 545h0M1751 610h0M1715 605h0M1800 532h0M1869 620h0M1840 594h0M1758 578h0M1775 570h0M1684 540h0M1835 536h0M1825 514h0M1679 547h0M1777 555h0M1787 556h0M1774 579h0M1810 541h0M1775 573h0M1894 546h0M1873 597h0M1850 576h0M1832 555h0M1804 547h0M1733 636h0M1730 575h0M1825 525h0M1742 621h0M1759 592h0M1822 608h0M1716 499h0M1819 543h0M1851 598h0M1746 508h0M1753 606h0M1778 641h0M1826 611h0M1765 573h0M1810 573h0M1778 600h0M1787 635h0M1734 606h0M1783 575h0M1839 527h0M1767 571h0M1792 606h0M1770 607h0M1823 572h0M1749 553h0M1705 560h0M1672 567h0M1761 607h0M1751 524h0M1759 568h0M1801 579h0M1738 529h0M1752 551h0M1805 506h0M1836 568h0M1787 581h0M1741 509h0M1806 624h0M1787 552h0M1750 544h0M1703 596h0M1762 554h0M1769 535h0M1736 545h0M1815 597h0M1750 482h0M1762 609h0M1819 560h0M1781 561h0M1785 576h0M1839 595h0M1806 590h0M1772 484h0M1770 579h0M1798 594h0M1845 575h0M1864 575h0M1735 626h0M1751 564h0M1799 634h0M1837 554h0M1762 658h0M1753 631h0M1833 564h0M1846 554h0M1747 621h0M1805 547h0M1765 617h0M1746 503h0M1778 523h0M1763 592h0M1773 630h0M1775 586h0M1820 523h0M1800 522h0M1780 628h0M1788 607h0M1796 524h0M1799 569h0M1750 629h0M1755 536h0M1837 555h0M1763 613h0M1738 504h0M1770 525h0M1858 519h0M1813 566h0M1758 528h0M1751 579h0M1727 562h0M1773 587h0M1713 577h0M1828 526h0M1842 566h0M1782 627h0M1807 605h0M1860 564h0M1788 560h0M1752 533h0M1785 586h0M1803 561h0M1783 550h0M1810 491h0M1847 487h0M1682 521h0M1727 486h0M1792 584h0M1755 597h0M1738 499h0M1745 481h0M1811 492h0M1745 493h0M1814 553h0M1724 469h0M1779 590h0M1847 541h0M1810 541h0M1763 471h0M1850 541h0M1721 478h0M1816 494h0M1875 508h0M1692 574h0M1724 539h0M1730 483h0M1679 468h0M1796 587h0M1871 500h0M1763 587h0M1756 522h0M1706 491h0M1807 511h0M1876 532h0M1845 571h0M1803 568h0M1841 522h0M1699 589h0M1804 491h0M1870 581h0M1755 577h0M1720 517h0M1878 492h0M1681 504h0M1832 534h0M1826 532h0M1704 578h0M1823 580h0M1724 551h0M1703 551h0M1694 601h0M1804 490h0M1730 521h0M1784 559h0M1781 488h0M1854 482h0M1884 523h0M1884 545h0M1797 494h0M1680 522h0" stroke="#000" stroke-opacity="0.2" stroke-width="3.6" stroke-linecap="square" fill="none"/></g>
<polyline points="421.9,179.8 422.0,156.0 424.5,151.0 429.4,147.3 436.3,145.8 459.4,146.2 463.8,149.4 464.8,156.3 463.2,179.8" fill="none" stroke="#7a7a7a" stroke-width="0.9"/>
<rect x="408.1" y="110.7" width="72.8" height="69.1" fill="none" stroke="#808080" stroke-width="0.9" />
<line x1="407.6" y1="179.8" x2="407.6" y2="181.0" stroke="#999" stroke-width="0.6"/>
<line x1="414.8" y1="179.8" x2="414.8" y2="181.0" stroke="#999" stroke-width="0.6"/>
<line x1="422.0" y1="179.8" x2="422.0" y2="181.0" stroke="#999" stroke-width="0.6"/>
<line x1="429.2" y1="179.8" x2="429.2" y2="181.0" stroke="#999" stroke-width="0.6"/>
<line x1="436.4" y1="179.8" x2="436.4" y2="181.0" stroke="#999" stroke-width="0.6"/>
<line x1="443.6" y1="179.8" x2="443.6" y2="181.0" stroke="#999" stroke-width="0.6"/>
<line x1="450.8" y1="179.8" x2="450.8" y2="181.0" stroke="#999" stroke-width="0.6"/>
<line x1="458.0" y1="179.8" x2="458.0" y2="181.0" stroke="#999" stroke-width="0.6"/>
<line x1="465.2" y1="179.8" x2="465.2" y2="181.0" stroke="#999" stroke-width="0.6"/>
<line x1="472.4" y1="179.8" x2="472.4" y2="181.0" stroke="#999" stroke-width="0.6"/>
<line x1="479.6" y1="179.8" x2="479.6" y2="181.0" stroke="#999" stroke-width="0.6"/>
<text x="407.6" y="187.7" font-size="4.6" text-anchor="middle" font-weight="normal" fill="#6a6a6a" >0</text>
<text x="422.0" y="187.7" font-size="4.6" text-anchor="middle" font-weight="normal" fill="#6a6a6a" >200</text>
<text x="436.4" y="187.7" font-size="4.6" text-anchor="middle" font-weight="normal" fill="#6a6a6a" >400</text>
<text x="450.8" y="187.7" font-size="4.6" text-anchor="middle" font-weight="normal" fill="#6a6a6a" >600</text>
<text x="465.2" y="187.7" font-size="4.6" text-anchor="middle" font-weight="normal" fill="#6a6a6a" >800</text>
<text x="479.6" y="187.7" font-size="4.6" text-anchor="middle" font-weight="normal" fill="#6a6a6a" >1000</text>
<text x="402.1" y="178.5" font-size="4.4" text-anchor="middle" font-weight="normal" fill="#8a8a8a" >10<tspan font-size="3.6" dy="-2.0" fill="#555">0</tspan></text>
<line x1="408.1" y1="177.5" x2="409.4" y2="177.5" stroke="#555" stroke-width="0.9"/>
<text x="402.1" y="161.9" font-size="4.4" text-anchor="middle" font-weight="normal" fill="#8a8a8a" >10<tspan font-size="3.6" dy="-2.0" fill="#555">1</tspan></text>
<line x1="408.1" y1="160.9" x2="409.4" y2="160.9" stroke="#555" stroke-width="0.9"/>
<text x="402.1" y="145.3" font-size="4.4" text-anchor="middle" font-weight="normal" fill="#8a8a8a" >10<tspan font-size="3.6" dy="-2.0" fill="#555">2</tspan></text>
<line x1="408.1" y1="144.3" x2="409.4" y2="144.3" stroke="#555" stroke-width="0.9"/>
<text x="402.1" y="128.7" font-size="4.4" text-anchor="middle" font-weight="normal" fill="#8a8a8a" >10<tspan font-size="3.6" dy="-2.0" fill="#555">3</tspan></text>
<line x1="408.1" y1="127.7" x2="409.4" y2="127.7" stroke="#555" stroke-width="0.9"/>
<text x="402.1" y="112.1" font-size="4.4" text-anchor="middle" font-weight="normal" fill="#8a8a8a" >10<tspan font-size="3.6" dy="-2.0" fill="#555">4</tspan></text>
<line x1="408.1" y1="111.1" x2="409.4" y2="111.1" stroke="#555" stroke-width="0.9"/>
<text x="477.4" y="120.9" font-size="8.2" text-anchor="end" font-weight="bold" fill="#000" >72%</text>
<line x1="300.6" y1="28.5" x2="300.6" y2="148.7" stroke="#8a8a8a" stroke-width="1.4"/>
<polyline points="298.5,30.3 300.6,27.0 302.7,30.3" fill="none" stroke="#000" stroke-width="1.4" stroke-linejoin="miter"/>
<text transform="translate(304.20,0) rotate(-90)" x="-179.69" y="0" font-size="9.4" font-weight="bold" fill="#000" textLength="24.98" lengthAdjust="spacingAndGlyphs">7AAD</text>
<text x="318.99" y="197.50" font-size="9.4" font-weight="bold" fill="#000" textLength="18.16" lengthAdjust="spacingAndGlyphs">FSC</text>
<line x1="343.8" y1="194.0" x2="482.5" y2="194.0" stroke="#8a8a8a" stroke-width="1.4"/>
<path d="M484.4 194.0L480.0 191.4L481.3 194.0L480.0 196.6Z" fill="#000" stroke="#000" stroke-width="0.6"/>
<text x="482.8" y="55.3" font-size="9.2" text-anchor="start" font-weight="bold" fill="#000" >CD5<tspan font-size="5.5" dy="-3.5">+</tspan></text>
<text x="482.8" y="66.3" font-size="9.2" text-anchor="start" font-weight="bold" fill="#000" >Daudi</text>
<text x="482.8" y="77.3" font-size="9.2" text-anchor="start" font-weight="bold" fill="#000" >Vector</text>
<text x="483.3" y="134.8" font-size="9.2" text-anchor="start" font-weight="bold" fill="#000" >CD5<tspan font-size="5.5" dy="-3.5">+</tspan></text>
<text x="483.3" y="145.8" font-size="9.2" text-anchor="start" font-weight="bold" fill="#000" >Daudi</text>
<text x="483.3" y="156.8" font-size="9.2" text-anchor="start" font-weight="bold" fill="#000" >PPARα<tspan font-size="5.5" dy="-3.5">hi</tspan></text>
<text x="2.0" y="238.5" font-size="14" text-anchor="start" font-weight="bold" fill="#000" >C</text>
<line x1="62.5" y1="236.4" x2="62.5" y2="350.8" stroke="#8c8c8c" stroke-width="1.0"/>
<line x1="62.5" y1="347.8" x2="260.7" y2="347.8" stroke="#8c8c8c" stroke-width="1.0"/>
<line x1="59.5" y1="347.8" x2="62.5" y2="347.8" stroke="#8c8c8c" stroke-width="0.9"/>
<text x="48.88" y="351.10" font-size="10.8" font-weight="bold" fill="#000" textLength="5.53" lengthAdjust="spacingAndGlyphs">0</text>
<line x1="59.5" y1="325.6" x2="62.5" y2="325.6" stroke="#8c8c8c" stroke-width="0.9"/>
<text x="43.36" y="328.88" font-size="10.8" font-weight="bold" fill="#000" textLength="11.05" lengthAdjust="spacingAndGlyphs">10</text>
<line x1="59.5" y1="303.4" x2="62.5" y2="303.4" stroke="#8c8c8c" stroke-width="0.9"/>
<text x="43.36" y="306.66" font-size="10.8" font-weight="bold" fill="#000" textLength="11.05" lengthAdjust="spacingAndGlyphs">20</text>
<line x1="59.5" y1="281.1" x2="62.5" y2="281.1" stroke="#8c8c8c" stroke-width="0.9"/>
<text x="43.36" y="284.44" font-size="10.8" font-weight="bold" fill="#000" textLength="11.05" lengthAdjust="spacingAndGlyphs">30</text>
<line x1="59.5" y1="258.9" x2="62.5" y2="258.9" stroke="#8c8c8c" stroke-width="0.9"/>
<text x="43.36" y="262.22" font-size="10.8" font-weight="bold" fill="#000" textLength="11.05" lengthAdjust="spacingAndGlyphs">40</text>
<line x1="59.5" y1="236.7" x2="62.5" y2="236.7" stroke="#8c8c8c" stroke-width="0.9"/>
<text x="43.36" y="240.00" font-size="10.8" font-weight="bold" fill="#000" textLength="11.05" lengthAdjust="spacingAndGlyphs">50</text>
<line x1="160.8" y1="347.8" x2="160.8" y2="350.3" stroke="#8c8c8c" stroke-width="0.9"/>
<line x1="260.2" y1="347.8" x2="260.2" y2="350.3" stroke="#8c8c8c" stroke-width="0.9"/>
<rect x="111.6" y="293.0" width="28.8" height="54.8" fill="#000" stroke="none" stroke-width="1" />
<rect x="181.2" y="329.4" width="28.9" height="18.4" fill="#fff" stroke="#000" stroke-width="1.0" />
<rect x="210.1" y="260.9" width="28.6" height="86.9" fill="#000" stroke="none" stroke-width="1" />
<line x1="96.5" y1="347.4" x2="101.5" y2="347.4" stroke="#000" stroke-width="0.8"/>
<line x1="126.0" y1="284.6" x2="126.0" y2="293.5" stroke="#000" stroke-width="1.1"/>
<line x1="123.6" y1="284.6" x2="128.4" y2="284.6" stroke="#000" stroke-width="1.1"/>
<line x1="224.3" y1="248.4" x2="224.3" y2="261.5" stroke="#000" stroke-width="1.1"/>
<line x1="221.9" y1="248.4" x2="226.7" y2="248.4" stroke="#000" stroke-width="1.1"/>
<line x1="195.6" y1="326.0" x2="195.6" y2="333.8" stroke="#000" stroke-width="1.0"/>
<line x1="193.4" y1="326.0" x2="197.8" y2="326.0" stroke="#000" stroke-width="1.0"/>
<line x1="193.4" y1="333.8" x2="197.8" y2="333.8" stroke="#000" stroke-width="1.0"/>
<rect x="74.5" y="246.6" width="45.1" height="39.6" fill="#fff" stroke="#a0a0a0" stroke-width="0.9" />
<rect x="81.1" y="254.6" width="4.8" height="4.6" fill="#fff" stroke="#111" stroke-width="1.1" />
<text x="87.91" y="259.60" font-size="8.8" font-weight="bold" fill="#000" textLength="23.57" lengthAdjust="spacingAndGlyphs">-DEX</text>
<rect x="80.7" y="273.4" width="5.5" height="5.7" fill="#000" stroke="none" stroke-width="1" />
<text x="87.48" y="279.10" font-size="8.8" font-weight="bold" fill="#000" textLength="26.71" lengthAdjust="spacingAndGlyphs">+DEX</text>
<line x1="113.2" y1="237.8" x2="237.9" y2="237.8" stroke="#000" stroke-width="1.7"/>
<path d="M110.2 237.8 L115.8 234.9 L115.8 240.7Z" fill="#000"/>
<path d="M240.9 237.8 L235.3 234.9 L235.3 240.7Z" fill="#000"/>
<text x="172.6" y="239.8" font-size="11.5" text-anchor="middle" font-weight="bold" fill="#000" >*</text>
<text x="156.39" y="250.60" font-size="9.6" font-weight="bold" fill="#000" textLength="30.32" lengthAdjust="spacingAndGlyphs">(n = 8)</text>
<text x="109.24" y="362.30" font-size="9.4" font-weight="bold" fill="#000" textLength="5.23" lengthAdjust="spacingAndGlyphs">0</text>
<text x="207.63" y="362.30" font-size="9.4" font-weight="bold" fill="#000" textLength="5.23" lengthAdjust="spacingAndGlyphs">6</text>
<text x="131.10" y="382.30" font-size="12.0" font-weight="bold" fill="#000" textLength="67.40" lengthAdjust="spacingAndGlyphs">MK886 (μM)</text>
<text transform="translate(36.90,0) rotate(-90)" x="-349.84" y="0" font-size="10.0" font-weight="bold" fill="#000" textLength="124.73" lengthAdjust="spacingAndGlyphs">Average specific death (%)</text>
<line x1="293.5" y1="241.8" x2="293.5" y2="349.8" stroke="#8c8c8c" stroke-width="1.0"/>
<line x1="293.5" y1="346.8" x2="499.3" y2="346.8" stroke="#8c8c8c" stroke-width="1.0"/>
<line x1="290.5" y1="346.8" x2="293.5" y2="346.8" stroke="#8c8c8c" stroke-width="0.9"/>
<text x="279.34" y="350.10" font-size="10.4" font-weight="bold" fill="#000" textLength="5.78" lengthAdjust="spacingAndGlyphs">0</text>
<line x1="290.5" y1="320.6" x2="293.5" y2="320.6" stroke="#8c8c8c" stroke-width="0.9"/>
<text x="273.56" y="323.89" font-size="10.4" font-weight="bold" fill="#000" textLength="11.57" lengthAdjust="spacingAndGlyphs">20</text>
<line x1="290.5" y1="294.4" x2="293.5" y2="294.4" stroke="#8c8c8c" stroke-width="0.9"/>
<text x="273.56" y="297.68" font-size="10.4" font-weight="bold" fill="#000" textLength="11.57" lengthAdjust="spacingAndGlyphs">40</text>
<line x1="290.5" y1="268.2" x2="293.5" y2="268.2" stroke="#8c8c8c" stroke-width="0.9"/>
<text x="273.56" y="271.47" font-size="10.4" font-weight="bold" fill="#000" textLength="11.57" lengthAdjust="spacingAndGlyphs">60</text>
<line x1="290.5" y1="242.0" x2="293.5" y2="242.0" stroke="#8c8c8c" stroke-width="0.9"/>
<text x="273.56" y="245.26" font-size="10.4" font-weight="bold" fill="#000" textLength="11.57" lengthAdjust="spacingAndGlyphs">80</text>
<line x1="327.2" y1="346.8" x2="327.2" y2="349.3" stroke="#8c8c8c" stroke-width="0.9"/>
<line x1="361.4" y1="346.8" x2="361.4" y2="349.3" stroke="#8c8c8c" stroke-width="0.9"/>
<line x1="395.6" y1="346.8" x2="395.6" y2="349.3" stroke="#8c8c8c" stroke-width="0.9"/>
<line x1="429.7" y1="346.8" x2="429.7" y2="349.3" stroke="#8c8c8c" stroke-width="0.9"/>
<line x1="463.9" y1="346.8" x2="463.9" y2="349.3" stroke="#8c8c8c" stroke-width="0.9"/>
<line x1="498.1" y1="346.8" x2="498.1" y2="349.3" stroke="#8c8c8c" stroke-width="0.9"/>
<line x1="303.1" y1="346.4" x2="307.1" y2="346.4" stroke="#000" stroke-width="0.8"/>
<rect x="310.1" y="311.8" width="10.3" height="35.0" fill="#000" stroke="none" stroke-width="1" />
<line x1="315.2" y1="307.9" x2="315.2" y2="312.8" stroke="#000" stroke-width="1.1"/>
<line x1="312.9" y1="307.9" x2="317.6" y2="307.9" stroke="#000" stroke-width="1.1"/>
<text x="307.56" y="361.50" font-size="9.4" font-weight="bold" fill="#000" textLength="5.49" lengthAdjust="spacingAndGlyphs">0</text>
<rect x="334.0" y="342.1" width="10.3" height="4.7" fill="#fff" stroke="#000" stroke-width="1.0" />
<line x1="339.1" y1="341.5" x2="339.1" y2="344.0" stroke="#000" stroke-width="1.0"/>
<line x1="337.1" y1="341.5" x2="341.1" y2="341.5" stroke="#000" stroke-width="1.0"/>
<line x1="337.1" y1="344.0" x2="341.1" y2="344.0" stroke="#000" stroke-width="1.0"/>
<rect x="344.3" y="288.1" width="10.3" height="58.7" fill="#000" stroke="none" stroke-width="1" />
<line x1="349.4" y1="284.2" x2="349.4" y2="289.1" stroke="#000" stroke-width="1.1"/>
<line x1="347.1" y1="284.2" x2="351.7" y2="284.2" stroke="#000" stroke-width="1.1"/>
<text x="337.62" y="361.50" font-size="9.4" font-weight="bold" fill="#000" textLength="13.72" lengthAdjust="spacingAndGlyphs">0.2</text>
<rect x="368.2" y="342.3" width="10.3" height="4.5" fill="#fff" stroke="#000" stroke-width="1.0" />
<line x1="373.3" y1="341.0" x2="373.3" y2="344.0" stroke="#000" stroke-width="1.0"/>
<line x1="371.3" y1="341.0" x2="375.3" y2="341.0" stroke="#000" stroke-width="1.0"/>
<line x1="371.3" y1="344.0" x2="375.3" y2="344.0" stroke="#000" stroke-width="1.0"/>
<rect x="378.5" y="288.0" width="10.3" height="58.8" fill="#000" stroke="none" stroke-width="1" />
<line x1="383.6" y1="282.5" x2="383.6" y2="289.0" stroke="#000" stroke-width="1.1"/>
<line x1="381.3" y1="282.5" x2="385.9" y2="282.5" stroke="#000" stroke-width="1.1"/>
<text x="371.78" y="361.50" font-size="9.4" font-weight="bold" fill="#000" textLength="13.72" lengthAdjust="spacingAndGlyphs">0.6</text>
<rect x="402.3" y="340.0" width="10.3" height="6.8" fill="#fff" stroke="#000" stroke-width="1.0" />
<line x1="407.5" y1="339.5" x2="407.5" y2="340.8" stroke="#000" stroke-width="1.0"/>
<line x1="405.5" y1="339.5" x2="409.5" y2="339.5" stroke="#000" stroke-width="1.0"/>
<line x1="405.5" y1="340.8" x2="409.5" y2="340.8" stroke="#000" stroke-width="1.0"/>
<rect x="412.6" y="282.1" width="10.3" height="64.7" fill="#000" stroke="none" stroke-width="1" />
<line x1="417.8" y1="275.8" x2="417.8" y2="283.1" stroke="#000" stroke-width="1.1"/>
<line x1="415.5" y1="275.8" x2="420.1" y2="275.8" stroke="#000" stroke-width="1.1"/>
<text x="410.12" y="361.50" font-size="9.4" font-weight="bold" fill="#000" textLength="5.49" lengthAdjust="spacingAndGlyphs">2</text>
<rect x="436.5" y="334.5" width="10.3" height="12.3" fill="#fff" stroke="#000" stroke-width="1.0" />
<line x1="441.7" y1="330.2" x2="441.7" y2="337.7" stroke="#000" stroke-width="1.0"/>
<line x1="439.7" y1="330.2" x2="443.7" y2="330.2" stroke="#000" stroke-width="1.0"/>
<line x1="439.7" y1="337.7" x2="443.7" y2="337.7" stroke="#000" stroke-width="1.0"/>
<rect x="446.8" y="278.1" width="10.3" height="68.7" fill="#000" stroke="none" stroke-width="1" />
<line x1="452.0" y1="268.5" x2="452.0" y2="279.1" stroke="#000" stroke-width="1.1"/>
<line x1="449.7" y1="268.5" x2="454.3" y2="268.5" stroke="#000" stroke-width="1.1"/>
<text x="444.27" y="361.50" font-size="9.4" font-weight="bold" fill="#000" textLength="5.49" lengthAdjust="spacingAndGlyphs">6</text>
<rect x="470.7" y="298.0" width="10.3" height="48.8" fill="#fff" stroke="#000" stroke-width="1.0" />
<line x1="475.9" y1="291.4" x2="475.9" y2="304.9" stroke="#000" stroke-width="1.0"/>
<line x1="473.9" y1="291.4" x2="477.9" y2="291.4" stroke="#000" stroke-width="1.0"/>
<line x1="473.9" y1="304.9" x2="477.9" y2="304.9" stroke="#000" stroke-width="1.0"/>
<rect x="481.0" y="255.1" width="10.3" height="91.7" fill="#000" stroke="none" stroke-width="1" />
<line x1="486.1" y1="251.5" x2="486.1" y2="256.1" stroke="#000" stroke-width="1.1"/>
<line x1="483.8" y1="251.5" x2="488.4" y2="251.5" stroke="#000" stroke-width="1.1"/>
<text x="475.74" y="361.50" font-size="9.4" font-weight="bold" fill="#000" textLength="10.98" lengthAdjust="spacingAndGlyphs">20</text>
<line x1="312.2" y1="245.5" x2="356.8" y2="245.5" stroke="#000" stroke-width="1.5"/>
<path d="M309.2 245.5 L315.2 242.5 L315.2 248.5Z" fill="#000"/>
<path d="M359.8 245.5 L353.8 242.5 L353.8 248.5Z" fill="#000"/>
<text x="332.6" y="246.0" font-size="11.7" text-anchor="middle" font-weight="bold" fill="#000" >*</text>
<text x="318.70" y="256.80" font-size="9.6" font-weight="bold" fill="#000" textLength="29.70" lengthAdjust="spacingAndGlyphs">(n = 4)</text>
<text x="366.22" y="380.80" font-size="11.8" font-weight="bold" fill="#000" textLength="81.87" lengthAdjust="spacingAndGlyphs">CVT-4325 (μM)</text>
<line x1="61.3" y1="395.6" x2="61.3" y2="516.8" stroke="#6a6a6a" stroke-width="1.3"/>
<line x1="60.7" y1="516.2" x2="254.3" y2="516.2" stroke="#6a6a6a" stroke-width="1.3"/>
<line x1="61.3" y1="455.9" x2="254.3" y2="455.9" stroke="#999" stroke-width="1.0"/>
<line x1="61.3" y1="486.1" x2="62.8" y2="486.1" stroke="#6a6a6a" stroke-width="0.8"/>
<line x1="61.3" y1="425.8" x2="62.8" y2="425.8" stroke="#6a6a6a" stroke-width="0.8"/>
<line x1="80.6" y1="516.2" x2="80.6" y2="514.7" stroke="#6a6a6a" stroke-width="0.8"/>
<line x1="99.9" y1="516.2" x2="99.9" y2="514.7" stroke="#6a6a6a" stroke-width="0.8"/>
<line x1="119.2" y1="516.2" x2="119.2" y2="514.7" stroke="#6a6a6a" stroke-width="0.8"/>
<line x1="138.5" y1="516.2" x2="138.5" y2="514.7" stroke="#6a6a6a" stroke-width="0.8"/>
<line x1="157.8" y1="516.2" x2="157.8" y2="514.7" stroke="#6a6a6a" stroke-width="0.8"/>
<line x1="177.1" y1="516.2" x2="177.1" y2="514.7" stroke="#6a6a6a" stroke-width="0.8"/>
<line x1="196.4" y1="516.2" x2="196.4" y2="514.7" stroke="#6a6a6a" stroke-width="0.8"/>
<line x1="215.7" y1="516.2" x2="215.7" y2="514.7" stroke="#6a6a6a" stroke-width="0.8"/>
<line x1="235.0" y1="516.2" x2="235.0" y2="514.7" stroke="#6a6a6a" stroke-width="0.8"/>
<line x1="254.3" y1="516.2" x2="254.3" y2="514.7" stroke="#6a6a6a" stroke-width="0.8"/>
<text x="51.31" y="403.70" font-size="10.0" font-weight="bold" fill="#000" textLength="5.84" lengthAdjust="spacingAndGlyphs">2</text>
<text x="51.10" y="460.30" font-size="10.0" font-weight="bold" fill="#000" textLength="5.84" lengthAdjust="spacingAndGlyphs">1</text>
<text x="51.29" y="516.60" font-size="10.0" font-weight="bold" fill="#000" textLength="5.84" lengthAdjust="spacingAndGlyphs">0</text>
<text x="61.03" y="531.20" font-size="10.0" font-weight="bold" fill="#000" textLength="5.56" lengthAdjust="spacingAndGlyphs">0</text>
<text x="151.39" y="531.20" font-size="10.0" font-weight="bold" fill="#000" textLength="13.90" lengthAdjust="spacingAndGlyphs">0.5</text>
<text x="252.74" y="531.20" font-size="10.0" font-weight="bold" fill="#000" textLength="5.56" lengthAdjust="spacingAndGlyphs">1</text>
<ellipse cx="128.2" cy="476.0" rx="3.0" ry="1.9" fill="#fff" stroke="#1a1a1a" stroke-width="1.1"/>
<ellipse cx="138.3" cy="495.9" rx="3.0" ry="1.9" fill="#fff" stroke="#1a1a1a" stroke-width="1.1"/>
<ellipse cx="151.2" cy="492.4" rx="3.0" ry="1.9" fill="#fff" stroke="#1a1a1a" stroke-width="1.1"/>
<rect x="182.7" y="401.5" width="68.1" height="11.7" fill="#fff" stroke="#222" stroke-width="0.9" />
<ellipse cx="192.0" cy="407.35" rx="2.8" ry="2.1" fill="#fff" stroke="#222" stroke-width="0.9"/>
<text x="203.55" y="409.65" font-size="6.4" font-weight="normal" fill="#111" textLength="27.93" lengthAdjust="spacingAndGlyphs">DEX+MK</text>
<text transform="translate(36.60,0) rotate(-90)" x="-505.80" y="0" font-size="9.6" font-weight="bold" fill="#000" textLength="107.09" lengthAdjust="spacingAndGlyphs">Combination Index (CI)</text>
<text x="110.84" y="542.20" font-size="10.0" font-weight="bold" fill="#000" textLength="103.85" lengthAdjust="spacingAndGlyphs">Fraction Affected (FA)</text>
<text x="346.84" y="539.80" font-size="9.6" font-weight="bold" fill="#000" textLength="103.45" lengthAdjust="spacingAndGlyphs">Fraction Affected (FA)</text>
<line x1="298.3" y1="390.8" x2="298.3" y2="514.9" stroke="#6a6a6a" stroke-width="1.3"/>
<line x1="297.7" y1="514.3" x2="491.3" y2="514.3" stroke="#6a6a6a" stroke-width="1.3"/>
<line x1="298.3" y1="452.5" x2="491.3" y2="452.5" stroke="#999" stroke-width="1.0"/>
<line x1="298.3" y1="483.4" x2="299.8" y2="483.4" stroke="#6a6a6a" stroke-width="0.8"/>
<line x1="298.3" y1="421.7" x2="299.8" y2="421.7" stroke="#6a6a6a" stroke-width="0.8"/>
<line x1="317.6" y1="514.3" x2="317.6" y2="512.8" stroke="#6a6a6a" stroke-width="0.8"/>
<line x1="336.9" y1="514.3" x2="336.9" y2="512.8" stroke="#6a6a6a" stroke-width="0.8"/>
<line x1="356.2" y1="514.3" x2="356.2" y2="512.8" stroke="#6a6a6a" stroke-width="0.8"/>
<line x1="375.5" y1="514.3" x2="375.5" y2="512.8" stroke="#6a6a6a" stroke-width="0.8"/>
<line x1="394.8" y1="514.3" x2="394.8" y2="512.8" stroke="#6a6a6a" stroke-width="0.8"/>
<line x1="414.1" y1="514.3" x2="414.1" y2="512.8" stroke="#6a6a6a" stroke-width="0.8"/>
<line x1="433.4" y1="514.3" x2="433.4" y2="512.8" stroke="#6a6a6a" stroke-width="0.8"/>
<line x1="452.7" y1="514.3" x2="452.7" y2="512.8" stroke="#6a6a6a" stroke-width="0.8"/>
<line x1="472.0" y1="514.3" x2="472.0" y2="512.8" stroke="#6a6a6a" stroke-width="0.8"/>
<line x1="491.3" y1="514.3" x2="491.3" y2="512.8" stroke="#6a6a6a" stroke-width="0.8"/>
<text x="286.21" y="400.40" font-size="10.0" font-weight="bold" fill="#000" textLength="5.84" lengthAdjust="spacingAndGlyphs">2</text>
<text x="286.00" y="456.70" font-size="10.0" font-weight="bold" fill="#000" textLength="5.84" lengthAdjust="spacingAndGlyphs">1</text>
<text x="286.19" y="513.70" font-size="10.0" font-weight="bold" fill="#000" textLength="5.84" lengthAdjust="spacingAndGlyphs">0</text>
<text x="298.03" y="529.40" font-size="10.0" font-weight="bold" fill="#000" textLength="5.56" lengthAdjust="spacingAndGlyphs">0</text>
<text x="388.39" y="529.40" font-size="10.0" font-weight="bold" fill="#000" textLength="13.90" lengthAdjust="spacingAndGlyphs">0.5</text>
<text x="487.64" y="529.40" font-size="10.0" font-weight="bold" fill="#000" textLength="5.56" lengthAdjust="spacingAndGlyphs">1</text>
<ellipse cx="405.6" cy="512.0" rx="3.0" ry="1.9" fill="#fff" stroke="#1a1a1a" stroke-width="1.1"/>
<ellipse cx="409.3" cy="511.4" rx="3.0" ry="1.9" fill="#fff" stroke="#1a1a1a" stroke-width="1.1"/>
<ellipse cx="410.9" cy="509.7" rx="3.0" ry="1.9" fill="#fff" stroke="#1a1a1a" stroke-width="1.1"/>
<ellipse cx="413.6" cy="508.1" rx="3.0" ry="1.9" fill="#fff" stroke="#1a1a1a" stroke-width="1.1"/>
<rect x="421.3" y="397.5" width="68.0" height="13.0" fill="#fff" stroke="#222" stroke-width="0.9" />
<ellipse cx="430.6" cy="404.0" rx="2.8" ry="2.1" fill="#fff" stroke="#222" stroke-width="0.9"/>
<text x="442.13" y="406.30" font-size="6.4" font-weight="normal" fill="#111" textLength="28.10" lengthAdjust="spacingAndGlyphs">DEX+CV</text>
<text x="2.2" y="571.6" font-size="14" text-anchor="start" font-weight="bold" fill="#000" >D</text>
<line x1="62.2" y1="565.6" x2="62.2" y2="693.3" stroke="#000" stroke-width="2.0"/>
<line x1="61.2" y1="692.3" x2="254.8" y2="692.3" stroke="#000" stroke-width="2.0"/>
<line x1="56.8" y1="692.3" x2="62.2" y2="692.3" stroke="#000" stroke-width="1.2"/>
<text x="52.25" y="696.30" font-size="10.0" font-weight="bold" fill="#000" textLength="5.45" lengthAdjust="spacingAndGlyphs">0</text>
<line x1="56.8" y1="667.1" x2="62.2" y2="667.1" stroke="#000" stroke-width="1.2"/>
<text x="51.90" y="671.06" font-size="10.0" font-weight="bold" fill="#000" textLength="5.45" lengthAdjust="spacingAndGlyphs">4</text>
<line x1="56.8" y1="641.8" x2="62.2" y2="641.8" stroke="#000" stroke-width="1.2"/>
<text x="52.15" y="645.82" font-size="10.0" font-weight="bold" fill="#000" textLength="5.45" lengthAdjust="spacingAndGlyphs">8</text>
<line x1="56.8" y1="616.6" x2="62.2" y2="616.6" stroke="#000" stroke-width="1.2"/>
<text x="46.79" y="620.58" font-size="10.0" font-weight="bold" fill="#000" textLength="10.90" lengthAdjust="spacingAndGlyphs">12</text>
<line x1="56.8" y1="591.3" x2="62.2" y2="591.3" stroke="#000" stroke-width="1.2"/>
<text x="46.75" y="595.34" font-size="10.0" font-weight="bold" fill="#000" textLength="10.90" lengthAdjust="spacingAndGlyphs">16</text>
<line x1="56.8" y1="566.1" x2="62.2" y2="566.1" stroke="#000" stroke-width="1.2"/>
<text x="46.80" y="570.10" font-size="10.0" font-weight="bold" fill="#000" textLength="10.90" lengthAdjust="spacingAndGlyphs">20</text>
<line x1="87.0" y1="692.3" x2="87.0" y2="697.5" stroke="#000" stroke-width="1.8"/>
<line x1="135.0" y1="692.3" x2="135.0" y2="697.5" stroke="#000" stroke-width="1.8"/>
<line x1="183.6" y1="692.3" x2="183.6" y2="697.5" stroke="#000" stroke-width="1.8"/>
<line x1="232.2" y1="692.3" x2="232.2" y2="697.5" stroke="#000" stroke-width="1.8"/>
<text x="87.0" y="711.4" font-size="9.0" text-anchor="middle" font-weight="bold" fill="#000" >Control/20</text>
<text x="135.0" y="711.4" font-size="9.0" text-anchor="middle" font-weight="bold" fill="#000" >MK886</text>
<text x="183.6" y="711.4" font-size="9.0" text-anchor="middle" font-weight="bold" fill="#000" >DEX/10</text>
<text x="232.2" y="711.4" font-size="9.0" text-anchor="middle" font-weight="bold" fill="#000" >DEX+MK886</text>
<circle cx="87.1" cy="591.4" r="2.75" fill="#000"/>
<circle cx="87.1" cy="631.0" r="2.75" fill="#000"/>
<circle cx="87.1" cy="657.5" r="2.75" fill="#000"/>
<line x1="77.4" y1="626.5" x2="96.8" y2="626.5" stroke="#000" stroke-width="1.8"/>
<rect x="132.5" y="659.4" width="5.0" height="5.0" fill="#000" stroke="none" stroke-width="1" />
<rect x="128.9" y="681.1" width="5.0" height="5.0" fill="#000" stroke="none" stroke-width="1" />
<rect x="136.3" y="679.1" width="5.0" height="5.0" fill="#000" stroke="none" stroke-width="1" />
<line x1="125.4" y1="675.8" x2="144.6" y2="675.8" stroke="#000" stroke-width="1.8"/>
<path d="M183.3 613.6L185.8 617.9L180.8 617.9Z" fill="#000"/>
<path d="M183.3 649.0L185.8 653.3L180.8 653.3Z" fill="#000"/>
<path d="M183.3 688.4L185.1 691.5L181.5 691.5Z" fill="#000"/>
<line x1="173.5" y1="652.8" x2="192.7" y2="652.8" stroke="#000" stroke-width="1.8"/>
<path d="M224.8 688.1L227.5 683.4L222.1 683.4Z" fill="#000"/>
<path d="M237.7 690.6L240.2 686.3L235.2 686.3Z" fill="#000"/>
<path d="M231.2 692.5L233.2 689.0L229.2 689.0Z" fill="#000"/>
<line x1="221.5" y1="688.8" x2="240.8" y2="688.8" stroke="#000" stroke-width="1.8"/>
<text transform="translate(33.8,693.0) rotate(-90)" x="0" y="0" font-size="10" font-weight="bold" textLength="130" lengthAdjust="spacingAndGlyphs">x10<tspan font-size="7" dy="-4">4</tspan><tspan dy="4"> CD5</tspan><tspan font-size="7" dy="-4">+</tspan><tspan dy="4"> CD19</tspan><tspan font-size="7" dy="-4">+</tspan><tspan dy="4"> CLL cells</tspan></text>
<line x1="297.7" y1="562.8" x2="297.7" y2="693.6" stroke="#000" stroke-width="2.0"/>
<line x1="296.7" y1="692.6" x2="489.8" y2="692.6" stroke="#000" stroke-width="2.0"/>
<line x1="293.2" y1="692.6" x2="297.7" y2="692.6" stroke="#000" stroke-width="1.2"/>
<text x="287.25" y="697.10" font-size="10.0" font-weight="bold" fill="#000" textLength="5.34" lengthAdjust="spacingAndGlyphs">0</text>
<line x1="293.2" y1="674.1" x2="297.7" y2="674.1" stroke="#000" stroke-width="1.2"/>
<text x="287.13" y="678.65" font-size="10.0" font-weight="bold" fill="#000" textLength="5.34" lengthAdjust="spacingAndGlyphs">5</text>
<line x1="293.2" y1="655.7" x2="297.7" y2="655.7" stroke="#000" stroke-width="1.2"/>
<text x="281.92" y="660.20" font-size="10.0" font-weight="bold" fill="#000" textLength="10.68" lengthAdjust="spacingAndGlyphs">10</text>
<line x1="293.2" y1="637.2" x2="297.7" y2="637.2" stroke="#000" stroke-width="1.2"/>
<text x="281.79" y="641.75" font-size="10.0" font-weight="bold" fill="#000" textLength="10.68" lengthAdjust="spacingAndGlyphs">15</text>
<line x1="293.2" y1="618.8" x2="297.7" y2="618.8" stroke="#000" stroke-width="1.2"/>
<text x="281.92" y="623.30" font-size="10.0" font-weight="bold" fill="#000" textLength="10.68" lengthAdjust="spacingAndGlyphs">20</text>
<line x1="293.2" y1="600.4" x2="297.7" y2="600.4" stroke="#000" stroke-width="1.2"/>
<text x="281.79" y="604.85" font-size="10.0" font-weight="bold" fill="#000" textLength="10.68" lengthAdjust="spacingAndGlyphs">25</text>
<line x1="293.2" y1="581.9" x2="297.7" y2="581.9" stroke="#000" stroke-width="1.2"/>
<text x="281.92" y="586.40" font-size="10.0" font-weight="bold" fill="#000" textLength="10.68" lengthAdjust="spacingAndGlyphs">30</text>
<line x1="293.2" y1="563.5" x2="297.7" y2="563.5" stroke="#000" stroke-width="1.2"/>
<text x="281.79" y="567.95" font-size="10.0" font-weight="bold" fill="#000" textLength="10.68" lengthAdjust="spacingAndGlyphs">35</text>
<line x1="321.2" y1="692.6" x2="321.2" y2="697.8" stroke="#000" stroke-width="1.8"/>
<line x1="369.3" y1="692.6" x2="369.3" y2="697.8" stroke="#000" stroke-width="1.8"/>
<line x1="417.4" y1="692.6" x2="417.4" y2="697.8" stroke="#000" stroke-width="1.8"/>
<line x1="465.5" y1="692.6" x2="465.5" y2="697.8" stroke="#000" stroke-width="1.8"/>
<text x="321.2" y="706.5" font-size="9.1" text-anchor="middle" font-weight="bold" fill="#000" >Control/5</text>
<text x="369.3" y="706.5" font-size="9.1" text-anchor="middle" font-weight="bold" fill="#000" >MK886</text>
<text x="417.4" y="706.5" font-size="9.1" text-anchor="middle" font-weight="bold" fill="#000" >DEX/3</text>
<text x="465.5" y="706.5" font-size="9.1" text-anchor="middle" font-weight="bold" fill="#000" >DEX+MK886</text>
<circle cx="321.2" cy="578.5" r="2.75" fill="#000"/>
<circle cx="321.2" cy="635.7" r="2.75" fill="#000"/>
<circle cx="321.2" cy="679.3" r="2.75" fill="#000"/>
<line x1="311.5" y1="630.9" x2="331.2" y2="630.9" stroke="#000" stroke-width="1.8"/>
<rect x="362.6" y="659.0" width="5.0" height="5.0" fill="#000" stroke="none" stroke-width="1" />
<rect x="371.4" y="659.0" width="5.0" height="5.0" fill="#000" stroke="none" stroke-width="1" />
<rect x="362.6" y="672.4" width="5.0" height="5.0" fill="#000" stroke="none" stroke-width="1" />
<rect x="371.4" y="667.8" width="5.0" height="5.0" fill="#000" stroke="none" stroke-width="1" />
<line x1="359.5" y1="666.9" x2="378.5" y2="666.9" stroke="#000" stroke-width="1.8"/>
<path d="M417.4 617.6L420.2 622.4L414.6 622.4Z" fill="#000"/>
<path d="M413.5 638.3L416.3 643.1L410.7 643.1Z" fill="#000"/>
<path d="M421.1 642.5L423.9 647.3L418.3 647.3Z" fill="#000"/>
<path d="M417.4 668.6L420.2 673.4L414.6 673.4Z" fill="#000"/>
<line x1="408.2" y1="644.2" x2="427.3" y2="644.2" stroke="#000" stroke-width="1.8"/>
<path d="M465.9 680.3L468.7 675.5L463.1 675.5Z" fill="#000"/>
<path d="M461.9 690.9L464.4 686.6L459.4 686.6Z" fill="#000"/>
<path d="M469.5 688.5L472.0 684.2L467.0 684.2Z" fill="#000"/>
<line x1="456.6" y1="684.6" x2="475.1" y2="684.6" stroke="#000" stroke-width="1.8"/>
<line x1="366.6" y1="601.6" x2="475.3" y2="601.6" stroke="#000" stroke-width="1.5"/>
<path d="M363.6 601.6 L369.6 598.6 L369.6 604.6Z" fill="#000"/>
<path d="M478.3 601.6 L472.3 598.6 L472.3 604.6Z" fill="#000"/>
<text x="414.8" y="601.7" font-size="13.0" text-anchor="middle" font-weight="bold" fill="#000" >*</text>
</svg>
</body></html>
